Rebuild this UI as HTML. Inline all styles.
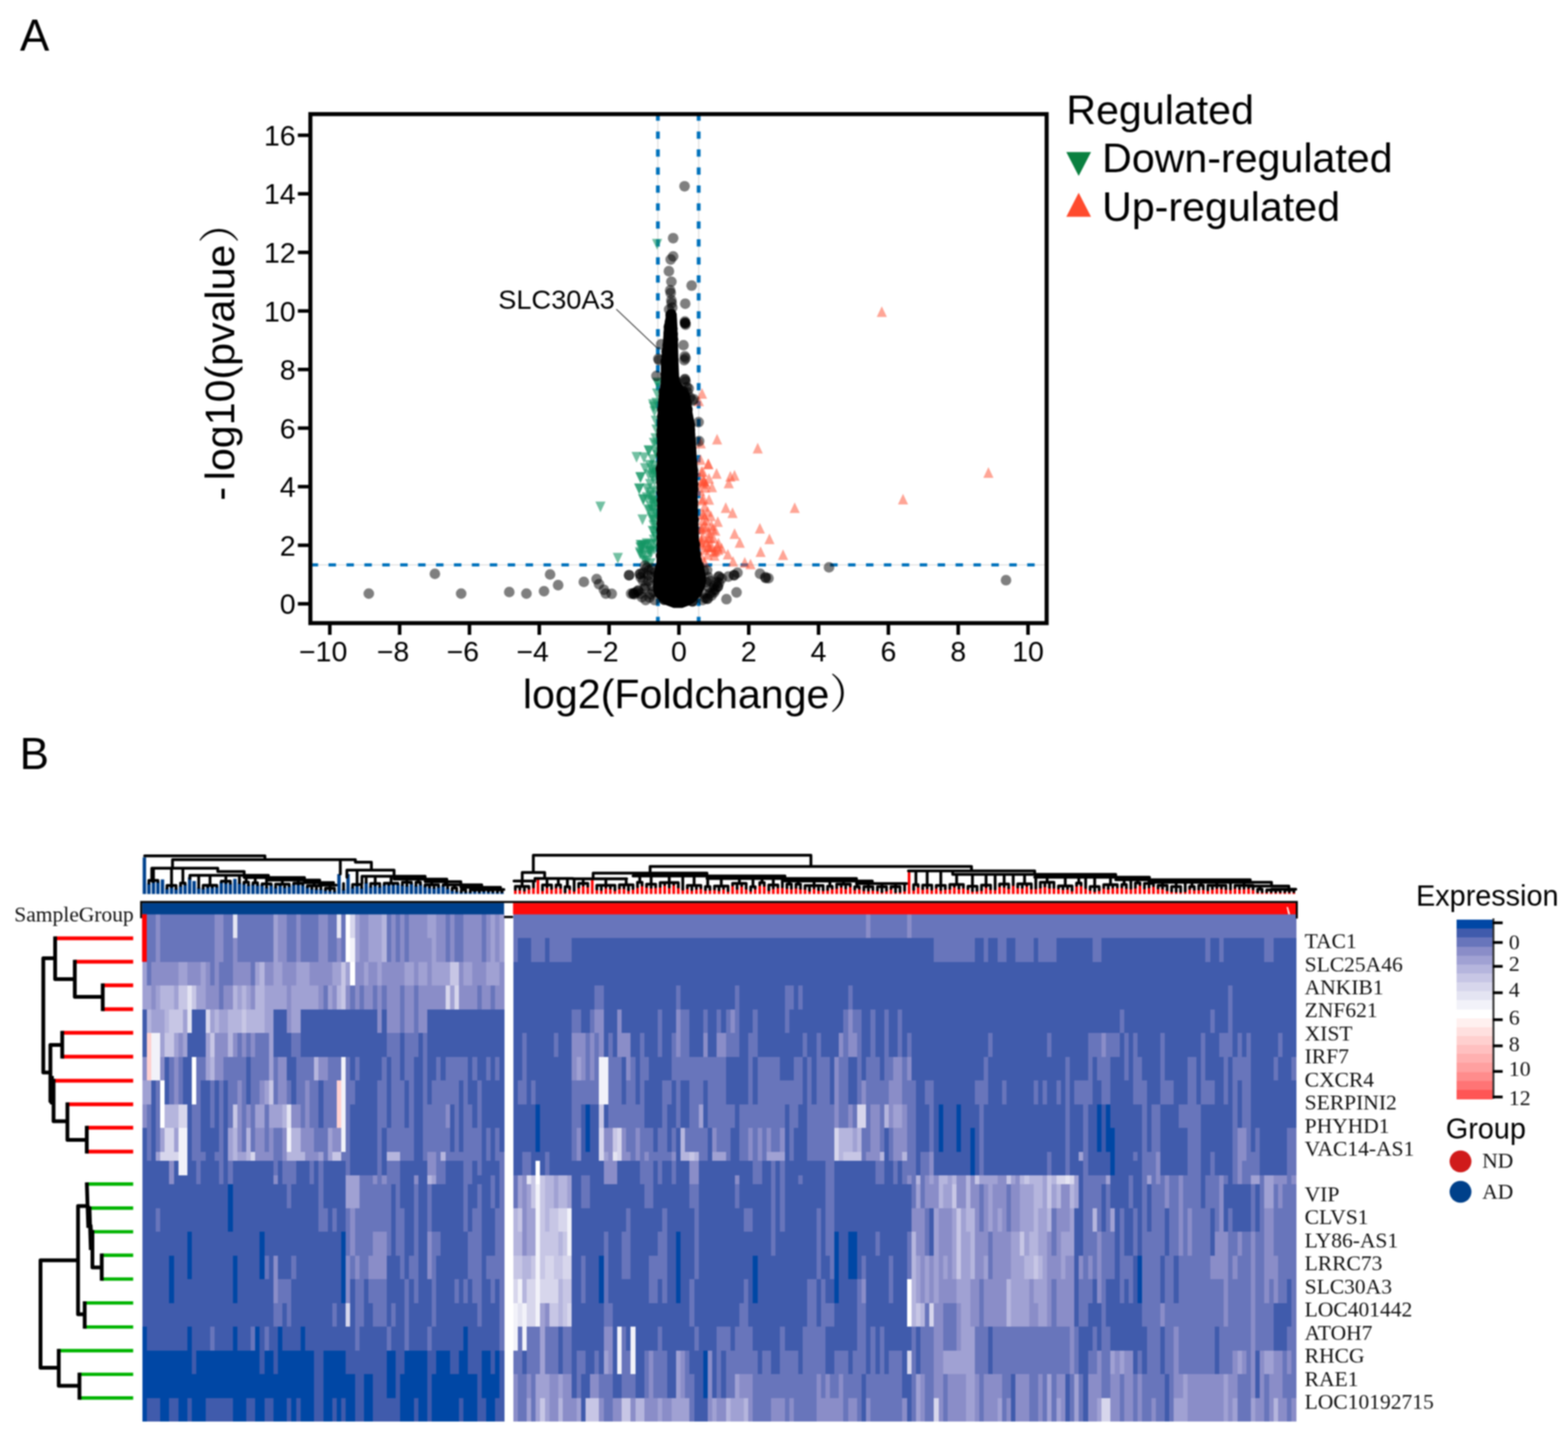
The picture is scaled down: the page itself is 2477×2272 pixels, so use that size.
<!DOCTYPE html>
<html lang="en">
<head>
<meta charset="utf-8">
<title>Figure: volcano plot and expression heatmap</title>
<style>
html,body{margin:0;padding:0;background:#fff;}
body{width:2477px;height:2272px;overflow:hidden;}
svg{display:block;filter:blur(1px);}

</style>
</head>
<body>
<svg width="2477" height="2272" viewBox="0 0 2477 2272" role="img" aria-label="Volcano plot and expression heatmap">
<rect x="0" y="0" width="2477" height="2272" fill="#ffffff"/>
<text x="31.5" y="80" font-family="'Liberation Sans', 'Noto Sans CJK SC', sans-serif" font-size="69.5">A</text>
<text x="31" y="1215.3" font-family="'Liberation Sans', 'Noto Sans CJK SC', sans-serif" font-size="69.5">B</text>
<g id="volcano">
<line x1="490.3" y1="892.5" x2="1653.4" y2="892.5" stroke="#d9d9d9" stroke-width="1.6"/>
<line x1="1039.3" y1="180.3" x2="1039.3" y2="984.5" stroke="#d9d9d9" stroke-width="1.6"/>
<line x1="1103.7" y1="180.3" x2="1103.7" y2="984.5" stroke="#d9d9d9" stroke-width="1.6"/>
<line x1="493.3" y1="892.5" x2="1653.4" y2="892.5" stroke="#0072bc" stroke-width="5.2" stroke-dasharray="11.8 16.5" stroke-dashoffset="2.6"/>
<line x1="1039.3" y1="180.3" x2="1039.3" y2="984.5" stroke="#0072bc" stroke-width="6" stroke-dasharray="11.5 16.9" stroke-dashoffset="1"/>
<line x1="1103.7" y1="180.3" x2="1103.7" y2="984.5" stroke="#0072bc" stroke-width="6" stroke-dasharray="11.5 16.9" stroke-dashoffset="1"/>
<g id="pts-green" fill="#149664" fill-opacity="0.6">
<polygon points="1030.0,377.4 1046.0,377.4 1038.0,394.4"/>
<polygon points="940.5,792.6 956.5,792.6 948.5,809.6"/>
<polygon points="968.0,873.4 984.0,873.4 976.0,890.4"/>
<polygon points="997.6,714.1 1013.6,714.1 1005.6,731.1"/>
<polygon points="1009.3,714.8 1025.3,714.8 1017.3,731.8"/>
<polygon points="1017.0,704.3 1033.0,704.3 1025.0,721.3"/>
<polygon points="1024.5,634.4 1040.5,634.4 1032.5,651.4"/>
<polygon points="1031.0,598.8 1047.0,598.8 1039.0,615.8"/>
<polygon points="1030.5,596.6 1046.5,596.6 1038.5,613.6"/>
<polygon points="1023.7,630.8 1039.7,630.8 1031.7,647.8"/>
<polygon points="1029.0,628.5 1045.0,628.5 1037.0,645.5"/>
<polygon points="1029.0,670.8 1045.0,670.8 1037.0,687.8"/>
<polygon points="1027.5,684.5 1043.5,684.5 1035.5,701.5"/>
<polygon points="1029.0,695.1 1045.0,695.1 1037.0,712.1"/>
<polygon points="1016.8,703.5 1032.8,703.5 1024.8,720.5"/>
<polygon points="1023.0,717.8 1039.0,717.8 1031.0,734.8"/>
<polygon points="1023.0,734.5 1039.0,734.5 1031.0,751.5"/>
<polygon points="1024.4,727.8 1040.4,727.8 1032.4,744.8"/>
<polygon points="1004.0,745.8 1020.0,745.8 1012.0,762.8"/>
<polygon points="1016.8,741.5 1032.8,741.5 1024.8,758.5"/>
<polygon points="1001.7,764.2 1017.7,764.2 1009.7,781.2"/>
<polygon points="1007.8,780.8 1023.8,780.8 1015.8,797.8"/>
<polygon points="1013.8,777.8 1029.8,777.8 1021.8,794.8"/>
<polygon points="1020.0,774.8 1036.0,774.8 1028.0,791.8"/>
<polygon points="1026.0,767.3 1042.0,767.3 1034.0,784.3"/>
<polygon points="1007.0,812.8 1023.0,812.8 1015.0,829.8"/>
<polygon points="1021.4,809.8 1037.4,809.8 1029.4,826.8"/>
<polygon points="1023.0,797.6 1039.0,797.6 1031.0,814.6"/>
<polygon points="1024.4,821.8 1040.4,821.8 1032.4,838.8"/>
<polygon points="1023.0,830.8 1039.0,830.8 1031.0,847.8"/>
<polygon points="1027.5,839.8 1043.5,839.8 1035.5,856.8"/>
<polygon points="1007.8,853.6 1023.8,853.6 1015.8,870.6"/>
<polygon points="1013.8,850.6 1029.8,850.6 1021.8,867.6"/>
<polygon points="1003.5,746.3 1019.5,746.3 1011.5,763.3"/>
<polygon points="1002.0,763.8 1018.0,763.8 1010.0,780.8"/>
<polygon points="1008.5,781.3 1024.5,781.3 1016.5,798.3"/>
<polygon points="1026.0,751.8 1042.0,751.8 1034.0,768.8"/>
<polygon points="1028.0,786.8 1044.0,786.8 1036.0,803.8"/>
<polygon points="1019.0,756.8 1035.0,756.8 1027.0,773.8"/>
<polygon points="1022.0,743.8 1038.0,743.8 1030.0,760.8"/>
<polygon points="1028.0,706.8 1044.0,706.8 1036.0,723.8"/>
<polygon points="1025.0,691.8 1041.0,691.8 1033.0,708.8"/>
<polygon points="1028.0,656.8 1044.0,656.8 1036.0,673.8"/>
<polygon points="1026.0,641.8 1042.0,641.8 1034.0,658.8"/>
<polygon points="1030.0,613.8 1046.0,613.8 1038.0,630.8"/>
<polygon points="1028.0,801.8 1044.0,801.8 1036.0,818.8"/>
<polygon points="1026.0,813.8 1042.0,813.8 1034.0,830.8"/>
<polygon points="1020.0,791.8 1036.0,791.8 1028.0,808.8"/>
<polygon points="1014.0,763.8 1030.0,763.8 1022.0,780.8"/>
<polygon points="1018.0,726.8 1034.0,726.8 1026.0,743.8"/>
<polygon points="1011.0,731.8 1027.0,731.8 1019.0,748.8"/>
<polygon points="1022.0,781.8 1038.0,781.8 1030.0,798.8"/>
<polygon points="1016.0,796.8 1032.0,796.8 1024.0,813.8"/>
<polygon points="1029.0,826.8 1045.0,826.8 1037.0,843.8"/>
<polygon points="1025.0,844.8 1041.0,844.8 1033.0,861.8"/>
<polygon points="1011.1,854.9 1027.1,854.9 1019.1,871.9"/>
<polygon points="1020.2,852.3 1036.2,852.3 1028.2,869.3"/>
<polygon points="1017.0,862.2 1033.0,862.2 1025.0,879.2"/>
<polygon points="1003.6,867.1 1019.6,867.1 1011.6,884.1"/>
<polygon points="1003.0,864.5 1019.0,864.5 1011.0,881.5"/>
<polygon points="1004.0,852.9 1020.0,852.9 1012.0,869.9"/>
<polygon points="1013.9,877.9 1029.9,877.9 1021.9,894.9"/>
<polygon points="1005.5,857.4 1021.5,857.4 1013.5,874.4"/>
<polygon points="1019.6,882.0 1035.6,882.0 1027.6,899.0"/>
<polygon points="1018.2,863.3 1034.2,863.3 1026.2,880.3"/>
<polygon points="1029.3,851.4 1045.3,851.4 1037.3,868.4"/>
<polygon points="1026.0,859.6 1042.0,859.6 1034.0,876.6"/>
<polygon points="1006.0,853.8 1022.0,853.8 1014.0,870.8"/>
<polygon points="1010.6,877.5 1026.6,877.5 1018.6,894.5"/>
<polygon points="1007.1,869.6 1023.1,869.6 1015.1,886.6"/>
<polygon points="1019.9,862.5 1035.9,862.5 1027.9,879.5"/>
<polygon points="1017.3,851.9 1033.3,851.9 1025.3,868.9"/>
<polygon points="1003.7,856.8 1019.7,856.8 1011.7,873.8"/>
<polygon points="1021.1,864.3 1037.1,864.3 1029.1,881.3"/>
<polygon points="1010.8,869.7 1026.8,869.7 1018.8,886.7"/>
<polygon points="1023.9,739.8 1039.9,739.8 1031.9,756.8"/>
<polygon points="1028.3,803.6 1044.3,803.6 1036.3,820.6"/>
<polygon points="1021.2,783.7 1037.2,783.7 1029.2,800.7"/>
<polygon points="1024.8,831.8 1040.8,831.8 1032.8,848.8"/>
<polygon points="1027.5,737.9 1043.5,737.9 1035.5,754.9"/>
<polygon points="1030.7,710.7 1046.7,710.7 1038.7,727.7"/>
<polygon points="1023.4,812.9 1039.4,812.9 1031.4,829.9"/>
<polygon points="1020.0,770.0 1036.0,770.0 1028.0,787.0"/>
<polygon points="1018.5,798.7 1034.5,798.7 1026.5,815.7"/>
<polygon points="1027.9,783.5 1043.9,783.5 1035.9,800.5"/>
<polygon points="1029.4,742.0 1045.4,742.0 1037.4,759.0"/>
<polygon points="1027.0,786.9 1043.0,786.9 1035.0,803.9"/>
</g>
<g id="pts-red" fill="#ff4b2e" fill-opacity="0.5">
<polygon points="1385.0,500.7 1401.0,500.7 1393.0,483.9"/>
<polygon points="1553.4,754.9 1569.4,754.9 1561.4,738.1"/>
<polygon points="1418.5,797.0 1434.5,797.0 1426.5,780.2"/>
<polygon points="1247.4,810.5 1263.4,810.5 1255.4,793.7"/>
<polygon points="1101.0,629.9 1117.0,629.9 1109.0,613.1"/>
<polygon points="1096.0,641.8 1112.0,641.8 1104.0,625.0"/>
<polygon points="1124.8,702.3 1140.8,702.3 1132.8,685.5"/>
<polygon points="1189.0,716.4 1205.0,716.4 1197.0,699.6"/>
<polygon points="1111.0,741.0 1127.0,741.0 1119.0,724.2"/>
<polygon points="1124.0,756.4 1140.0,756.4 1132.0,739.6"/>
<polygon points="1145.8,760.9 1161.8,760.9 1153.8,744.1"/>
<polygon points="1152.3,759.4 1168.3,759.4 1160.3,742.6"/>
<polygon points="1143.2,771.4 1159.2,771.4 1151.2,754.6"/>
<polygon points="1104.7,768.4 1120.7,768.4 1112.7,751.6"/>
<polygon points="1112.0,764.2 1128.0,764.2 1120.0,747.4"/>
<polygon points="1116.8,777.8 1132.8,777.8 1124.8,761.0"/>
<polygon points="1103.0,796.0 1119.0,796.0 1111.0,779.2"/>
<polygon points="1112.0,797.4 1128.0,797.4 1120.0,780.6"/>
<polygon points="1138.5,810.4 1154.5,810.4 1146.5,793.6"/>
<polygon points="1149.2,818.4 1165.2,818.4 1157.2,801.6"/>
<polygon points="1192.4,843.0 1208.4,843.0 1200.4,826.2"/>
<polygon points="1152.4,851.4 1168.4,851.4 1160.4,834.6"/>
<polygon points="1207.5,859.8 1223.5,859.8 1215.5,843.0"/>
<polygon points="1160.6,865.4 1176.6,865.4 1168.6,848.6"/>
<polygon points="1193.5,880.0 1209.5,880.0 1201.5,863.2"/>
<polygon points="1229.0,884.7 1245.0,884.7 1237.0,867.9"/>
<polygon points="1141.8,884.0 1157.8,884.0 1149.8,867.2"/>
<polygon points="1120.5,885.9 1136.5,885.9 1128.5,869.1"/>
<polygon points="1150.0,895.2 1166.0,895.2 1158.0,878.4"/>
<polygon points="1168.5,896.9 1184.5,896.9 1176.5,880.1"/>
<polygon points="1177.6,899.6 1193.6,899.6 1185.6,882.8"/>
<polygon points="1098.7,734.4 1114.7,734.4 1106.7,717.6"/>
<polygon points="1110.8,741.4 1126.8,741.4 1118.8,724.6"/>
<polygon points="1102.0,753.4 1118.0,753.4 1110.0,736.6"/>
<polygon points="1100.0,770.4 1116.0,770.4 1108.0,753.6"/>
<polygon points="1106.0,778.4 1122.0,778.4 1114.0,761.6"/>
<polygon points="1101.0,798.4 1117.0,798.4 1109.0,781.6"/>
<polygon points="1105.0,808.4 1121.0,808.4 1113.0,791.6"/>
<polygon points="1110.0,816.4 1126.0,816.4 1118.0,799.6"/>
<polygon points="1115.0,823.4 1131.0,823.4 1123.0,806.6"/>
<polygon points="1102.0,820.4 1118.0,820.4 1110.0,803.6"/>
<polygon points="1108.0,830.4 1124.0,830.4 1116.0,813.6"/>
<polygon points="1116.0,838.4 1132.0,838.4 1124.0,821.6"/>
<polygon points="1122.0,846.4 1138.0,846.4 1130.0,829.6"/>
<polygon points="1104.0,840.4 1120.0,840.4 1112.0,823.6"/>
<polygon points="1112.0,850.4 1128.0,850.4 1120.0,833.6"/>
<polygon points="1119.0,858.4 1135.0,858.4 1127.0,841.6"/>
<polygon points="1127.0,866.4 1143.0,866.4 1135.0,849.6"/>
<polygon points="1132.0,874.4 1148.0,874.4 1140.0,857.6"/>
<polygon points="1102.0,856.4 1118.0,856.4 1110.0,839.6"/>
<polygon points="1108.0,864.4 1124.0,864.4 1116.0,847.6"/>
<polygon points="1114.0,872.4 1130.0,872.4 1122.0,855.6"/>
<polygon points="1122.0,878.4 1138.0,878.4 1130.0,861.6"/>
<polygon points="1104.0,876.4 1120.0,876.4 1112.0,859.6"/>
<polygon points="1110.0,884.4 1126.0,884.4 1118.0,867.6"/>
<polygon points="1100.0,888.4 1116.0,888.4 1108.0,871.6"/>
<polygon points="1105.0,896.4 1121.0,896.4 1113.0,879.6"/>
<polygon points="1099.0,868.4 1115.0,868.4 1107.0,851.6"/>
<polygon points="1104.0,768.4 1120.0,768.4 1112.0,751.6"/>
<polygon points="1107.0,772.4 1123.0,772.4 1115.0,755.6"/>
<polygon points="1102.0,766.4 1118.0,766.4 1110.0,749.6"/>
<polygon points="1099.0,708.4 1115.0,708.4 1107.0,691.6"/>
<polygon points="1100.0,753.4 1116.0,753.4 1108.0,736.6"/>
<polygon points="1098.0,783.4 1114.0,783.4 1106.0,766.6"/>
<polygon points="1117.7,844.0 1133.7,844.0 1125.7,827.2"/>
<polygon points="1126.6,876.7 1142.6,876.7 1134.6,859.9"/>
<polygon points="1114.1,857.9 1130.1,857.9 1122.1,841.1"/>
<polygon points="1100.1,860.4 1116.1,860.4 1108.1,843.6"/>
<polygon points="1120.0,879.9 1136.0,879.9 1128.0,863.1"/>
<polygon points="1125.9,832.5 1141.9,832.5 1133.9,815.7"/>
<polygon points="1111.1,858.2 1127.1,858.2 1119.1,841.4"/>
<polygon points="1098.8,844.3 1114.8,844.3 1106.8,827.5"/>
<polygon points="1103.7,821.2 1119.7,821.2 1111.7,804.4"/>
<polygon points="1100.0,864.9 1116.0,864.9 1108.0,848.1"/>
<polygon points="1102.4,830.0 1118.4,830.0 1110.4,813.2"/>
<polygon points="1111.3,871.8 1127.3,871.8 1119.3,855.0"/>
<polygon points="1100.7,843.5 1116.7,843.5 1108.7,826.7"/>
<polygon points="1116.7,872.6 1132.7,872.6 1124.7,855.8"/>
<polygon points="1125.9,871.3 1141.9,871.3 1133.9,854.5"/>
<polygon points="1107.5,841.2 1123.5,841.2 1115.5,824.4"/>
<polygon points="1110.2,872.6 1126.2,872.6 1118.2,855.8"/>
</g>
<g id="pts-grey" fill="#000" fill-opacity="0.5">
<circle cx="582.6" cy="937.9" r="8.4"/>
<circle cx="687.0" cy="906.6" r="8.4"/>
<circle cx="728.5" cy="937.9" r="8.4"/>
<circle cx="804.5" cy="935.4" r="8.4"/>
<circle cx="831.6" cy="937.9" r="8.4"/>
<circle cx="859.4" cy="934.1" r="8.4"/>
<circle cx="869.0" cy="907.6" r="8.4"/>
<circle cx="881.7" cy="924.5" r="8.4"/>
<circle cx="922.3" cy="919.4" r="8.4"/>
<circle cx="942.5" cy="915.0" r="8.4"/>
<circle cx="946.3" cy="923.0" r="8.4"/>
<circle cx="954.0" cy="931.8" r="8.4"/>
<circle cx="957.0" cy="937.8" r="8.4"/>
<circle cx="966.3" cy="938.2" r="8.4"/>
<circle cx="1309.6" cy="896.4" r="8.4"/>
<circle cx="1589.2" cy="916.7" r="8.4"/>
<circle cx="1081.4" cy="294.3" r="8.4"/>
<circle cx="1063.4" cy="376.3" r="8.4"/>
<circle cx="1063.4" cy="405.1" r="8.4"/>
<circle cx="1059.5" cy="410.0" r="8.4"/>
<circle cx="1056.7" cy="428.5" r="8.4"/>
<circle cx="1060.6" cy="445.1" r="8.4"/>
<circle cx="1092.6" cy="451.2" r="8.4"/>
<circle cx="1058.7" cy="458.6" r="8.4"/>
<circle cx="1059.5" cy="463.0" r="8.4"/>
<circle cx="1060.6" cy="474.4" r="8.4"/>
<circle cx="1061.0" cy="479.0" r="8.4"/>
<circle cx="1082.5" cy="479.8" r="8.4"/>
<circle cx="1057.0" cy="489.0" r="8.4"/>
<circle cx="1062.0" cy="486.0" r="8.4"/>
<circle cx="1082.3" cy="510.5" r="8.4"/>
<circle cx="1082.3" cy="510.5" r="8.4"/>
<circle cx="1082.0" cy="508.0" r="8.4"/>
<circle cx="1083.0" cy="513.0" r="8.4"/>
<circle cx="1082.3" cy="510.5" r="8.4"/>
<circle cx="1079.7" cy="545.4" r="8.4"/>
<circle cx="1081.8" cy="563.0" r="8.4"/>
<circle cx="1081.0" cy="569.0" r="8.4"/>
<circle cx="1083.0" cy="566.0" r="8.4"/>
<circle cx="1044.5" cy="544.0" r="8.4"/>
<circle cx="1040.0" cy="567.0" r="8.4"/>
<circle cx="1041.0" cy="569.0" r="8.4"/>
<circle cx="1037.0" cy="594.0" r="8.4"/>
<circle cx="1082.0" cy="599.0" r="8.4"/>
<circle cx="1082.0" cy="600.0" r="8.4"/>
<circle cx="1083.0" cy="603.0" r="8.4"/>
<circle cx="1085.0" cy="612.0" r="8.4"/>
<circle cx="1088.0" cy="614.0" r="8.4"/>
<circle cx="1086.0" cy="620.0" r="8.4"/>
<circle cx="1090.0" cy="628.0" r="8.4"/>
<circle cx="1094.0" cy="633.0" r="8.4"/>
<circle cx="1096.0" cy="631.0" r="8.4"/>
<circle cx="993.8" cy="908.8" r="8.4"/>
<circle cx="993.8" cy="908.8" r="8.4"/>
<circle cx="1011.0" cy="907.0" r="8.4"/>
<circle cx="1011.0" cy="907.0" r="8.4"/>
<circle cx="1018.8" cy="893.6" r="8.4"/>
<circle cx="1025.0" cy="901.0" r="8.4"/>
<circle cx="1015.8" cy="918.0" r="8.4"/>
<circle cx="1020.0" cy="925.5" r="8.4"/>
<circle cx="1000.6" cy="937.6" r="8.4"/>
<circle cx="1000.6" cy="937.6" r="8.4"/>
<circle cx="1008.0" cy="933.0" r="8.4"/>
<circle cx="1008.0" cy="934.0" r="8.4"/>
<circle cx="1014.0" cy="943.6" r="8.4"/>
<circle cx="1028.0" cy="939.0" r="8.4"/>
<circle cx="1034.0" cy="948.0" r="8.4"/>
<circle cx="1029.4" cy="911.8" r="8.4"/>
<circle cx="1035.5" cy="904.0" r="8.4"/>
<circle cx="1012.0" cy="912.0" r="8.4"/>
<circle cx="1016.0" cy="905.0" r="8.4"/>
<circle cx="1022.0" cy="897.0" r="8.4"/>
<circle cx="1018.0" cy="930.0" r="8.4"/>
<circle cx="1004.0" cy="936.0" r="8.4"/>
<circle cx="1012.0" cy="938.0" r="8.4"/>
<circle cx="1024.0" cy="918.0" r="8.4"/>
<circle cx="1030.0" cy="926.0" r="8.4"/>
<circle cx="1026.0" cy="944.0" r="8.4"/>
<circle cx="1020.0" cy="948.0" r="8.4"/>
<circle cx="1030.0" cy="898.0" r="8.4"/>
<circle cx="1024.0" cy="909.0" r="8.4"/>
<circle cx="1032.0" cy="935.0" r="8.4"/>
<circle cx="1002.0" cy="939.0" r="8.4"/>
<circle cx="997.0" cy="938.0" r="8.4"/>
<circle cx="1117.0" cy="901.0" r="8.4"/>
<circle cx="1118.8" cy="911.8" r="8.4"/>
<circle cx="1135.5" cy="911.0" r="8.4"/>
<circle cx="1135.5" cy="911.0" r="8.4"/>
<circle cx="1132.4" cy="919.4" r="8.4"/>
<circle cx="1134.0" cy="927.0" r="8.4"/>
<circle cx="1134.0" cy="927.0" r="8.4"/>
<circle cx="1126.4" cy="933.0" r="8.4"/>
<circle cx="1121.8" cy="937.6" r="8.4"/>
<circle cx="1114.0" cy="945.0" r="8.4"/>
<circle cx="1150.6" cy="911.0" r="8.4"/>
<circle cx="1165.0" cy="905.0" r="8.4"/>
<circle cx="1159.7" cy="908.8" r="8.4"/>
<circle cx="1159.7" cy="908.8" r="8.4"/>
<circle cx="1163.5" cy="936.0" r="8.4"/>
<circle cx="1147.6" cy="946.7" r="8.4"/>
<circle cx="1200.6" cy="906.5" r="8.4"/>
<circle cx="1209.7" cy="913.3" r="8.4"/>
<circle cx="1214.0" cy="913.6" r="8.4"/>
<circle cx="1209.0" cy="912.0" r="8.4"/>
<circle cx="1128.0" cy="925.0" r="8.4"/>
<circle cx="1130.0" cy="932.0" r="8.4"/>
<circle cx="1124.0" cy="941.0" r="8.4"/>
<circle cx="1118.0" cy="946.0" r="8.4"/>
<circle cx="1122.0" cy="918.0" r="8.4"/>
<circle cx="1128.0" cy="936.0" r="8.4"/>
<circle cx="1136.0" cy="921.0" r="8.4"/>
<circle cx="1140.0" cy="914.0" r="8.4"/>
<circle cx="1112.0" cy="902.0" r="8.4"/>
<circle cx="1116.0" cy="920.0" r="8.4"/>
<circle cx="1120.0" cy="928.0" r="8.4"/>
<circle cx="1112.0" cy="938.0" r="8.4"/>
<circle cx="1117.0" cy="946.0" r="8.4"/>
<circle cx="1110.0" cy="948.0" r="8.4"/>
<circle cx="1104.4" cy="697.0" r="8.4"/>
<circle cx="1103.6" cy="667.0" r="8.4"/>
</g>
<polygon points="1056.0,489.5 1052.5,496.0 1049.0,515.0 1047.0,545.0 1044.0,576.0 1044.0,600.0 1043.0,612.0 1041.0,622.0 1039.5,637.0 1039.0,652.0 1038.0,667.0 1038.0,697.0 1038.0,727.0 1036.5,745.0 1038.5,790.0 1038.0,820.0 1037.5,851.0 1037.5,875.0 1037.0,889.0 1034.0,900.0 1032.0,912.0 1031.5,925.0 1032.0,934.0 1036.0,943.0 1043.0,950.0 1052.0,956.0 1064.0,960.5 1078.0,960.5 1090.0,956.0 1099.0,950.0 1105.0,943.0 1110.5,934.0 1114.0,925.0 1115.5,912.0 1113.0,900.0 1109.0,889.0 1106.0,875.0 1104.0,851.0 1103.0,820.0 1102.0,790.0 1102.5,745.0 1101.0,727.0 1099.0,697.0 1097.0,667.0 1094.0,652.0 1092.0,637.0 1090.0,622.0 1080.0,612.0 1073.0,600.0 1072.0,576.0 1071.0,545.0 1070.0,515.0 1069.0,496.0 1066.0,489.5" fill="#000"/>
<g id="pts-edge" fill="#000" fill-opacity="0.85">
<circle cx="1059.4" cy="498.0" r="8.4"/>
<circle cx="1060.2" cy="496.4" r="8.4"/>
<circle cx="1058.8" cy="507.4" r="8.4"/>
<circle cx="1060.8" cy="504.4" r="8.4"/>
<circle cx="1056.7" cy="516.5" r="8.4"/>
<circle cx="1062.1" cy="519.2" r="8.4"/>
<circle cx="1056.4" cy="527.0" r="8.4"/>
<circle cx="1062.6" cy="528.0" r="8.4"/>
<circle cx="1056.9" cy="534.2" r="8.4"/>
<circle cx="1063.2" cy="536.5" r="8.4"/>
<circle cx="1054.8" cy="545.2" r="8.4"/>
<circle cx="1062.6" cy="542.9" r="8.4"/>
<circle cx="1053.0" cy="555.4" r="8.4"/>
<circle cx="1062.0" cy="553.7" r="8.4"/>
<circle cx="1053.0" cy="563.2" r="8.4"/>
<circle cx="1062.2" cy="560.2" r="8.4"/>
<circle cx="1051.6" cy="571.0" r="8.4"/>
<circle cx="1063.3" cy="568.1" r="8.4"/>
<circle cx="1052.5" cy="582.3" r="8.4"/>
<circle cx="1063.2" cy="580.9" r="8.4"/>
<circle cx="1051.8" cy="591.1" r="8.4"/>
<circle cx="1063.5" cy="593.2" r="8.4"/>
<circle cx="1051.8" cy="603.0" r="8.4"/>
<circle cx="1066.6" cy="600.6" r="8.4"/>
<circle cx="1050.8" cy="610.6" r="8.4"/>
<circle cx="1070.4" cy="612.5" r="8.4"/>
<circle cx="1048.6" cy="618.4" r="8.4"/>
<circle cx="1079.4" cy="618.5" r="8.4"/>
<circle cx="1048.9" cy="626.1" r="8.4"/>
<circle cx="1081.1" cy="626.3" r="8.4"/>
<circle cx="1048.6" cy="638.0" r="8.4"/>
<circle cx="1084.5" cy="636.6" r="8.4"/>
<circle cx="1046.4" cy="646.8" r="8.4"/>
<circle cx="1085.9" cy="647.0" r="8.4"/>
<circle cx="1046.3" cy="657.7" r="8.4"/>
<circle cx="1086.2" cy="659.6" r="8.4"/>
<circle cx="1047.1" cy="669.6" r="8.4"/>
<circle cx="1089.9" cy="671.6" r="8.4"/>
<circle cx="1045.4" cy="680.3" r="8.4"/>
<circle cx="1089.8" cy="679.5" r="8.4"/>
<circle cx="1044.9" cy="687.5" r="8.4"/>
<circle cx="1089.6" cy="686.0" r="8.4"/>
<circle cx="1047.4" cy="697.9" r="8.4"/>
<circle cx="1090.8" cy="700.6" r="8.4"/>
<circle cx="1047.4" cy="709.9" r="8.4"/>
<circle cx="1091.3" cy="708.2" r="8.4"/>
<circle cx="1045.3" cy="718.0" r="8.4"/>
<circle cx="1091.5" cy="718.8" r="8.4"/>
<circle cx="1046.9" cy="729.5" r="8.4"/>
<circle cx="1093.0" cy="730.4" r="8.4"/>
<circle cx="1043.9" cy="740.5" r="8.4"/>
<circle cx="1094.4" cy="743.0" r="8.4"/>
<circle cx="1045.6" cy="751.4" r="8.4"/>
<circle cx="1094.2" cy="749.5" r="8.4"/>
<circle cx="1045.0" cy="762.4" r="8.4"/>
<circle cx="1095.0" cy="765.2" r="8.4"/>
<circle cx="1045.6" cy="771.4" r="8.4"/>
<circle cx="1095.3" cy="772.7" r="8.4"/>
<circle cx="1045.2" cy="779.2" r="8.4"/>
<circle cx="1093.0" cy="781.6" r="8.4"/>
<circle cx="1045.7" cy="790.2" r="8.4"/>
<circle cx="1094.7" cy="793.1" r="8.4"/>
<circle cx="1046.1" cy="800.5" r="8.4"/>
<circle cx="1094.3" cy="798.3" r="8.4"/>
<circle cx="1047.6" cy="807.6" r="8.4"/>
<circle cx="1094.8" cy="807.8" r="8.4"/>
<circle cx="1046.0" cy="819.3" r="8.4"/>
<circle cx="1095.8" cy="821.2" r="8.4"/>
<circle cx="1045.4" cy="827.3" r="8.4"/>
<circle cx="1094.5" cy="825.8" r="8.4"/>
<circle cx="1045.2" cy="837.3" r="8.4"/>
<circle cx="1095.2" cy="835.0" r="8.4"/>
<circle cx="1045.3" cy="848.8" r="8.4"/>
<circle cx="1095.7" cy="849.3" r="8.4"/>
<circle cx="1045.4" cy="860.3" r="8.4"/>
<circle cx="1097.8" cy="860.3" r="8.4"/>
<circle cx="1045.7" cy="870.0" r="8.4"/>
<circle cx="1096.1" cy="869.6" r="8.4"/>
<circle cx="1044.2" cy="877.9" r="8.4"/>
<circle cx="1099.3" cy="875.9" r="8.4"/>
<circle cx="1045.8" cy="887.3" r="8.4"/>
<circle cx="1100.6" cy="886.2" r="8.4"/>
<circle cx="1043.2" cy="896.9" r="8.4"/>
<circle cx="1104.5" cy="894.5" r="8.4"/>
<circle cx="1040.4" cy="906.7" r="8.4"/>
<circle cx="1105.6" cy="908.3" r="8.4"/>
<circle cx="1040.2" cy="916.2" r="8.4"/>
<circle cx="1107.6" cy="918.7" r="8.4"/>
<circle cx="1040.0" cy="925.4" r="8.4"/>
<circle cx="1105.7" cy="925.5" r="8.4"/>
<circle cx="1040.9" cy="935.9" r="8.4"/>
<circle cx="1101.3" cy="935.7" r="8.4"/>
<circle cx="1049.3" cy="947.6" r="8.4"/>
<circle cx="1093.9" cy="950.2" r="8.4"/>
</g>
<rect x="490.3" y="180.3" width="1163.1000000000001" height="804.2" fill="none" stroke="#000" stroke-width="6.4"/>
<line x1="470.5" y1="954.0" x2="490.3" y2="954.0" stroke="#000" stroke-width="5.6"/>
<text x="467" y="970.2" text-anchor="end" font-family="'Liberation Sans', 'Noto Sans CJK SC', sans-serif" font-size="45">0</text>
<line x1="470.5" y1="861.5" x2="490.3" y2="861.5" stroke="#000" stroke-width="5.6"/>
<text x="467" y="877.7" text-anchor="end" font-family="'Liberation Sans', 'Noto Sans CJK SC', sans-serif" font-size="45">2</text>
<line x1="470.5" y1="768.9" x2="490.3" y2="768.9" stroke="#000" stroke-width="5.6"/>
<text x="467" y="785.1" text-anchor="end" font-family="'Liberation Sans', 'Noto Sans CJK SC', sans-serif" font-size="45">4</text>
<line x1="470.5" y1="676.4" x2="490.3" y2="676.4" stroke="#000" stroke-width="5.6"/>
<text x="467" y="692.6" text-anchor="end" font-family="'Liberation Sans', 'Noto Sans CJK SC', sans-serif" font-size="45">6</text>
<line x1="470.5" y1="583.8" x2="490.3" y2="583.8" stroke="#000" stroke-width="5.6"/>
<text x="467" y="600.0" text-anchor="end" font-family="'Liberation Sans', 'Noto Sans CJK SC', sans-serif" font-size="45">8</text>
<line x1="470.5" y1="491.3" x2="490.3" y2="491.3" stroke="#000" stroke-width="5.6"/>
<text x="467" y="507.5" text-anchor="end" font-family="'Liberation Sans', 'Noto Sans CJK SC', sans-serif" font-size="45">10</text>
<line x1="470.5" y1="398.8" x2="490.3" y2="398.8" stroke="#000" stroke-width="5.6"/>
<text x="467" y="415.0" text-anchor="end" font-family="'Liberation Sans', 'Noto Sans CJK SC', sans-serif" font-size="45">12</text>
<line x1="470.5" y1="306.2" x2="490.3" y2="306.2" stroke="#000" stroke-width="5.6"/>
<text x="467" y="322.4" text-anchor="end" font-family="'Liberation Sans', 'Noto Sans CJK SC', sans-serif" font-size="45">14</text>
<line x1="470.5" y1="213.7" x2="490.3" y2="213.7" stroke="#000" stroke-width="5.6"/>
<text x="467" y="229.9" text-anchor="end" font-family="'Liberation Sans', 'Noto Sans CJK SC', sans-serif" font-size="45">16</text>
<line x1="521.0" y1="984.5" x2="521.0" y2="1003" stroke="#000" stroke-width="5.6"/>
<text x="510.5" y="1044.8" text-anchor="middle" font-family="'Liberation Sans', 'Noto Sans CJK SC', sans-serif" font-size="45">−10</text>
<line x1="631.3" y1="984.5" x2="631.3" y2="1003" stroke="#000" stroke-width="5.6"/>
<text x="620.8" y="1044.8" text-anchor="middle" font-family="'Liberation Sans', 'Noto Sans CJK SC', sans-serif" font-size="45">−8</text>
<line x1="741.6" y1="984.5" x2="741.6" y2="1003" stroke="#000" stroke-width="5.6"/>
<text x="731.1" y="1044.8" text-anchor="middle" font-family="'Liberation Sans', 'Noto Sans CJK SC', sans-serif" font-size="45">−6</text>
<line x1="851.9" y1="984.5" x2="851.9" y2="1003" stroke="#000" stroke-width="5.6"/>
<text x="841.4" y="1044.8" text-anchor="middle" font-family="'Liberation Sans', 'Noto Sans CJK SC', sans-serif" font-size="45">−4</text>
<line x1="962.2" y1="984.5" x2="962.2" y2="1003" stroke="#000" stroke-width="5.6"/>
<text x="951.7" y="1044.8" text-anchor="middle" font-family="'Liberation Sans', 'Noto Sans CJK SC', sans-serif" font-size="45">−2</text>
<line x1="1072.5" y1="984.5" x2="1072.5" y2="1003" stroke="#000" stroke-width="5.6"/>
<text x="1072.5" y="1044.8" text-anchor="middle" font-family="'Liberation Sans', 'Noto Sans CJK SC', sans-serif" font-size="45">0</text>
<line x1="1182.8" y1="984.5" x2="1182.8" y2="1003" stroke="#000" stroke-width="5.6"/>
<text x="1182.8" y="1044.8" text-anchor="middle" font-family="'Liberation Sans', 'Noto Sans CJK SC', sans-serif" font-size="45">2</text>
<line x1="1293.1" y1="984.5" x2="1293.1" y2="1003" stroke="#000" stroke-width="5.6"/>
<text x="1293.1" y="1044.8" text-anchor="middle" font-family="'Liberation Sans', 'Noto Sans CJK SC', sans-serif" font-size="45">4</text>
<line x1="1403.4" y1="984.5" x2="1403.4" y2="1003" stroke="#000" stroke-width="5.6"/>
<text x="1403.4" y="1044.8" text-anchor="middle" font-family="'Liberation Sans', 'Noto Sans CJK SC', sans-serif" font-size="45">6</text>
<line x1="1513.7" y1="984.5" x2="1513.7" y2="1003" stroke="#000" stroke-width="5.6"/>
<text x="1513.7" y="1044.8" text-anchor="middle" font-family="'Liberation Sans', 'Noto Sans CJK SC', sans-serif" font-size="45">8</text>
<line x1="1624.0" y1="984.5" x2="1624.0" y2="1003" stroke="#000" stroke-width="5.6"/>
<text x="1624.0" y="1044.8" text-anchor="middle" font-family="'Liberation Sans', 'Noto Sans CJK SC', sans-serif" font-size="45">10</text>
<text x="826" y="1119.3" font-family="'Liberation Sans', 'Noto Serif CJK SC', sans-serif" font-size="65">log2(Foldchange）</text>
<text transform="translate(369.8,791) rotate(-90)" font-family="'Liberation Sans', 'Noto Serif CJK SC', sans-serif" font-size="65">-<tspan dx="10.6">log10(pvalue</tspan><tspan dx="2">）</tspan></text>
<line x1="973.5" y1="488.5" x2="1040.5" y2="552" stroke="#333" stroke-width="1.5"/>
<text x="787" y="488" font-family="'Liberation Sans', 'Noto Sans CJK SC', sans-serif" font-size="43">SLC30A3</text>
<text x="1684.5" y="195.5" font-family="'Liberation Sans', 'Noto Sans CJK SC', sans-serif" font-size="65">Regulated</text>
<polygon points="1684.5,240.3 1723.5,240.3 1704,278" fill="#0a8040"/>
<text x="1741" y="271.6" font-family="'Liberation Sans', 'Noto Sans CJK SC', sans-serif" font-size="65">Down-regulated</text>
<polygon points="1684.5,342.6 1723.5,342.6 1704,304.6" fill="#ff4b2e"/>
<text x="1741" y="349.3" font-family="'Liberation Sans', 'Noto Sans CJK SC', sans-serif" font-size="65">Up-regulated</text>
</g>
<g id="heatmap" shape-rendering="crispEdges">
<rect x="224.50" y="1444.40" width="21.75" height="37.95" fill="#6875bb"/>
<rect x="245.95" y="1444.40" width="7.45" height="37.95" fill="#8a8dc8"/>
<rect x="253.10" y="1444.40" width="86.10" height="37.95" fill="#6875bb"/>
<rect x="338.90" y="1444.40" width="14.60" height="37.95" fill="#8a8dc8"/>
<rect x="353.20" y="1444.40" width="14.60" height="37.95" fill="#6875bb"/>
<rect x="367.50" y="1444.40" width="7.45" height="37.95" fill="#e4e4f2"/>
<rect x="374.65" y="1444.40" width="57.50" height="37.95" fill="#6875bb"/>
<rect x="431.85" y="1444.40" width="7.45" height="37.95" fill="#a0a1d3"/>
<rect x="439.00" y="1444.40" width="14.60" height="37.95" fill="#8a8dc8"/>
<rect x="453.30" y="1444.40" width="14.60" height="37.95" fill="#6875bb"/>
<rect x="467.60" y="1444.40" width="7.45" height="37.95" fill="#8a8dc8"/>
<rect x="474.75" y="1444.40" width="28.90" height="37.95" fill="#6875bb"/>
<rect x="503.35" y="1444.40" width="14.60" height="37.95" fill="#8a8dc8"/>
<rect x="517.65" y="1444.40" width="14.60" height="37.95" fill="#6875bb"/>
<rect x="531.95" y="1444.40" width="7.45" height="37.95" fill="#e4e4f2"/>
<rect x="539.10" y="1444.40" width="7.45" height="37.95" fill="#6875bb"/>
<rect x="546.25" y="1444.40" width="7.45" height="37.95" fill="#ffffff"/>
<rect x="553.40" y="1444.40" width="7.45" height="37.95" fill="#d7d6ec"/>
<rect x="560.55" y="1444.40" width="7.45" height="37.95" fill="#a0a1d3"/>
<rect x="567.70" y="1444.40" width="14.60" height="37.95" fill="#8a8dc8"/>
<rect x="582.00" y="1444.40" width="21.75" height="37.95" fill="#a0a1d3"/>
<rect x="603.45" y="1444.40" width="7.45" height="37.95" fill="#b5b5dd"/>
<rect x="610.60" y="1444.40" width="7.45" height="37.95" fill="#6875bb"/>
<rect x="617.75" y="1444.40" width="7.45" height="37.95" fill="#8a8dc8"/>
<rect x="624.90" y="1444.40" width="7.45" height="37.95" fill="#6875bb"/>
<rect x="632.05" y="1444.40" width="7.45" height="37.95" fill="#8a8dc8"/>
<rect x="639.20" y="1444.40" width="7.45" height="37.95" fill="#6875bb"/>
<rect x="646.35" y="1444.40" width="28.90" height="37.95" fill="#8a8dc8"/>
<rect x="674.95" y="1444.40" width="14.60" height="37.95" fill="#a0a1d3"/>
<rect x="689.25" y="1444.40" width="14.60" height="37.95" fill="#8a8dc8"/>
<rect x="703.55" y="1444.40" width="7.45" height="37.95" fill="#6875bb"/>
<rect x="710.70" y="1444.40" width="7.45" height="37.95" fill="#8a8dc8"/>
<rect x="717.85" y="1444.40" width="14.60" height="37.95" fill="#6875bb"/>
<rect x="732.15" y="1444.40" width="28.90" height="37.95" fill="#8a8dc8"/>
<rect x="760.75" y="1444.40" width="7.45" height="37.95" fill="#6875bb"/>
<rect x="767.90" y="1444.40" width="7.45" height="37.95" fill="#8a8dc8"/>
<rect x="775.05" y="1444.40" width="7.45" height="37.95" fill="#a0a1d3"/>
<rect x="782.20" y="1444.40" width="7.45" height="37.95" fill="#8a8dc8"/>
<rect x="789.35" y="1444.40" width="7.45" height="37.95" fill="#a0a1d3"/>
<rect x="810.50" y="1444.40" width="558.00" height="37.95" fill="#6875bb"/>
<rect x="1368.20" y="1444.40" width="7.45" height="37.95" fill="#8a8dc8"/>
<rect x="1375.35" y="1444.40" width="57.50" height="37.95" fill="#6875bb"/>
<rect x="1432.55" y="1444.40" width="7.45" height="37.95" fill="#8a8dc8"/>
<rect x="1439.70" y="1444.40" width="608.05" height="37.95" fill="#6875bb"/>
<rect x="224.50" y="1481.95" width="21.75" height="37.95" fill="#6875bb"/>
<rect x="245.95" y="1481.95" width="7.45" height="37.95" fill="#8a8dc8"/>
<rect x="253.10" y="1481.95" width="86.10" height="37.95" fill="#6875bb"/>
<rect x="338.90" y="1481.95" width="14.60" height="37.95" fill="#8a8dc8"/>
<rect x="353.20" y="1481.95" width="14.60" height="37.95" fill="#6875bb"/>
<rect x="367.50" y="1481.95" width="7.45" height="37.95" fill="#8a8dc8"/>
<rect x="374.65" y="1481.95" width="57.50" height="37.95" fill="#6875bb"/>
<rect x="431.85" y="1481.95" width="7.45" height="37.95" fill="#a0a1d3"/>
<rect x="439.00" y="1481.95" width="14.60" height="37.95" fill="#8a8dc8"/>
<rect x="453.30" y="1481.95" width="14.60" height="37.95" fill="#6875bb"/>
<rect x="467.60" y="1481.95" width="7.45" height="37.95" fill="#8a8dc8"/>
<rect x="474.75" y="1481.95" width="28.90" height="37.95" fill="#6875bb"/>
<rect x="503.35" y="1481.95" width="14.60" height="37.95" fill="#8a8dc8"/>
<rect x="517.65" y="1481.95" width="14.60" height="37.95" fill="#6875bb"/>
<rect x="531.95" y="1481.95" width="7.45" height="37.95" fill="#8a8dc8"/>
<rect x="539.10" y="1481.95" width="7.45" height="37.95" fill="#6875bb"/>
<rect x="546.25" y="1481.95" width="7.45" height="37.95" fill="#ffffff"/>
<rect x="553.40" y="1481.95" width="7.45" height="37.95" fill="#f2f2f9"/>
<rect x="560.55" y="1481.95" width="7.45" height="37.95" fill="#a0a1d3"/>
<rect x="567.70" y="1481.95" width="14.60" height="37.95" fill="#8a8dc8"/>
<rect x="582.00" y="1481.95" width="21.75" height="37.95" fill="#a0a1d3"/>
<rect x="603.45" y="1481.95" width="7.45" height="37.95" fill="#b5b5dd"/>
<rect x="610.60" y="1481.95" width="7.45" height="37.95" fill="#6875bb"/>
<rect x="617.75" y="1481.95" width="7.45" height="37.95" fill="#8a8dc8"/>
<rect x="624.90" y="1481.95" width="7.45" height="37.95" fill="#6875bb"/>
<rect x="632.05" y="1481.95" width="7.45" height="37.95" fill="#8a8dc8"/>
<rect x="639.20" y="1481.95" width="7.45" height="37.95" fill="#6875bb"/>
<rect x="646.35" y="1481.95" width="36.05" height="37.95" fill="#8a8dc8"/>
<rect x="682.10" y="1481.95" width="7.45" height="37.95" fill="#a0a1d3"/>
<rect x="689.25" y="1481.95" width="14.60" height="37.95" fill="#8a8dc8"/>
<rect x="703.55" y="1481.95" width="7.45" height="37.95" fill="#6875bb"/>
<rect x="710.70" y="1481.95" width="7.45" height="37.95" fill="#8a8dc8"/>
<rect x="717.85" y="1481.95" width="14.60" height="37.95" fill="#6875bb"/>
<rect x="732.15" y="1481.95" width="28.90" height="37.95" fill="#8a8dc8"/>
<rect x="760.75" y="1481.95" width="7.45" height="37.95" fill="#6875bb"/>
<rect x="767.90" y="1481.95" width="7.45" height="37.95" fill="#8a8dc8"/>
<rect x="775.05" y="1481.95" width="7.45" height="37.95" fill="#a0a1d3"/>
<rect x="782.20" y="1481.95" width="7.45" height="37.95" fill="#8a8dc8"/>
<rect x="789.35" y="1481.95" width="7.45" height="37.95" fill="#a0a1d3"/>
<rect x="810.50" y="1481.95" width="7.45" height="37.95" fill="#6875bb"/>
<rect x="817.65" y="1481.95" width="21.75" height="37.95" fill="#405bac"/>
<rect x="839.10" y="1481.95" width="21.75" height="37.95" fill="#6875bb"/>
<rect x="860.55" y="1481.95" width="7.45" height="37.95" fill="#405bac"/>
<rect x="867.70" y="1481.95" width="36.05" height="37.95" fill="#6875bb"/>
<rect x="903.45" y="1481.95" width="572.30" height="37.95" fill="#405bac"/>
<rect x="1475.45" y="1481.95" width="64.65" height="37.95" fill="#6875bb"/>
<rect x="1539.80" y="1481.95" width="14.60" height="37.95" fill="#405bac"/>
<rect x="1554.10" y="1481.95" width="7.45" height="37.95" fill="#6875bb"/>
<rect x="1561.25" y="1481.95" width="14.60" height="37.95" fill="#405bac"/>
<rect x="1575.55" y="1481.95" width="14.60" height="37.95" fill="#6875bb"/>
<rect x="1589.85" y="1481.95" width="14.60" height="37.95" fill="#405bac"/>
<rect x="1604.15" y="1481.95" width="28.90" height="37.95" fill="#6875bb"/>
<rect x="1632.75" y="1481.95" width="7.45" height="37.95" fill="#405bac"/>
<rect x="1639.90" y="1481.95" width="28.90" height="37.95" fill="#6875bb"/>
<rect x="1668.50" y="1481.95" width="57.50" height="37.95" fill="#405bac"/>
<rect x="1725.70" y="1481.95" width="14.60" height="37.95" fill="#6875bb"/>
<rect x="1740.00" y="1481.95" width="164.75" height="37.95" fill="#405bac"/>
<rect x="1904.45" y="1481.95" width="7.45" height="37.95" fill="#6875bb"/>
<rect x="1911.60" y="1481.95" width="14.60" height="37.95" fill="#405bac"/>
<rect x="1925.90" y="1481.95" width="7.45" height="37.95" fill="#6875bb"/>
<rect x="1933.05" y="1481.95" width="64.65" height="37.95" fill="#405bac"/>
<rect x="1997.40" y="1481.95" width="14.60" height="37.95" fill="#6875bb"/>
<rect x="2011.70" y="1481.95" width="36.05" height="37.95" fill="#405bac"/>
<rect x="224.50" y="1519.50" width="7.45" height="37.95" fill="#a0a1d3"/>
<rect x="231.65" y="1519.50" width="7.45" height="37.95" fill="#6875bb"/>
<rect x="238.80" y="1519.50" width="43.20" height="37.95" fill="#8a8dc8"/>
<rect x="281.70" y="1519.50" width="14.60" height="37.95" fill="#a0a1d3"/>
<rect x="296.00" y="1519.50" width="21.75" height="37.95" fill="#8a8dc8"/>
<rect x="317.45" y="1519.50" width="7.45" height="37.95" fill="#a0a1d3"/>
<rect x="324.60" y="1519.50" width="7.45" height="37.95" fill="#8a8dc8"/>
<rect x="331.75" y="1519.50" width="7.45" height="37.95" fill="#6875bb"/>
<rect x="338.90" y="1519.50" width="7.45" height="37.95" fill="#8a8dc8"/>
<rect x="346.05" y="1519.50" width="21.75" height="37.95" fill="#6875bb"/>
<rect x="367.50" y="1519.50" width="28.90" height="37.95" fill="#8a8dc8"/>
<rect x="396.10" y="1519.50" width="7.45" height="37.95" fill="#6875bb"/>
<rect x="403.25" y="1519.50" width="7.45" height="37.95" fill="#a0a1d3"/>
<rect x="410.40" y="1519.50" width="7.45" height="37.95" fill="#b5b5dd"/>
<rect x="417.55" y="1519.50" width="14.60" height="37.95" fill="#8a8dc8"/>
<rect x="431.85" y="1519.50" width="14.60" height="37.95" fill="#a0a1d3"/>
<rect x="446.15" y="1519.50" width="21.75" height="37.95" fill="#8a8dc8"/>
<rect x="467.60" y="1519.50" width="21.75" height="37.95" fill="#a0a1d3"/>
<rect x="489.05" y="1519.50" width="36.05" height="37.95" fill="#8a8dc8"/>
<rect x="524.80" y="1519.50" width="14.60" height="37.95" fill="#a0a1d3"/>
<rect x="539.10" y="1519.50" width="7.45" height="37.95" fill="#c7c6e5"/>
<rect x="546.25" y="1519.50" width="7.45" height="37.95" fill="#a0a1d3"/>
<rect x="553.40" y="1519.50" width="7.45" height="37.95" fill="#ffffff"/>
<rect x="560.55" y="1519.50" width="14.60" height="37.95" fill="#8a8dc8"/>
<rect x="574.85" y="1519.50" width="7.45" height="37.95" fill="#a0a1d3"/>
<rect x="582.00" y="1519.50" width="14.60" height="37.95" fill="#8a8dc8"/>
<rect x="596.30" y="1519.50" width="7.45" height="37.95" fill="#a0a1d3"/>
<rect x="603.45" y="1519.50" width="36.05" height="37.95" fill="#8a8dc8"/>
<rect x="639.20" y="1519.50" width="14.60" height="37.95" fill="#a0a1d3"/>
<rect x="653.50" y="1519.50" width="7.45" height="37.95" fill="#8a8dc8"/>
<rect x="660.65" y="1519.50" width="14.60" height="37.95" fill="#a0a1d3"/>
<rect x="674.95" y="1519.50" width="7.45" height="37.95" fill="#8a8dc8"/>
<rect x="682.10" y="1519.50" width="28.90" height="37.95" fill="#a0a1d3"/>
<rect x="710.70" y="1519.50" width="14.60" height="37.95" fill="#c7c6e5"/>
<rect x="725.00" y="1519.50" width="7.45" height="37.95" fill="#8a8dc8"/>
<rect x="732.15" y="1519.50" width="14.60" height="37.95" fill="#a0a1d3"/>
<rect x="746.45" y="1519.50" width="21.75" height="37.95" fill="#8a8dc8"/>
<rect x="767.90" y="1519.50" width="21.75" height="37.95" fill="#a0a1d3"/>
<rect x="789.35" y="1519.50" width="7.45" height="37.95" fill="#8a8dc8"/>
<rect x="810.50" y="1519.50" width="1237.25" height="37.95" fill="#405bac"/>
<rect x="224.50" y="1557.05" width="14.60" height="37.95" fill="#a0a1d3"/>
<rect x="238.80" y="1557.05" width="7.45" height="37.95" fill="#8a8dc8"/>
<rect x="245.95" y="1557.05" width="7.45" height="37.95" fill="#a0a1d3"/>
<rect x="253.10" y="1557.05" width="21.75" height="37.95" fill="#b5b5dd"/>
<rect x="274.55" y="1557.05" width="7.45" height="37.95" fill="#a0a1d3"/>
<rect x="281.70" y="1557.05" width="14.60" height="37.95" fill="#c7c6e5"/>
<rect x="296.00" y="1557.05" width="7.45" height="37.95" fill="#e4e4f2"/>
<rect x="303.15" y="1557.05" width="7.45" height="37.95" fill="#c7c6e5"/>
<rect x="310.30" y="1557.05" width="14.60" height="37.95" fill="#a0a1d3"/>
<rect x="324.60" y="1557.05" width="21.75" height="37.95" fill="#8a8dc8"/>
<rect x="346.05" y="1557.05" width="7.45" height="37.95" fill="#6875bb"/>
<rect x="353.20" y="1557.05" width="14.60" height="37.95" fill="#8a8dc8"/>
<rect x="367.50" y="1557.05" width="7.45" height="37.95" fill="#b5b5dd"/>
<rect x="374.65" y="1557.05" width="7.45" height="37.95" fill="#a0a1d3"/>
<rect x="381.80" y="1557.05" width="7.45" height="37.95" fill="#b5b5dd"/>
<rect x="388.95" y="1557.05" width="7.45" height="37.95" fill="#a0a1d3"/>
<rect x="396.10" y="1557.05" width="7.45" height="37.95" fill="#8a8dc8"/>
<rect x="403.25" y="1557.05" width="14.60" height="37.95" fill="#b5b5dd"/>
<rect x="417.55" y="1557.05" width="36.05" height="37.95" fill="#a0a1d3"/>
<rect x="453.30" y="1557.05" width="7.45" height="37.95" fill="#8a8dc8"/>
<rect x="460.45" y="1557.05" width="43.20" height="37.95" fill="#a0a1d3"/>
<rect x="503.35" y="1557.05" width="7.45" height="37.95" fill="#8a8dc8"/>
<rect x="510.50" y="1557.05" width="7.45" height="37.95" fill="#6875bb"/>
<rect x="517.65" y="1557.05" width="7.45" height="37.95" fill="#a0a1d3"/>
<rect x="524.80" y="1557.05" width="7.45" height="37.95" fill="#8a8dc8"/>
<rect x="531.95" y="1557.05" width="7.45" height="37.95" fill="#b5b5dd"/>
<rect x="539.10" y="1557.05" width="7.45" height="37.95" fill="#c7c6e5"/>
<rect x="546.25" y="1557.05" width="7.45" height="37.95" fill="#8a8dc8"/>
<rect x="553.40" y="1557.05" width="7.45" height="37.95" fill="#6875bb"/>
<rect x="560.55" y="1557.05" width="7.45" height="37.95" fill="#8a8dc8"/>
<rect x="567.70" y="1557.05" width="7.45" height="37.95" fill="#6875bb"/>
<rect x="574.85" y="1557.05" width="14.60" height="37.95" fill="#8a8dc8"/>
<rect x="589.15" y="1557.05" width="7.45" height="37.95" fill="#6875bb"/>
<rect x="596.30" y="1557.05" width="7.45" height="37.95" fill="#8a8dc8"/>
<rect x="603.45" y="1557.05" width="7.45" height="37.95" fill="#6875bb"/>
<rect x="610.60" y="1557.05" width="21.75" height="37.95" fill="#8a8dc8"/>
<rect x="632.05" y="1557.05" width="7.45" height="37.95" fill="#6875bb"/>
<rect x="639.20" y="1557.05" width="14.60" height="37.95" fill="#8a8dc8"/>
<rect x="653.50" y="1557.05" width="7.45" height="37.95" fill="#6875bb"/>
<rect x="660.65" y="1557.05" width="43.20" height="37.95" fill="#8a8dc8"/>
<rect x="703.55" y="1557.05" width="7.45" height="37.95" fill="#d7d6ec"/>
<rect x="710.70" y="1557.05" width="7.45" height="37.95" fill="#a0a1d3"/>
<rect x="717.85" y="1557.05" width="7.45" height="37.95" fill="#d7d6ec"/>
<rect x="725.00" y="1557.05" width="28.90" height="37.95" fill="#8a8dc8"/>
<rect x="753.60" y="1557.05" width="7.45" height="37.95" fill="#6875bb"/>
<rect x="760.75" y="1557.05" width="14.60" height="37.95" fill="#8a8dc8"/>
<rect x="775.05" y="1557.05" width="7.45" height="37.95" fill="#6875bb"/>
<rect x="782.20" y="1557.05" width="14.60" height="37.95" fill="#8a8dc8"/>
<rect x="810.50" y="1557.05" width="129.00" height="37.95" fill="#405bac"/>
<rect x="939.20" y="1557.05" width="14.60" height="37.95" fill="#6875bb"/>
<rect x="953.50" y="1557.05" width="114.70" height="37.95" fill="#405bac"/>
<rect x="1067.90" y="1557.05" width="7.45" height="37.95" fill="#6875bb"/>
<rect x="1075.05" y="1557.05" width="86.10" height="37.95" fill="#405bac"/>
<rect x="1160.85" y="1557.05" width="7.45" height="37.95" fill="#6875bb"/>
<rect x="1168.00" y="1557.05" width="71.80" height="37.95" fill="#405bac"/>
<rect x="1239.50" y="1557.05" width="14.60" height="37.95" fill="#6875bb"/>
<rect x="1253.80" y="1557.05" width="7.45" height="37.95" fill="#405bac"/>
<rect x="1260.95" y="1557.05" width="7.45" height="37.95" fill="#6875bb"/>
<rect x="1268.10" y="1557.05" width="71.80" height="37.95" fill="#405bac"/>
<rect x="1339.60" y="1557.05" width="7.45" height="37.95" fill="#6875bb"/>
<rect x="1346.75" y="1557.05" width="593.75" height="37.95" fill="#405bac"/>
<rect x="1940.20" y="1557.05" width="7.45" height="37.95" fill="#6875bb"/>
<rect x="1947.35" y="1557.05" width="100.40" height="37.95" fill="#405bac"/>
<rect x="224.50" y="1594.60" width="7.45" height="37.95" fill="#405bac"/>
<rect x="231.65" y="1594.60" width="7.45" height="37.95" fill="#b5b5dd"/>
<rect x="238.80" y="1594.60" width="21.75" height="37.95" fill="#a0a1d3"/>
<rect x="260.25" y="1594.60" width="7.45" height="37.95" fill="#b5b5dd"/>
<rect x="267.40" y="1594.60" width="21.75" height="37.95" fill="#c7c6e5"/>
<rect x="288.85" y="1594.60" width="7.45" height="37.95" fill="#a0a1d3"/>
<rect x="296.00" y="1594.60" width="7.45" height="37.95" fill="#e4e4f2"/>
<rect x="303.15" y="1594.60" width="21.75" height="37.95" fill="#405bac"/>
<rect x="324.60" y="1594.60" width="7.45" height="37.95" fill="#d7d6ec"/>
<rect x="331.75" y="1594.60" width="7.45" height="37.95" fill="#a0a1d3"/>
<rect x="338.90" y="1594.60" width="7.45" height="37.95" fill="#b5b5dd"/>
<rect x="346.05" y="1594.60" width="14.60" height="37.95" fill="#a0a1d3"/>
<rect x="360.35" y="1594.60" width="21.75" height="37.95" fill="#b5b5dd"/>
<rect x="381.80" y="1594.60" width="7.45" height="37.95" fill="#c7c6e5"/>
<rect x="388.95" y="1594.60" width="28.90" height="37.95" fill="#b5b5dd"/>
<rect x="417.55" y="1594.60" width="14.60" height="37.95" fill="#a0a1d3"/>
<rect x="431.85" y="1594.60" width="21.75" height="37.95" fill="#405bac"/>
<rect x="453.30" y="1594.60" width="7.45" height="37.95" fill="#8a8dc8"/>
<rect x="460.45" y="1594.60" width="14.60" height="37.95" fill="#a0a1d3"/>
<rect x="474.75" y="1594.60" width="121.85" height="37.95" fill="#405bac"/>
<rect x="596.30" y="1594.60" width="7.45" height="37.95" fill="#8a8dc8"/>
<rect x="603.45" y="1594.60" width="7.45" height="37.95" fill="#405bac"/>
<rect x="610.60" y="1594.60" width="21.75" height="37.95" fill="#8a8dc8"/>
<rect x="632.05" y="1594.60" width="7.45" height="37.95" fill="#6875bb"/>
<rect x="639.20" y="1594.60" width="14.60" height="37.95" fill="#8a8dc8"/>
<rect x="653.50" y="1594.60" width="7.45" height="37.95" fill="#6875bb"/>
<rect x="660.65" y="1594.60" width="14.60" height="37.95" fill="#8a8dc8"/>
<rect x="674.95" y="1594.60" width="121.85" height="37.95" fill="#405bac"/>
<rect x="810.50" y="1594.60" width="93.25" height="37.95" fill="#405bac"/>
<rect x="903.45" y="1594.60" width="14.60" height="37.95" fill="#6875bb"/>
<rect x="917.75" y="1594.60" width="14.60" height="37.95" fill="#405bac"/>
<rect x="932.05" y="1594.60" width="7.45" height="37.95" fill="#6875bb"/>
<rect x="939.20" y="1594.60" width="14.60" height="37.95" fill="#8a8dc8"/>
<rect x="953.50" y="1594.60" width="21.75" height="37.95" fill="#405bac"/>
<rect x="974.95" y="1594.60" width="7.45" height="37.95" fill="#8a8dc8"/>
<rect x="982.10" y="1594.60" width="57.50" height="37.95" fill="#405bac"/>
<rect x="1039.30" y="1594.60" width="7.45" height="37.95" fill="#6875bb"/>
<rect x="1046.45" y="1594.60" width="21.75" height="37.95" fill="#405bac"/>
<rect x="1067.90" y="1594.60" width="7.45" height="37.95" fill="#8a8dc8"/>
<rect x="1075.05" y="1594.60" width="14.60" height="37.95" fill="#6875bb"/>
<rect x="1089.35" y="1594.60" width="21.75" height="37.95" fill="#405bac"/>
<rect x="1110.80" y="1594.60" width="7.45" height="37.95" fill="#6875bb"/>
<rect x="1117.95" y="1594.60" width="14.60" height="37.95" fill="#405bac"/>
<rect x="1132.25" y="1594.60" width="7.45" height="37.95" fill="#6875bb"/>
<rect x="1139.40" y="1594.60" width="7.45" height="37.95" fill="#405bac"/>
<rect x="1146.55" y="1594.60" width="7.45" height="37.95" fill="#6875bb"/>
<rect x="1153.70" y="1594.60" width="7.45" height="37.95" fill="#8a8dc8"/>
<rect x="1160.85" y="1594.60" width="7.45" height="37.95" fill="#6875bb"/>
<rect x="1168.00" y="1594.60" width="21.75" height="37.95" fill="#405bac"/>
<rect x="1189.45" y="1594.60" width="7.45" height="37.95" fill="#6875bb"/>
<rect x="1196.60" y="1594.60" width="43.20" height="37.95" fill="#405bac"/>
<rect x="1239.50" y="1594.60" width="7.45" height="37.95" fill="#6875bb"/>
<rect x="1246.65" y="1594.60" width="86.10" height="37.95" fill="#405bac"/>
<rect x="1332.45" y="1594.60" width="7.45" height="37.95" fill="#6875bb"/>
<rect x="1339.60" y="1594.60" width="7.45" height="37.95" fill="#8a8dc8"/>
<rect x="1346.75" y="1594.60" width="14.60" height="37.95" fill="#6875bb"/>
<rect x="1361.05" y="1594.60" width="14.60" height="37.95" fill="#405bac"/>
<rect x="1375.35" y="1594.60" width="7.45" height="37.95" fill="#6875bb"/>
<rect x="1382.50" y="1594.60" width="14.60" height="37.95" fill="#405bac"/>
<rect x="1396.80" y="1594.60" width="7.45" height="37.95" fill="#6875bb"/>
<rect x="1403.95" y="1594.60" width="14.60" height="37.95" fill="#405bac"/>
<rect x="1418.25" y="1594.60" width="7.45" height="37.95" fill="#6875bb"/>
<rect x="1425.40" y="1594.60" width="343.50" height="37.95" fill="#405bac"/>
<rect x="1768.60" y="1594.60" width="7.45" height="37.95" fill="#6875bb"/>
<rect x="1775.75" y="1594.60" width="136.15" height="37.95" fill="#405bac"/>
<rect x="1911.60" y="1594.60" width="7.45" height="37.95" fill="#6875bb"/>
<rect x="1918.75" y="1594.60" width="21.75" height="37.95" fill="#405bac"/>
<rect x="1940.20" y="1594.60" width="7.45" height="37.95" fill="#6875bb"/>
<rect x="1947.35" y="1594.60" width="100.40" height="37.95" fill="#405bac"/>
<rect x="224.50" y="1632.15" width="7.45" height="37.95" fill="#405bac"/>
<rect x="231.65" y="1632.15" width="7.45" height="37.95" fill="#ffd0cf"/>
<rect x="238.80" y="1632.15" width="14.60" height="37.95" fill="#f2f2f9"/>
<rect x="253.10" y="1632.15" width="7.45" height="37.95" fill="#a0a1d3"/>
<rect x="260.25" y="1632.15" width="14.60" height="37.95" fill="#c7c6e5"/>
<rect x="274.55" y="1632.15" width="7.45" height="37.95" fill="#a0a1d3"/>
<rect x="281.70" y="1632.15" width="7.45" height="37.95" fill="#8a8dc8"/>
<rect x="288.85" y="1632.15" width="7.45" height="37.95" fill="#a0a1d3"/>
<rect x="296.00" y="1632.15" width="28.90" height="37.95" fill="#405bac"/>
<rect x="324.60" y="1632.15" width="7.45" height="37.95" fill="#a0a1d3"/>
<rect x="331.75" y="1632.15" width="7.45" height="37.95" fill="#c7c6e5"/>
<rect x="338.90" y="1632.15" width="21.75" height="37.95" fill="#8a8dc8"/>
<rect x="360.35" y="1632.15" width="7.45" height="37.95" fill="#b5b5dd"/>
<rect x="367.50" y="1632.15" width="7.45" height="37.95" fill="#8a8dc8"/>
<rect x="374.65" y="1632.15" width="7.45" height="37.95" fill="#6875bb"/>
<rect x="381.80" y="1632.15" width="7.45" height="37.95" fill="#8a8dc8"/>
<rect x="388.95" y="1632.15" width="7.45" height="37.95" fill="#6875bb"/>
<rect x="396.10" y="1632.15" width="7.45" height="37.95" fill="#8a8dc8"/>
<rect x="403.25" y="1632.15" width="21.75" height="37.95" fill="#6875bb"/>
<rect x="424.70" y="1632.15" width="7.45" height="37.95" fill="#a0a1d3"/>
<rect x="431.85" y="1632.15" width="28.90" height="37.95" fill="#405bac"/>
<rect x="460.45" y="1632.15" width="14.60" height="37.95" fill="#6875bb"/>
<rect x="474.75" y="1632.15" width="136.15" height="37.95" fill="#405bac"/>
<rect x="610.60" y="1632.15" width="21.75" height="37.95" fill="#6875bb"/>
<rect x="632.05" y="1632.15" width="7.45" height="37.95" fill="#405bac"/>
<rect x="639.20" y="1632.15" width="21.75" height="37.95" fill="#6875bb"/>
<rect x="660.65" y="1632.15" width="7.45" height="37.95" fill="#405bac"/>
<rect x="667.80" y="1632.15" width="7.45" height="37.95" fill="#6875bb"/>
<rect x="674.95" y="1632.15" width="121.85" height="37.95" fill="#405bac"/>
<rect x="810.50" y="1632.15" width="14.60" height="37.95" fill="#405bac"/>
<rect x="824.80" y="1632.15" width="7.45" height="37.95" fill="#6875bb"/>
<rect x="831.95" y="1632.15" width="43.20" height="37.95" fill="#405bac"/>
<rect x="874.85" y="1632.15" width="7.45" height="37.95" fill="#6875bb"/>
<rect x="882.00" y="1632.15" width="21.75" height="37.95" fill="#405bac"/>
<rect x="903.45" y="1632.15" width="21.75" height="37.95" fill="#8a8dc8"/>
<rect x="924.90" y="1632.15" width="7.45" height="37.95" fill="#6875bb"/>
<rect x="932.05" y="1632.15" width="7.45" height="37.95" fill="#8a8dc8"/>
<rect x="939.20" y="1632.15" width="7.45" height="37.95" fill="#6875bb"/>
<rect x="946.35" y="1632.15" width="7.45" height="37.95" fill="#8a8dc8"/>
<rect x="953.50" y="1632.15" width="7.45" height="37.95" fill="#405bac"/>
<rect x="960.65" y="1632.15" width="7.45" height="37.95" fill="#6875bb"/>
<rect x="967.80" y="1632.15" width="7.45" height="37.95" fill="#405bac"/>
<rect x="974.95" y="1632.15" width="21.75" height="37.95" fill="#8a8dc8"/>
<rect x="996.40" y="1632.15" width="14.60" height="37.95" fill="#405bac"/>
<rect x="1010.70" y="1632.15" width="7.45" height="37.95" fill="#6875bb"/>
<rect x="1017.85" y="1632.15" width="21.75" height="37.95" fill="#405bac"/>
<rect x="1039.30" y="1632.15" width="7.45" height="37.95" fill="#6875bb"/>
<rect x="1046.45" y="1632.15" width="14.60" height="37.95" fill="#405bac"/>
<rect x="1060.75" y="1632.15" width="7.45" height="37.95" fill="#6875bb"/>
<rect x="1067.90" y="1632.15" width="7.45" height="37.95" fill="#8a8dc8"/>
<rect x="1075.05" y="1632.15" width="14.60" height="37.95" fill="#6875bb"/>
<rect x="1089.35" y="1632.15" width="21.75" height="37.95" fill="#405bac"/>
<rect x="1110.80" y="1632.15" width="7.45" height="37.95" fill="#8a8dc8"/>
<rect x="1117.95" y="1632.15" width="14.60" height="37.95" fill="#405bac"/>
<rect x="1132.25" y="1632.15" width="14.60" height="37.95" fill="#8a8dc8"/>
<rect x="1146.55" y="1632.15" width="21.75" height="37.95" fill="#6875bb"/>
<rect x="1168.00" y="1632.15" width="14.60" height="37.95" fill="#405bac"/>
<rect x="1182.30" y="1632.15" width="14.60" height="37.95" fill="#6875bb"/>
<rect x="1196.60" y="1632.15" width="71.80" height="37.95" fill="#405bac"/>
<rect x="1268.10" y="1632.15" width="7.45" height="37.95" fill="#6875bb"/>
<rect x="1275.25" y="1632.15" width="14.60" height="37.95" fill="#405bac"/>
<rect x="1289.55" y="1632.15" width="7.45" height="37.95" fill="#6875bb"/>
<rect x="1296.70" y="1632.15" width="28.90" height="37.95" fill="#405bac"/>
<rect x="1325.30" y="1632.15" width="7.45" height="37.95" fill="#8a8dc8"/>
<rect x="1332.45" y="1632.15" width="7.45" height="37.95" fill="#6875bb"/>
<rect x="1339.60" y="1632.15" width="14.60" height="37.95" fill="#8a8dc8"/>
<rect x="1353.90" y="1632.15" width="7.45" height="37.95" fill="#6875bb"/>
<rect x="1361.05" y="1632.15" width="14.60" height="37.95" fill="#405bac"/>
<rect x="1375.35" y="1632.15" width="7.45" height="37.95" fill="#6875bb"/>
<rect x="1382.50" y="1632.15" width="14.60" height="37.95" fill="#405bac"/>
<rect x="1396.80" y="1632.15" width="7.45" height="37.95" fill="#6875bb"/>
<rect x="1403.95" y="1632.15" width="14.60" height="37.95" fill="#405bac"/>
<rect x="1418.25" y="1632.15" width="7.45" height="37.95" fill="#6875bb"/>
<rect x="1425.40" y="1632.15" width="7.45" height="37.95" fill="#405bac"/>
<rect x="1432.55" y="1632.15" width="7.45" height="37.95" fill="#6875bb"/>
<rect x="1439.70" y="1632.15" width="121.85" height="37.95" fill="#405bac"/>
<rect x="1561.25" y="1632.15" width="7.45" height="37.95" fill="#6875bb"/>
<rect x="1568.40" y="1632.15" width="86.10" height="37.95" fill="#405bac"/>
<rect x="1654.20" y="1632.15" width="7.45" height="37.95" fill="#6875bb"/>
<rect x="1661.35" y="1632.15" width="57.50" height="37.95" fill="#405bac"/>
<rect x="1718.55" y="1632.15" width="21.75" height="37.95" fill="#6875bb"/>
<rect x="1740.00" y="1632.15" width="7.45" height="37.95" fill="#8a8dc8"/>
<rect x="1747.15" y="1632.15" width="21.75" height="37.95" fill="#6875bb"/>
<rect x="1768.60" y="1632.15" width="7.45" height="37.95" fill="#405bac"/>
<rect x="1775.75" y="1632.15" width="7.45" height="37.95" fill="#6875bb"/>
<rect x="1782.90" y="1632.15" width="7.45" height="37.95" fill="#405bac"/>
<rect x="1790.05" y="1632.15" width="7.45" height="37.95" fill="#6875bb"/>
<rect x="1797.20" y="1632.15" width="36.05" height="37.95" fill="#405bac"/>
<rect x="1832.95" y="1632.15" width="7.45" height="37.95" fill="#6875bb"/>
<rect x="1840.10" y="1632.15" width="57.50" height="37.95" fill="#405bac"/>
<rect x="1897.30" y="1632.15" width="7.45" height="37.95" fill="#6875bb"/>
<rect x="1904.45" y="1632.15" width="21.75" height="37.95" fill="#405bac"/>
<rect x="1925.90" y="1632.15" width="21.75" height="37.95" fill="#6875bb"/>
<rect x="1947.35" y="1632.15" width="7.45" height="37.95" fill="#405bac"/>
<rect x="1954.50" y="1632.15" width="7.45" height="37.95" fill="#6875bb"/>
<rect x="1961.65" y="1632.15" width="7.45" height="37.95" fill="#405bac"/>
<rect x="1968.80" y="1632.15" width="7.45" height="37.95" fill="#6875bb"/>
<rect x="1975.95" y="1632.15" width="43.20" height="37.95" fill="#405bac"/>
<rect x="2018.85" y="1632.15" width="7.45" height="37.95" fill="#6875bb"/>
<rect x="2026.00" y="1632.15" width="21.75" height="37.95" fill="#405bac"/>
<rect x="224.50" y="1669.70" width="7.45" height="37.95" fill="#8a8dc8"/>
<rect x="231.65" y="1669.70" width="7.45" height="37.95" fill="#ffd0cf"/>
<rect x="238.80" y="1669.70" width="14.60" height="37.95" fill="#f2f2f9"/>
<rect x="253.10" y="1669.70" width="7.45" height="37.95" fill="#8a8dc8"/>
<rect x="260.25" y="1669.70" width="7.45" height="37.95" fill="#405bac"/>
<rect x="267.40" y="1669.70" width="7.45" height="37.95" fill="#6875bb"/>
<rect x="274.55" y="1669.70" width="7.45" height="37.95" fill="#8a8dc8"/>
<rect x="281.70" y="1669.70" width="7.45" height="37.95" fill="#6875bb"/>
<rect x="288.85" y="1669.70" width="14.60" height="37.95" fill="#405bac"/>
<rect x="303.15" y="1669.70" width="7.45" height="37.95" fill="#ffffff"/>
<rect x="310.30" y="1669.70" width="14.60" height="37.95" fill="#6875bb"/>
<rect x="324.60" y="1669.70" width="7.45" height="37.95" fill="#a0a1d3"/>
<rect x="331.75" y="1669.70" width="7.45" height="37.95" fill="#b5b5dd"/>
<rect x="338.90" y="1669.70" width="14.60" height="37.95" fill="#8a8dc8"/>
<rect x="353.20" y="1669.70" width="36.05" height="37.95" fill="#6875bb"/>
<rect x="388.95" y="1669.70" width="7.45" height="37.95" fill="#405bac"/>
<rect x="396.10" y="1669.70" width="28.90" height="37.95" fill="#6875bb"/>
<rect x="424.70" y="1669.70" width="7.45" height="37.95" fill="#a0a1d3"/>
<rect x="431.85" y="1669.70" width="7.45" height="37.95" fill="#6875bb"/>
<rect x="439.00" y="1669.70" width="14.60" height="37.95" fill="#8a8dc8"/>
<rect x="453.30" y="1669.70" width="14.60" height="37.95" fill="#405bac"/>
<rect x="467.60" y="1669.70" width="28.90" height="37.95" fill="#6875bb"/>
<rect x="496.20" y="1669.70" width="7.45" height="37.95" fill="#b5b5dd"/>
<rect x="503.35" y="1669.70" width="14.60" height="37.95" fill="#8a8dc8"/>
<rect x="517.65" y="1669.70" width="21.75" height="37.95" fill="#6875bb"/>
<rect x="539.10" y="1669.70" width="7.45" height="37.95" fill="#f2f2f9"/>
<rect x="546.25" y="1669.70" width="7.45" height="37.95" fill="#6875bb"/>
<rect x="553.40" y="1669.70" width="7.45" height="37.95" fill="#405bac"/>
<rect x="560.55" y="1669.70" width="7.45" height="37.95" fill="#6875bb"/>
<rect x="567.70" y="1669.70" width="36.05" height="37.95" fill="#405bac"/>
<rect x="603.45" y="1669.70" width="7.45" height="37.95" fill="#6875bb"/>
<rect x="610.60" y="1669.70" width="7.45" height="37.95" fill="#405bac"/>
<rect x="617.75" y="1669.70" width="14.60" height="37.95" fill="#6875bb"/>
<rect x="632.05" y="1669.70" width="7.45" height="37.95" fill="#405bac"/>
<rect x="639.20" y="1669.70" width="14.60" height="37.95" fill="#6875bb"/>
<rect x="653.50" y="1669.70" width="14.60" height="37.95" fill="#405bac"/>
<rect x="667.80" y="1669.70" width="7.45" height="37.95" fill="#6875bb"/>
<rect x="674.95" y="1669.70" width="14.60" height="37.95" fill="#405bac"/>
<rect x="689.25" y="1669.70" width="7.45" height="37.95" fill="#6875bb"/>
<rect x="696.40" y="1669.70" width="7.45" height="37.95" fill="#405bac"/>
<rect x="703.55" y="1669.70" width="36.05" height="37.95" fill="#6875bb"/>
<rect x="739.30" y="1669.70" width="7.45" height="37.95" fill="#405bac"/>
<rect x="746.45" y="1669.70" width="7.45" height="37.95" fill="#6875bb"/>
<rect x="753.60" y="1669.70" width="14.60" height="37.95" fill="#405bac"/>
<rect x="767.90" y="1669.70" width="7.45" height="37.95" fill="#6875bb"/>
<rect x="775.05" y="1669.70" width="7.45" height="37.95" fill="#405bac"/>
<rect x="782.20" y="1669.70" width="7.45" height="37.95" fill="#6875bb"/>
<rect x="789.35" y="1669.70" width="7.45" height="37.95" fill="#405bac"/>
<rect x="810.50" y="1669.70" width="14.60" height="37.95" fill="#405bac"/>
<rect x="824.80" y="1669.70" width="7.45" height="37.95" fill="#6875bb"/>
<rect x="831.95" y="1669.70" width="71.80" height="37.95" fill="#405bac"/>
<rect x="903.45" y="1669.70" width="7.45" height="37.95" fill="#8a8dc8"/>
<rect x="910.60" y="1669.70" width="7.45" height="37.95" fill="#a0a1d3"/>
<rect x="917.75" y="1669.70" width="7.45" height="37.95" fill="#8a8dc8"/>
<rect x="924.90" y="1669.70" width="7.45" height="37.95" fill="#6875bb"/>
<rect x="932.05" y="1669.70" width="7.45" height="37.95" fill="#8a8dc8"/>
<rect x="939.20" y="1669.70" width="7.45" height="37.95" fill="#6875bb"/>
<rect x="946.35" y="1669.70" width="14.60" height="37.95" fill="#f2f2f9"/>
<rect x="960.65" y="1669.70" width="21.75" height="37.95" fill="#6875bb"/>
<rect x="982.10" y="1669.70" width="7.45" height="37.95" fill="#405bac"/>
<rect x="989.25" y="1669.70" width="7.45" height="37.95" fill="#8a8dc8"/>
<rect x="996.40" y="1669.70" width="7.45" height="37.95" fill="#6875bb"/>
<rect x="1003.55" y="1669.70" width="7.45" height="37.95" fill="#405bac"/>
<rect x="1010.70" y="1669.70" width="14.60" height="37.95" fill="#6875bb"/>
<rect x="1025.00" y="1669.70" width="36.05" height="37.95" fill="#405bac"/>
<rect x="1060.75" y="1669.70" width="86.10" height="37.95" fill="#6875bb"/>
<rect x="1146.55" y="1669.70" width="36.05" height="37.95" fill="#405bac"/>
<rect x="1182.30" y="1669.70" width="7.45" height="37.95" fill="#6875bb"/>
<rect x="1189.45" y="1669.70" width="7.45" height="37.95" fill="#405bac"/>
<rect x="1196.60" y="1669.70" width="36.05" height="37.95" fill="#6875bb"/>
<rect x="1232.35" y="1669.70" width="21.75" height="37.95" fill="#405bac"/>
<rect x="1253.80" y="1669.70" width="14.60" height="37.95" fill="#6875bb"/>
<rect x="1268.10" y="1669.70" width="7.45" height="37.95" fill="#405bac"/>
<rect x="1275.25" y="1669.70" width="7.45" height="37.95" fill="#6875bb"/>
<rect x="1282.40" y="1669.70" width="7.45" height="37.95" fill="#405bac"/>
<rect x="1289.55" y="1669.70" width="21.75" height="37.95" fill="#6875bb"/>
<rect x="1311.00" y="1669.70" width="7.45" height="37.95" fill="#405bac"/>
<rect x="1318.15" y="1669.70" width="7.45" height="37.95" fill="#8a8dc8"/>
<rect x="1325.30" y="1669.70" width="14.60" height="37.95" fill="#6875bb"/>
<rect x="1339.60" y="1669.70" width="14.60" height="37.95" fill="#405bac"/>
<rect x="1353.90" y="1669.70" width="7.45" height="37.95" fill="#6875bb"/>
<rect x="1361.05" y="1669.70" width="7.45" height="37.95" fill="#405bac"/>
<rect x="1368.20" y="1669.70" width="21.75" height="37.95" fill="#6875bb"/>
<rect x="1389.65" y="1669.70" width="7.45" height="37.95" fill="#405bac"/>
<rect x="1396.80" y="1669.70" width="14.60" height="37.95" fill="#6875bb"/>
<rect x="1411.10" y="1669.70" width="14.60" height="37.95" fill="#8a8dc8"/>
<rect x="1425.40" y="1669.70" width="7.45" height="37.95" fill="#6875bb"/>
<rect x="1432.55" y="1669.70" width="7.45" height="37.95" fill="#8a8dc8"/>
<rect x="1439.70" y="1669.70" width="114.70" height="37.95" fill="#405bac"/>
<rect x="1554.10" y="1669.70" width="7.45" height="37.95" fill="#6875bb"/>
<rect x="1561.25" y="1669.70" width="121.85" height="37.95" fill="#405bac"/>
<rect x="1682.80" y="1669.70" width="7.45" height="37.95" fill="#6875bb"/>
<rect x="1689.95" y="1669.70" width="28.90" height="37.95" fill="#405bac"/>
<rect x="1718.55" y="1669.70" width="7.45" height="37.95" fill="#6875bb"/>
<rect x="1725.70" y="1669.70" width="7.45" height="37.95" fill="#405bac"/>
<rect x="1732.85" y="1669.70" width="21.75" height="37.95" fill="#6875bb"/>
<rect x="1754.30" y="1669.70" width="21.75" height="37.95" fill="#405bac"/>
<rect x="1775.75" y="1669.70" width="7.45" height="37.95" fill="#6875bb"/>
<rect x="1782.90" y="1669.70" width="7.45" height="37.95" fill="#405bac"/>
<rect x="1790.05" y="1669.70" width="14.60" height="37.95" fill="#6875bb"/>
<rect x="1804.35" y="1669.70" width="28.90" height="37.95" fill="#405bac"/>
<rect x="1832.95" y="1669.70" width="7.45" height="37.95" fill="#6875bb"/>
<rect x="1840.10" y="1669.70" width="36.05" height="37.95" fill="#405bac"/>
<rect x="1875.85" y="1669.70" width="14.60" height="37.95" fill="#6875bb"/>
<rect x="1890.15" y="1669.70" width="7.45" height="37.95" fill="#405bac"/>
<rect x="1897.30" y="1669.70" width="7.45" height="37.95" fill="#6875bb"/>
<rect x="1904.45" y="1669.70" width="28.90" height="37.95" fill="#405bac"/>
<rect x="1933.05" y="1669.70" width="7.45" height="37.95" fill="#6875bb"/>
<rect x="1940.20" y="1669.70" width="7.45" height="37.95" fill="#405bac"/>
<rect x="1947.35" y="1669.70" width="28.90" height="37.95" fill="#6875bb"/>
<rect x="1975.95" y="1669.70" width="36.05" height="37.95" fill="#405bac"/>
<rect x="2011.70" y="1669.70" width="7.45" height="37.95" fill="#6875bb"/>
<rect x="2018.85" y="1669.70" width="21.75" height="37.95" fill="#405bac"/>
<rect x="2040.30" y="1669.70" width="7.45" height="37.95" fill="#6875bb"/>
<rect x="224.50" y="1707.25" width="14.60" height="37.95" fill="#a0a1d3"/>
<rect x="238.80" y="1707.25" width="7.45" height="37.95" fill="#405bac"/>
<rect x="245.95" y="1707.25" width="7.45" height="37.95" fill="#6875bb"/>
<rect x="253.10" y="1707.25" width="7.45" height="37.95" fill="#ffffff"/>
<rect x="260.25" y="1707.25" width="7.45" height="37.95" fill="#405bac"/>
<rect x="267.40" y="1707.25" width="7.45" height="37.95" fill="#6875bb"/>
<rect x="274.55" y="1707.25" width="7.45" height="37.95" fill="#8a8dc8"/>
<rect x="281.70" y="1707.25" width="7.45" height="37.95" fill="#6875bb"/>
<rect x="288.85" y="1707.25" width="14.60" height="37.95" fill="#405bac"/>
<rect x="303.15" y="1707.25" width="7.45" height="37.95" fill="#ffffff"/>
<rect x="310.30" y="1707.25" width="7.45" height="37.95" fill="#6875bb"/>
<rect x="317.45" y="1707.25" width="14.60" height="37.95" fill="#405bac"/>
<rect x="331.75" y="1707.25" width="7.45" height="37.95" fill="#6875bb"/>
<rect x="338.90" y="1707.25" width="7.45" height="37.95" fill="#405bac"/>
<rect x="346.05" y="1707.25" width="7.45" height="37.95" fill="#6875bb"/>
<rect x="353.20" y="1707.25" width="7.45" height="37.95" fill="#405bac"/>
<rect x="360.35" y="1707.25" width="14.60" height="37.95" fill="#6875bb"/>
<rect x="374.65" y="1707.25" width="7.45" height="37.95" fill="#8a8dc8"/>
<rect x="381.80" y="1707.25" width="7.45" height="37.95" fill="#6875bb"/>
<rect x="388.95" y="1707.25" width="7.45" height="37.95" fill="#405bac"/>
<rect x="396.10" y="1707.25" width="14.60" height="37.95" fill="#6875bb"/>
<rect x="410.40" y="1707.25" width="7.45" height="37.95" fill="#8a8dc8"/>
<rect x="417.55" y="1707.25" width="7.45" height="37.95" fill="#a0a1d3"/>
<rect x="424.70" y="1707.25" width="7.45" height="37.95" fill="#c7c6e5"/>
<rect x="431.85" y="1707.25" width="7.45" height="37.95" fill="#6875bb"/>
<rect x="439.00" y="1707.25" width="14.60" height="37.95" fill="#8a8dc8"/>
<rect x="453.30" y="1707.25" width="7.45" height="37.95" fill="#6875bb"/>
<rect x="460.45" y="1707.25" width="7.45" height="37.95" fill="#405bac"/>
<rect x="467.60" y="1707.25" width="14.60" height="37.95" fill="#6875bb"/>
<rect x="481.90" y="1707.25" width="7.45" height="37.95" fill="#8a8dc8"/>
<rect x="489.05" y="1707.25" width="14.60" height="37.95" fill="#6875bb"/>
<rect x="503.35" y="1707.25" width="7.45" height="37.95" fill="#405bac"/>
<rect x="510.50" y="1707.25" width="21.75" height="37.95" fill="#6875bb"/>
<rect x="531.95" y="1707.25" width="7.45" height="37.95" fill="#ffd0cf"/>
<rect x="539.10" y="1707.25" width="7.45" height="37.95" fill="#f2f2f9"/>
<rect x="546.25" y="1707.25" width="14.60" height="37.95" fill="#6875bb"/>
<rect x="560.55" y="1707.25" width="36.05" height="37.95" fill="#405bac"/>
<rect x="596.30" y="1707.25" width="14.60" height="37.95" fill="#6875bb"/>
<rect x="610.60" y="1707.25" width="7.45" height="37.95" fill="#405bac"/>
<rect x="617.75" y="1707.25" width="21.75" height="37.95" fill="#6875bb"/>
<rect x="639.20" y="1707.25" width="7.45" height="37.95" fill="#405bac"/>
<rect x="646.35" y="1707.25" width="7.45" height="37.95" fill="#6875bb"/>
<rect x="653.50" y="1707.25" width="14.60" height="37.95" fill="#405bac"/>
<rect x="667.80" y="1707.25" width="7.45" height="37.95" fill="#6875bb"/>
<rect x="674.95" y="1707.25" width="7.45" height="37.95" fill="#405bac"/>
<rect x="682.10" y="1707.25" width="43.20" height="37.95" fill="#6875bb"/>
<rect x="725.00" y="1707.25" width="7.45" height="37.95" fill="#405bac"/>
<rect x="732.15" y="1707.25" width="7.45" height="37.95" fill="#6875bb"/>
<rect x="739.30" y="1707.25" width="14.60" height="37.95" fill="#405bac"/>
<rect x="753.60" y="1707.25" width="7.45" height="37.95" fill="#6875bb"/>
<rect x="760.75" y="1707.25" width="36.05" height="37.95" fill="#405bac"/>
<rect x="810.50" y="1707.25" width="7.45" height="37.95" fill="#405bac"/>
<rect x="817.65" y="1707.25" width="14.60" height="37.95" fill="#6875bb"/>
<rect x="831.95" y="1707.25" width="7.45" height="37.95" fill="#405bac"/>
<rect x="839.10" y="1707.25" width="7.45" height="37.95" fill="#6875bb"/>
<rect x="846.25" y="1707.25" width="57.50" height="37.95" fill="#405bac"/>
<rect x="903.45" y="1707.25" width="43.20" height="37.95" fill="#6875bb"/>
<rect x="946.35" y="1707.25" width="14.60" height="37.95" fill="#f2f2f9"/>
<rect x="960.65" y="1707.25" width="21.75" height="37.95" fill="#6875bb"/>
<rect x="982.10" y="1707.25" width="7.45" height="37.95" fill="#405bac"/>
<rect x="989.25" y="1707.25" width="14.60" height="37.95" fill="#6875bb"/>
<rect x="1003.55" y="1707.25" width="7.45" height="37.95" fill="#405bac"/>
<rect x="1010.70" y="1707.25" width="7.45" height="37.95" fill="#6875bb"/>
<rect x="1017.85" y="1707.25" width="28.90" height="37.95" fill="#405bac"/>
<rect x="1046.45" y="1707.25" width="14.60" height="37.95" fill="#6875bb"/>
<rect x="1060.75" y="1707.25" width="7.45" height="37.95" fill="#405bac"/>
<rect x="1067.90" y="1707.25" width="7.45" height="37.95" fill="#6875bb"/>
<rect x="1075.05" y="1707.25" width="14.60" height="37.95" fill="#405bac"/>
<rect x="1089.35" y="1707.25" width="21.75" height="37.95" fill="#6875bb"/>
<rect x="1110.80" y="1707.25" width="7.45" height="37.95" fill="#405bac"/>
<rect x="1117.95" y="1707.25" width="28.90" height="37.95" fill="#6875bb"/>
<rect x="1146.55" y="1707.25" width="36.05" height="37.95" fill="#405bac"/>
<rect x="1182.30" y="1707.25" width="7.45" height="37.95" fill="#6875bb"/>
<rect x="1189.45" y="1707.25" width="7.45" height="37.95" fill="#405bac"/>
<rect x="1196.60" y="1707.25" width="71.80" height="37.95" fill="#6875bb"/>
<rect x="1268.10" y="1707.25" width="7.45" height="37.95" fill="#405bac"/>
<rect x="1275.25" y="1707.25" width="7.45" height="37.95" fill="#6875bb"/>
<rect x="1282.40" y="1707.25" width="7.45" height="37.95" fill="#405bac"/>
<rect x="1289.55" y="1707.25" width="21.75" height="37.95" fill="#6875bb"/>
<rect x="1311.00" y="1707.25" width="7.45" height="37.95" fill="#405bac"/>
<rect x="1318.15" y="1707.25" width="7.45" height="37.95" fill="#8a8dc8"/>
<rect x="1325.30" y="1707.25" width="14.60" height="37.95" fill="#6875bb"/>
<rect x="1339.60" y="1707.25" width="14.60" height="37.95" fill="#405bac"/>
<rect x="1353.90" y="1707.25" width="7.45" height="37.95" fill="#6875bb"/>
<rect x="1361.05" y="1707.25" width="7.45" height="37.95" fill="#8a8dc8"/>
<rect x="1368.20" y="1707.25" width="36.05" height="37.95" fill="#6875bb"/>
<rect x="1403.95" y="1707.25" width="21.75" height="37.95" fill="#8a8dc8"/>
<rect x="1425.40" y="1707.25" width="21.75" height="37.95" fill="#6875bb"/>
<rect x="1446.85" y="1707.25" width="14.60" height="37.95" fill="#405bac"/>
<rect x="1461.15" y="1707.25" width="14.60" height="37.95" fill="#6875bb"/>
<rect x="1475.45" y="1707.25" width="64.65" height="37.95" fill="#405bac"/>
<rect x="1539.80" y="1707.25" width="21.75" height="37.95" fill="#6875bb"/>
<rect x="1561.25" y="1707.25" width="21.75" height="37.95" fill="#405bac"/>
<rect x="1582.70" y="1707.25" width="7.45" height="37.95" fill="#6875bb"/>
<rect x="1589.85" y="1707.25" width="43.20" height="37.95" fill="#405bac"/>
<rect x="1632.75" y="1707.25" width="7.45" height="37.95" fill="#6875bb"/>
<rect x="1639.90" y="1707.25" width="7.45" height="37.95" fill="#405bac"/>
<rect x="1647.05" y="1707.25" width="7.45" height="37.95" fill="#6875bb"/>
<rect x="1654.20" y="1707.25" width="14.60" height="37.95" fill="#405bac"/>
<rect x="1668.50" y="1707.25" width="7.45" height="37.95" fill="#6875bb"/>
<rect x="1675.65" y="1707.25" width="7.45" height="37.95" fill="#405bac"/>
<rect x="1682.80" y="1707.25" width="7.45" height="37.95" fill="#6875bb"/>
<rect x="1689.95" y="1707.25" width="7.45" height="37.95" fill="#405bac"/>
<rect x="1697.10" y="1707.25" width="28.90" height="37.95" fill="#6875bb"/>
<rect x="1725.70" y="1707.25" width="14.60" height="37.95" fill="#405bac"/>
<rect x="1740.00" y="1707.25" width="14.60" height="37.95" fill="#6875bb"/>
<rect x="1754.30" y="1707.25" width="36.05" height="37.95" fill="#405bac"/>
<rect x="1790.05" y="1707.25" width="21.75" height="37.95" fill="#6875bb"/>
<rect x="1811.50" y="1707.25" width="21.75" height="37.95" fill="#405bac"/>
<rect x="1832.95" y="1707.25" width="21.75" height="37.95" fill="#6875bb"/>
<rect x="1854.40" y="1707.25" width="21.75" height="37.95" fill="#405bac"/>
<rect x="1875.85" y="1707.25" width="14.60" height="37.95" fill="#6875bb"/>
<rect x="1890.15" y="1707.25" width="7.45" height="37.95" fill="#405bac"/>
<rect x="1897.30" y="1707.25" width="21.75" height="37.95" fill="#6875bb"/>
<rect x="1918.75" y="1707.25" width="14.60" height="37.95" fill="#405bac"/>
<rect x="1933.05" y="1707.25" width="7.45" height="37.95" fill="#6875bb"/>
<rect x="1940.20" y="1707.25" width="7.45" height="37.95" fill="#405bac"/>
<rect x="1947.35" y="1707.25" width="7.45" height="37.95" fill="#6875bb"/>
<rect x="1954.50" y="1707.25" width="7.45" height="37.95" fill="#405bac"/>
<rect x="1961.65" y="1707.25" width="14.60" height="37.95" fill="#6875bb"/>
<rect x="1975.95" y="1707.25" width="71.80" height="37.95" fill="#405bac"/>
<rect x="224.50" y="1744.80" width="7.45" height="37.95" fill="#8a8dc8"/>
<rect x="231.65" y="1744.80" width="7.45" height="37.95" fill="#6875bb"/>
<rect x="238.80" y="1744.80" width="7.45" height="37.95" fill="#405bac"/>
<rect x="245.95" y="1744.80" width="7.45" height="37.95" fill="#6875bb"/>
<rect x="253.10" y="1744.80" width="7.45" height="37.95" fill="#ffffff"/>
<rect x="260.25" y="1744.80" width="21.75" height="37.95" fill="#b5b5dd"/>
<rect x="281.70" y="1744.80" width="14.60" height="37.95" fill="#d7d6ec"/>
<rect x="296.00" y="1744.80" width="7.45" height="37.95" fill="#405bac"/>
<rect x="303.15" y="1744.80" width="14.60" height="37.95" fill="#6875bb"/>
<rect x="317.45" y="1744.80" width="14.60" height="37.95" fill="#405bac"/>
<rect x="331.75" y="1744.80" width="7.45" height="37.95" fill="#6875bb"/>
<rect x="338.90" y="1744.80" width="7.45" height="37.95" fill="#405bac"/>
<rect x="346.05" y="1744.80" width="7.45" height="37.95" fill="#6875bb"/>
<rect x="353.20" y="1744.80" width="7.45" height="37.95" fill="#405bac"/>
<rect x="360.35" y="1744.80" width="7.45" height="37.95" fill="#6875bb"/>
<rect x="367.50" y="1744.80" width="7.45" height="37.95" fill="#c7c6e5"/>
<rect x="374.65" y="1744.80" width="7.45" height="37.95" fill="#8a8dc8"/>
<rect x="381.80" y="1744.80" width="7.45" height="37.95" fill="#6875bb"/>
<rect x="388.95" y="1744.80" width="7.45" height="37.95" fill="#8a8dc8"/>
<rect x="396.10" y="1744.80" width="7.45" height="37.95" fill="#6875bb"/>
<rect x="403.25" y="1744.80" width="14.60" height="37.95" fill="#a0a1d3"/>
<rect x="417.55" y="1744.80" width="7.45" height="37.95" fill="#6875bb"/>
<rect x="424.70" y="1744.80" width="21.75" height="37.95" fill="#a0a1d3"/>
<rect x="446.15" y="1744.80" width="7.45" height="37.95" fill="#b5b5dd"/>
<rect x="453.30" y="1744.80" width="7.45" height="37.95" fill="#e4e4f2"/>
<rect x="460.45" y="1744.80" width="14.60" height="37.95" fill="#8a8dc8"/>
<rect x="474.75" y="1744.80" width="7.45" height="37.95" fill="#6875bb"/>
<rect x="481.90" y="1744.80" width="7.45" height="37.95" fill="#8a8dc8"/>
<rect x="489.05" y="1744.80" width="14.60" height="37.95" fill="#6875bb"/>
<rect x="503.35" y="1744.80" width="7.45" height="37.95" fill="#405bac"/>
<rect x="510.50" y="1744.80" width="21.75" height="37.95" fill="#6875bb"/>
<rect x="531.95" y="1744.80" width="7.45" height="37.95" fill="#ffd0cf"/>
<rect x="539.10" y="1744.80" width="7.45" height="37.95" fill="#f2f2f9"/>
<rect x="546.25" y="1744.80" width="7.45" height="37.95" fill="#6875bb"/>
<rect x="553.40" y="1744.80" width="43.20" height="37.95" fill="#405bac"/>
<rect x="596.30" y="1744.80" width="14.60" height="37.95" fill="#6875bb"/>
<rect x="610.60" y="1744.80" width="7.45" height="37.95" fill="#405bac"/>
<rect x="617.75" y="1744.80" width="21.75" height="37.95" fill="#6875bb"/>
<rect x="639.20" y="1744.80" width="7.45" height="37.95" fill="#405bac"/>
<rect x="646.35" y="1744.80" width="7.45" height="37.95" fill="#6875bb"/>
<rect x="653.50" y="1744.80" width="14.60" height="37.95" fill="#405bac"/>
<rect x="667.80" y="1744.80" width="36.05" height="37.95" fill="#6875bb"/>
<rect x="703.55" y="1744.80" width="7.45" height="37.95" fill="#8a8dc8"/>
<rect x="710.70" y="1744.80" width="7.45" height="37.95" fill="#405bac"/>
<rect x="717.85" y="1744.80" width="7.45" height="37.95" fill="#6875bb"/>
<rect x="725.00" y="1744.80" width="7.45" height="37.95" fill="#405bac"/>
<rect x="732.15" y="1744.80" width="14.60" height="37.95" fill="#6875bb"/>
<rect x="746.45" y="1744.80" width="7.45" height="37.95" fill="#405bac"/>
<rect x="753.60" y="1744.80" width="7.45" height="37.95" fill="#6875bb"/>
<rect x="760.75" y="1744.80" width="36.05" height="37.95" fill="#405bac"/>
<rect x="810.50" y="1744.80" width="36.05" height="37.95" fill="#405bac"/>
<rect x="846.25" y="1744.80" width="7.45" height="37.95" fill="#0047a5"/>
<rect x="853.40" y="1744.80" width="50.35" height="37.95" fill="#405bac"/>
<rect x="903.45" y="1744.80" width="14.60" height="37.95" fill="#6875bb"/>
<rect x="917.75" y="1744.80" width="7.45" height="37.95" fill="#405bac"/>
<rect x="924.90" y="1744.80" width="7.45" height="37.95" fill="#0047a5"/>
<rect x="932.05" y="1744.80" width="14.60" height="37.95" fill="#405bac"/>
<rect x="946.35" y="1744.80" width="7.45" height="37.95" fill="#c7c6e5"/>
<rect x="953.50" y="1744.80" width="7.45" height="37.95" fill="#405bac"/>
<rect x="960.65" y="1744.80" width="57.50" height="37.95" fill="#6875bb"/>
<rect x="1017.85" y="1744.80" width="28.90" height="37.95" fill="#405bac"/>
<rect x="1046.45" y="1744.80" width="7.45" height="37.95" fill="#6875bb"/>
<rect x="1053.60" y="1744.80" width="14.60" height="37.95" fill="#405bac"/>
<rect x="1067.90" y="1744.80" width="7.45" height="37.95" fill="#6875bb"/>
<rect x="1075.05" y="1744.80" width="14.60" height="37.95" fill="#405bac"/>
<rect x="1089.35" y="1744.80" width="14.60" height="37.95" fill="#6875bb"/>
<rect x="1103.65" y="1744.80" width="7.45" height="37.95" fill="#a0a1d3"/>
<rect x="1110.80" y="1744.80" width="7.45" height="37.95" fill="#405bac"/>
<rect x="1117.95" y="1744.80" width="43.20" height="37.95" fill="#6875bb"/>
<rect x="1160.85" y="1744.80" width="7.45" height="37.95" fill="#405bac"/>
<rect x="1168.00" y="1744.80" width="71.80" height="37.95" fill="#6875bb"/>
<rect x="1239.50" y="1744.80" width="7.45" height="37.95" fill="#405bac"/>
<rect x="1246.65" y="1744.80" width="14.60" height="37.95" fill="#6875bb"/>
<rect x="1260.95" y="1744.80" width="14.60" height="37.95" fill="#405bac"/>
<rect x="1275.25" y="1744.80" width="43.20" height="37.95" fill="#6875bb"/>
<rect x="1318.15" y="1744.80" width="7.45" height="37.95" fill="#8a8dc8"/>
<rect x="1325.30" y="1744.80" width="14.60" height="37.95" fill="#6875bb"/>
<rect x="1339.60" y="1744.80" width="7.45" height="37.95" fill="#8a8dc8"/>
<rect x="1346.75" y="1744.80" width="7.45" height="37.95" fill="#6875bb"/>
<rect x="1353.90" y="1744.80" width="14.60" height="37.95" fill="#d7d6ec"/>
<rect x="1368.20" y="1744.80" width="7.45" height="37.95" fill="#6875bb"/>
<rect x="1375.35" y="1744.80" width="14.60" height="37.95" fill="#8a8dc8"/>
<rect x="1389.65" y="1744.80" width="7.45" height="37.95" fill="#6875bb"/>
<rect x="1396.80" y="1744.80" width="7.45" height="37.95" fill="#b5b5dd"/>
<rect x="1403.95" y="1744.80" width="7.45" height="37.95" fill="#8a8dc8"/>
<rect x="1411.10" y="1744.80" width="14.60" height="37.95" fill="#a0a1d3"/>
<rect x="1425.40" y="1744.80" width="7.45" height="37.95" fill="#8a8dc8"/>
<rect x="1432.55" y="1744.80" width="14.60" height="37.95" fill="#6875bb"/>
<rect x="1446.85" y="1744.80" width="21.75" height="37.95" fill="#405bac"/>
<rect x="1468.30" y="1744.80" width="7.45" height="37.95" fill="#6875bb"/>
<rect x="1475.45" y="1744.80" width="7.45" height="37.95" fill="#405bac"/>
<rect x="1482.60" y="1744.80" width="7.45" height="37.95" fill="#0047a5"/>
<rect x="1489.75" y="1744.80" width="21.75" height="37.95" fill="#405bac"/>
<rect x="1511.20" y="1744.80" width="7.45" height="37.95" fill="#0047a5"/>
<rect x="1518.35" y="1744.80" width="28.90" height="37.95" fill="#405bac"/>
<rect x="1546.95" y="1744.80" width="7.45" height="37.95" fill="#6875bb"/>
<rect x="1554.10" y="1744.80" width="129.00" height="37.95" fill="#405bac"/>
<rect x="1682.80" y="1744.80" width="7.45" height="37.95" fill="#6875bb"/>
<rect x="1689.95" y="1744.80" width="21.75" height="37.95" fill="#405bac"/>
<rect x="1711.40" y="1744.80" width="7.45" height="37.95" fill="#6875bb"/>
<rect x="1718.55" y="1744.80" width="14.60" height="37.95" fill="#405bac"/>
<rect x="1732.85" y="1744.80" width="7.45" height="37.95" fill="#0047a5"/>
<rect x="1740.00" y="1744.80" width="7.45" height="37.95" fill="#405bac"/>
<rect x="1747.15" y="1744.80" width="7.45" height="37.95" fill="#0047a5"/>
<rect x="1754.30" y="1744.80" width="50.35" height="37.95" fill="#405bac"/>
<rect x="1804.35" y="1744.80" width="7.45" height="37.95" fill="#6875bb"/>
<rect x="1811.50" y="1744.80" width="7.45" height="37.95" fill="#405bac"/>
<rect x="1818.65" y="1744.80" width="14.60" height="37.95" fill="#6875bb"/>
<rect x="1832.95" y="1744.80" width="28.90" height="37.95" fill="#405bac"/>
<rect x="1861.55" y="1744.80" width="36.05" height="37.95" fill="#6875bb"/>
<rect x="1897.30" y="1744.80" width="50.35" height="37.95" fill="#405bac"/>
<rect x="1947.35" y="1744.80" width="7.45" height="37.95" fill="#6875bb"/>
<rect x="1954.50" y="1744.80" width="7.45" height="37.95" fill="#405bac"/>
<rect x="1961.65" y="1744.80" width="14.60" height="37.95" fill="#6875bb"/>
<rect x="1975.95" y="1744.80" width="71.80" height="37.95" fill="#405bac"/>
<rect x="224.50" y="1782.35" width="7.45" height="37.95" fill="#405bac"/>
<rect x="231.65" y="1782.35" width="7.45" height="37.95" fill="#6875bb"/>
<rect x="238.80" y="1782.35" width="7.45" height="37.95" fill="#405bac"/>
<rect x="245.95" y="1782.35" width="7.45" height="37.95" fill="#6875bb"/>
<rect x="253.10" y="1782.35" width="7.45" height="37.95" fill="#a0a1d3"/>
<rect x="260.25" y="1782.35" width="14.60" height="37.95" fill="#d7d6ec"/>
<rect x="274.55" y="1782.35" width="7.45" height="37.95" fill="#a0a1d3"/>
<rect x="281.70" y="1782.35" width="14.60" height="37.95" fill="#f2f2f9"/>
<rect x="296.00" y="1782.35" width="7.45" height="37.95" fill="#405bac"/>
<rect x="303.15" y="1782.35" width="14.60" height="37.95" fill="#6875bb"/>
<rect x="317.45" y="1782.35" width="28.90" height="37.95" fill="#405bac"/>
<rect x="346.05" y="1782.35" width="7.45" height="37.95" fill="#6875bb"/>
<rect x="353.20" y="1782.35" width="7.45" height="37.95" fill="#405bac"/>
<rect x="360.35" y="1782.35" width="7.45" height="37.95" fill="#a0a1d3"/>
<rect x="367.50" y="1782.35" width="7.45" height="37.95" fill="#b5b5dd"/>
<rect x="374.65" y="1782.35" width="7.45" height="37.95" fill="#8a8dc8"/>
<rect x="381.80" y="1782.35" width="7.45" height="37.95" fill="#6875bb"/>
<rect x="388.95" y="1782.35" width="7.45" height="37.95" fill="#b5b5dd"/>
<rect x="396.10" y="1782.35" width="7.45" height="37.95" fill="#6875bb"/>
<rect x="403.25" y="1782.35" width="14.60" height="37.95" fill="#8a8dc8"/>
<rect x="417.55" y="1782.35" width="7.45" height="37.95" fill="#6875bb"/>
<rect x="424.70" y="1782.35" width="7.45" height="37.95" fill="#8a8dc8"/>
<rect x="431.85" y="1782.35" width="14.60" height="37.95" fill="#6875bb"/>
<rect x="446.15" y="1782.35" width="7.45" height="37.95" fill="#8a8dc8"/>
<rect x="453.30" y="1782.35" width="7.45" height="37.95" fill="#f2f2f9"/>
<rect x="460.45" y="1782.35" width="14.60" height="37.95" fill="#b5b5dd"/>
<rect x="474.75" y="1782.35" width="21.75" height="37.95" fill="#8a8dc8"/>
<rect x="496.20" y="1782.35" width="21.75" height="37.95" fill="#6875bb"/>
<rect x="517.65" y="1782.35" width="7.45" height="37.95" fill="#a0a1d3"/>
<rect x="524.80" y="1782.35" width="14.60" height="37.95" fill="#8a8dc8"/>
<rect x="539.10" y="1782.35" width="7.45" height="37.95" fill="#f2f2f9"/>
<rect x="546.25" y="1782.35" width="7.45" height="37.95" fill="#6875bb"/>
<rect x="553.40" y="1782.35" width="43.20" height="37.95" fill="#405bac"/>
<rect x="596.30" y="1782.35" width="7.45" height="37.95" fill="#6875bb"/>
<rect x="603.45" y="1782.35" width="7.45" height="37.95" fill="#405bac"/>
<rect x="610.60" y="1782.35" width="43.20" height="37.95" fill="#6875bb"/>
<rect x="653.50" y="1782.35" width="14.60" height="37.95" fill="#405bac"/>
<rect x="667.80" y="1782.35" width="43.20" height="37.95" fill="#6875bb"/>
<rect x="710.70" y="1782.35" width="7.45" height="37.95" fill="#405bac"/>
<rect x="717.85" y="1782.35" width="7.45" height="37.95" fill="#6875bb"/>
<rect x="725.00" y="1782.35" width="7.45" height="37.95" fill="#405bac"/>
<rect x="732.15" y="1782.35" width="28.90" height="37.95" fill="#6875bb"/>
<rect x="760.75" y="1782.35" width="7.45" height="37.95" fill="#405bac"/>
<rect x="767.90" y="1782.35" width="7.45" height="37.95" fill="#6875bb"/>
<rect x="775.05" y="1782.35" width="7.45" height="37.95" fill="#405bac"/>
<rect x="782.20" y="1782.35" width="7.45" height="37.95" fill="#6875bb"/>
<rect x="789.35" y="1782.35" width="7.45" height="37.95" fill="#405bac"/>
<rect x="810.50" y="1782.35" width="36.05" height="37.95" fill="#405bac"/>
<rect x="846.25" y="1782.35" width="7.45" height="37.95" fill="#0047a5"/>
<rect x="853.40" y="1782.35" width="50.35" height="37.95" fill="#405bac"/>
<rect x="903.45" y="1782.35" width="7.45" height="37.95" fill="#6875bb"/>
<rect x="910.60" y="1782.35" width="7.45" height="37.95" fill="#8a8dc8"/>
<rect x="917.75" y="1782.35" width="7.45" height="37.95" fill="#405bac"/>
<rect x="924.90" y="1782.35" width="7.45" height="37.95" fill="#0047a5"/>
<rect x="932.05" y="1782.35" width="14.60" height="37.95" fill="#405bac"/>
<rect x="946.35" y="1782.35" width="7.45" height="37.95" fill="#d7d6ec"/>
<rect x="953.50" y="1782.35" width="14.60" height="37.95" fill="#8a8dc8"/>
<rect x="967.80" y="1782.35" width="7.45" height="37.95" fill="#c7c6e5"/>
<rect x="974.95" y="1782.35" width="7.45" height="37.95" fill="#d7d6ec"/>
<rect x="982.10" y="1782.35" width="7.45" height="37.95" fill="#8a8dc8"/>
<rect x="989.25" y="1782.35" width="14.60" height="37.95" fill="#6875bb"/>
<rect x="1003.55" y="1782.35" width="7.45" height="37.95" fill="#8a8dc8"/>
<rect x="1010.70" y="1782.35" width="21.75" height="37.95" fill="#6875bb"/>
<rect x="1032.15" y="1782.35" width="7.45" height="37.95" fill="#405bac"/>
<rect x="1039.30" y="1782.35" width="14.60" height="37.95" fill="#6875bb"/>
<rect x="1053.60" y="1782.35" width="7.45" height="37.95" fill="#405bac"/>
<rect x="1060.75" y="1782.35" width="7.45" height="37.95" fill="#6875bb"/>
<rect x="1067.90" y="1782.35" width="7.45" height="37.95" fill="#405bac"/>
<rect x="1075.05" y="1782.35" width="7.45" height="37.95" fill="#b5b5dd"/>
<rect x="1082.20" y="1782.35" width="36.05" height="37.95" fill="#6875bb"/>
<rect x="1117.95" y="1782.35" width="7.45" height="37.95" fill="#405bac"/>
<rect x="1125.10" y="1782.35" width="7.45" height="37.95" fill="#8a8dc8"/>
<rect x="1132.25" y="1782.35" width="21.75" height="37.95" fill="#6875bb"/>
<rect x="1153.70" y="1782.35" width="14.60" height="37.95" fill="#405bac"/>
<rect x="1168.00" y="1782.35" width="14.60" height="37.95" fill="#6875bb"/>
<rect x="1182.30" y="1782.35" width="7.45" height="37.95" fill="#8a8dc8"/>
<rect x="1189.45" y="1782.35" width="7.45" height="37.95" fill="#6875bb"/>
<rect x="1196.60" y="1782.35" width="7.45" height="37.95" fill="#8a8dc8"/>
<rect x="1203.75" y="1782.35" width="7.45" height="37.95" fill="#6875bb"/>
<rect x="1210.90" y="1782.35" width="7.45" height="37.95" fill="#8a8dc8"/>
<rect x="1218.05" y="1782.35" width="14.60" height="37.95" fill="#6875bb"/>
<rect x="1232.35" y="1782.35" width="7.45" height="37.95" fill="#8a8dc8"/>
<rect x="1239.50" y="1782.35" width="7.45" height="37.95" fill="#405bac"/>
<rect x="1246.65" y="1782.35" width="7.45" height="37.95" fill="#6875bb"/>
<rect x="1253.80" y="1782.35" width="21.75" height="37.95" fill="#405bac"/>
<rect x="1275.25" y="1782.35" width="43.20" height="37.95" fill="#6875bb"/>
<rect x="1318.15" y="1782.35" width="7.45" height="37.95" fill="#d7d6ec"/>
<rect x="1325.30" y="1782.35" width="21.75" height="37.95" fill="#b5b5dd"/>
<rect x="1346.75" y="1782.35" width="7.45" height="37.95" fill="#a0a1d3"/>
<rect x="1353.90" y="1782.35" width="7.45" height="37.95" fill="#b5b5dd"/>
<rect x="1361.05" y="1782.35" width="14.60" height="37.95" fill="#6875bb"/>
<rect x="1375.35" y="1782.35" width="14.60" height="37.95" fill="#8a8dc8"/>
<rect x="1389.65" y="1782.35" width="7.45" height="37.95" fill="#6875bb"/>
<rect x="1396.80" y="1782.35" width="7.45" height="37.95" fill="#405bac"/>
<rect x="1403.95" y="1782.35" width="7.45" height="37.95" fill="#6875bb"/>
<rect x="1411.10" y="1782.35" width="21.75" height="37.95" fill="#8a8dc8"/>
<rect x="1432.55" y="1782.35" width="14.60" height="37.95" fill="#6875bb"/>
<rect x="1446.85" y="1782.35" width="21.75" height="37.95" fill="#405bac"/>
<rect x="1468.30" y="1782.35" width="7.45" height="37.95" fill="#6875bb"/>
<rect x="1475.45" y="1782.35" width="7.45" height="37.95" fill="#405bac"/>
<rect x="1482.60" y="1782.35" width="7.45" height="37.95" fill="#0047a5"/>
<rect x="1489.75" y="1782.35" width="21.75" height="37.95" fill="#405bac"/>
<rect x="1511.20" y="1782.35" width="7.45" height="37.95" fill="#0047a5"/>
<rect x="1518.35" y="1782.35" width="14.60" height="37.95" fill="#405bac"/>
<rect x="1532.65" y="1782.35" width="7.45" height="37.95" fill="#0047a5"/>
<rect x="1539.80" y="1782.35" width="7.45" height="37.95" fill="#405bac"/>
<rect x="1546.95" y="1782.35" width="7.45" height="37.95" fill="#6875bb"/>
<rect x="1554.10" y="1782.35" width="129.00" height="37.95" fill="#405bac"/>
<rect x="1682.80" y="1782.35" width="7.45" height="37.95" fill="#6875bb"/>
<rect x="1689.95" y="1782.35" width="21.75" height="37.95" fill="#405bac"/>
<rect x="1711.40" y="1782.35" width="7.45" height="37.95" fill="#6875bb"/>
<rect x="1718.55" y="1782.35" width="14.60" height="37.95" fill="#405bac"/>
<rect x="1732.85" y="1782.35" width="7.45" height="37.95" fill="#0047a5"/>
<rect x="1740.00" y="1782.35" width="7.45" height="37.95" fill="#405bac"/>
<rect x="1747.15" y="1782.35" width="14.60" height="37.95" fill="#0047a5"/>
<rect x="1761.45" y="1782.35" width="43.20" height="37.95" fill="#405bac"/>
<rect x="1804.35" y="1782.35" width="7.45" height="37.95" fill="#6875bb"/>
<rect x="1811.50" y="1782.35" width="7.45" height="37.95" fill="#405bac"/>
<rect x="1818.65" y="1782.35" width="14.60" height="37.95" fill="#6875bb"/>
<rect x="1832.95" y="1782.35" width="43.20" height="37.95" fill="#405bac"/>
<rect x="1875.85" y="1782.35" width="21.75" height="37.95" fill="#6875bb"/>
<rect x="1897.30" y="1782.35" width="50.35" height="37.95" fill="#405bac"/>
<rect x="1947.35" y="1782.35" width="7.45" height="37.95" fill="#6875bb"/>
<rect x="1954.50" y="1782.35" width="14.60" height="37.95" fill="#8a8dc8"/>
<rect x="1968.80" y="1782.35" width="7.45" height="37.95" fill="#6875bb"/>
<rect x="1975.95" y="1782.35" width="7.45" height="37.95" fill="#405bac"/>
<rect x="1983.10" y="1782.35" width="7.45" height="37.95" fill="#6875bb"/>
<rect x="1990.25" y="1782.35" width="43.20" height="37.95" fill="#405bac"/>
<rect x="2033.15" y="1782.35" width="14.60" height="37.95" fill="#6875bb"/>
<rect x="224.50" y="1819.90" width="7.45" height="14.00" fill="#405bac"/>
<rect x="231.65" y="1819.90" width="7.45" height="14.00" fill="#6875bb"/>
<rect x="238.80" y="1819.90" width="7.45" height="14.00" fill="#405bac"/>
<rect x="245.95" y="1819.90" width="7.45" height="14.00" fill="#a0a1d3"/>
<rect x="253.10" y="1819.90" width="28.90" height="14.00" fill="#d7d6ec"/>
<rect x="281.70" y="1819.90" width="14.60" height="14.00" fill="#f2f2f9"/>
<rect x="296.00" y="1819.90" width="7.45" height="14.00" fill="#405bac"/>
<rect x="303.15" y="1819.90" width="21.75" height="14.00" fill="#6875bb"/>
<rect x="324.60" y="1819.90" width="14.60" height="14.00" fill="#405bac"/>
<rect x="338.90" y="1819.90" width="14.60" height="14.00" fill="#6875bb"/>
<rect x="353.20" y="1819.90" width="7.45" height="14.00" fill="#405bac"/>
<rect x="360.35" y="1819.90" width="7.45" height="14.00" fill="#a0a1d3"/>
<rect x="367.50" y="1819.90" width="7.45" height="14.00" fill="#b5b5dd"/>
<rect x="374.65" y="1819.90" width="14.60" height="14.00" fill="#a0a1d3"/>
<rect x="388.95" y="1819.90" width="7.45" height="14.00" fill="#b5b5dd"/>
<rect x="396.10" y="1819.90" width="7.45" height="14.00" fill="#d7d6ec"/>
<rect x="403.25" y="1819.90" width="28.90" height="14.00" fill="#8a8dc8"/>
<rect x="431.85" y="1819.90" width="14.60" height="14.00" fill="#6875bb"/>
<rect x="446.15" y="1819.90" width="7.45" height="14.00" fill="#8a8dc8"/>
<rect x="453.30" y="1819.90" width="28.90" height="14.00" fill="#b5b5dd"/>
<rect x="481.90" y="1819.90" width="21.75" height="14.00" fill="#8a8dc8"/>
<rect x="503.35" y="1819.90" width="7.45" height="14.00" fill="#a0a1d3"/>
<rect x="510.50" y="1819.90" width="7.45" height="14.00" fill="#6875bb"/>
<rect x="517.65" y="1819.90" width="7.45" height="14.00" fill="#a0a1d3"/>
<rect x="524.80" y="1819.90" width="14.60" height="14.00" fill="#c7c6e5"/>
<rect x="539.10" y="1819.90" width="14.60" height="14.00" fill="#6875bb"/>
<rect x="553.40" y="1819.90" width="43.20" height="14.00" fill="#405bac"/>
<rect x="596.30" y="1819.90" width="7.45" height="14.00" fill="#6875bb"/>
<rect x="603.45" y="1819.90" width="7.45" height="14.00" fill="#405bac"/>
<rect x="610.60" y="1819.90" width="21.75" height="14.00" fill="#b5b5dd"/>
<rect x="632.05" y="1819.90" width="21.75" height="14.00" fill="#6875bb"/>
<rect x="653.50" y="1819.90" width="14.60" height="14.00" fill="#405bac"/>
<rect x="667.80" y="1819.90" width="7.45" height="14.00" fill="#6875bb"/>
<rect x="674.95" y="1819.90" width="14.60" height="14.00" fill="#8a8dc8"/>
<rect x="689.25" y="1819.90" width="7.45" height="14.00" fill="#6875bb"/>
<rect x="696.40" y="1819.90" width="7.45" height="14.00" fill="#b5b5dd"/>
<rect x="703.55" y="1819.90" width="57.50" height="14.00" fill="#6875bb"/>
<rect x="760.75" y="1819.90" width="7.45" height="14.00" fill="#405bac"/>
<rect x="767.90" y="1819.90" width="7.45" height="14.00" fill="#6875bb"/>
<rect x="775.05" y="1819.90" width="7.45" height="14.00" fill="#405bac"/>
<rect x="782.20" y="1819.90" width="14.60" height="14.00" fill="#6875bb"/>
<rect x="810.50" y="1819.90" width="14.60" height="14.00" fill="#405bac"/>
<rect x="824.80" y="1819.90" width="14.60" height="14.00" fill="#6875bb"/>
<rect x="839.10" y="1819.90" width="21.75" height="14.00" fill="#405bac"/>
<rect x="860.55" y="1819.90" width="7.45" height="14.00" fill="#6875bb"/>
<rect x="867.70" y="1819.90" width="36.05" height="14.00" fill="#405bac"/>
<rect x="903.45" y="1819.90" width="7.45" height="14.00" fill="#6875bb"/>
<rect x="910.60" y="1819.90" width="7.45" height="14.00" fill="#8a8dc8"/>
<rect x="917.75" y="1819.90" width="28.90" height="14.00" fill="#405bac"/>
<rect x="946.35" y="1819.90" width="7.45" height="14.00" fill="#d7d6ec"/>
<rect x="953.50" y="1819.90" width="7.45" height="14.00" fill="#a0a1d3"/>
<rect x="960.65" y="1819.90" width="7.45" height="14.00" fill="#8a8dc8"/>
<rect x="967.80" y="1819.90" width="7.45" height="14.00" fill="#e4e4f2"/>
<rect x="974.95" y="1819.90" width="7.45" height="14.00" fill="#d7d6ec"/>
<rect x="982.10" y="1819.90" width="14.60" height="14.00" fill="#8a8dc8"/>
<rect x="996.40" y="1819.90" width="7.45" height="14.00" fill="#6875bb"/>
<rect x="1003.55" y="1819.90" width="7.45" height="14.00" fill="#8a8dc8"/>
<rect x="1010.70" y="1819.90" width="7.45" height="14.00" fill="#6875bb"/>
<rect x="1017.85" y="1819.90" width="7.45" height="14.00" fill="#8a8dc8"/>
<rect x="1025.00" y="1819.90" width="36.05" height="14.00" fill="#6875bb"/>
<rect x="1060.75" y="1819.90" width="7.45" height="14.00" fill="#8a8dc8"/>
<rect x="1067.90" y="1819.90" width="7.45" height="14.00" fill="#405bac"/>
<rect x="1075.05" y="1819.90" width="14.60" height="14.00" fill="#b5b5dd"/>
<rect x="1089.35" y="1819.90" width="7.45" height="14.00" fill="#c7c6e5"/>
<rect x="1096.50" y="1819.90" width="7.45" height="14.00" fill="#b5b5dd"/>
<rect x="1103.65" y="1819.90" width="14.60" height="14.00" fill="#6875bb"/>
<rect x="1117.95" y="1819.90" width="7.45" height="14.00" fill="#405bac"/>
<rect x="1125.10" y="1819.90" width="21.75" height="14.00" fill="#a0a1d3"/>
<rect x="1146.55" y="1819.90" width="7.45" height="14.00" fill="#6875bb"/>
<rect x="1153.70" y="1819.90" width="14.60" height="14.00" fill="#405bac"/>
<rect x="1168.00" y="1819.90" width="14.60" height="14.00" fill="#6875bb"/>
<rect x="1182.30" y="1819.90" width="7.45" height="14.00" fill="#8a8dc8"/>
<rect x="1189.45" y="1819.90" width="7.45" height="14.00" fill="#6875bb"/>
<rect x="1196.60" y="1819.90" width="7.45" height="14.00" fill="#8a8dc8"/>
<rect x="1203.75" y="1819.90" width="7.45" height="14.00" fill="#6875bb"/>
<rect x="1210.90" y="1819.90" width="28.90" height="14.00" fill="#a0a1d3"/>
<rect x="1239.50" y="1819.90" width="7.45" height="14.00" fill="#405bac"/>
<rect x="1246.65" y="1819.90" width="7.45" height="14.00" fill="#6875bb"/>
<rect x="1253.80" y="1819.90" width="21.75" height="14.00" fill="#405bac"/>
<rect x="1275.25" y="1819.90" width="43.20" height="14.00" fill="#6875bb"/>
<rect x="1318.15" y="1819.90" width="7.45" height="14.00" fill="#d7d6ec"/>
<rect x="1325.30" y="1819.90" width="7.45" height="14.00" fill="#b5b5dd"/>
<rect x="1332.45" y="1819.90" width="28.90" height="14.00" fill="#c7c6e5"/>
<rect x="1361.05" y="1819.90" width="7.45" height="14.00" fill="#6875bb"/>
<rect x="1368.20" y="1819.90" width="21.75" height="14.00" fill="#8a8dc8"/>
<rect x="1389.65" y="1819.90" width="7.45" height="14.00" fill="#b5b5dd"/>
<rect x="1396.80" y="1819.90" width="7.45" height="14.00" fill="#405bac"/>
<rect x="1403.95" y="1819.90" width="7.45" height="14.00" fill="#6875bb"/>
<rect x="1411.10" y="1819.90" width="14.60" height="14.00" fill="#8a8dc8"/>
<rect x="1425.40" y="1819.90" width="7.45" height="14.00" fill="#b5b5dd"/>
<rect x="1432.55" y="1819.90" width="14.60" height="14.00" fill="#6875bb"/>
<rect x="1446.85" y="1819.90" width="7.45" height="14.00" fill="#405bac"/>
<rect x="1454.00" y="1819.90" width="14.60" height="14.00" fill="#6875bb"/>
<rect x="1468.30" y="1819.90" width="7.45" height="14.00" fill="#8a8dc8"/>
<rect x="1475.45" y="1819.90" width="57.50" height="14.00" fill="#405bac"/>
<rect x="1532.65" y="1819.90" width="7.45" height="14.00" fill="#0047a5"/>
<rect x="1539.80" y="1819.90" width="7.45" height="14.00" fill="#405bac"/>
<rect x="1546.95" y="1819.90" width="7.45" height="14.00" fill="#6875bb"/>
<rect x="1554.10" y="1819.90" width="100.40" height="14.00" fill="#405bac"/>
<rect x="1654.20" y="1819.90" width="7.45" height="14.00" fill="#6875bb"/>
<rect x="1661.35" y="1819.90" width="21.75" height="14.00" fill="#405bac"/>
<rect x="1682.80" y="1819.90" width="7.45" height="14.00" fill="#6875bb"/>
<rect x="1689.95" y="1819.90" width="14.60" height="14.00" fill="#405bac"/>
<rect x="1704.25" y="1819.90" width="7.45" height="14.00" fill="#a0a1d3"/>
<rect x="1711.40" y="1819.90" width="7.45" height="14.00" fill="#6875bb"/>
<rect x="1718.55" y="1819.90" width="36.05" height="14.00" fill="#405bac"/>
<rect x="1754.30" y="1819.90" width="7.45" height="14.00" fill="#0047a5"/>
<rect x="1761.45" y="1819.90" width="28.90" height="14.00" fill="#405bac"/>
<rect x="1790.05" y="1819.90" width="7.45" height="14.00" fill="#6875bb"/>
<rect x="1797.20" y="1819.90" width="7.45" height="14.00" fill="#405bac"/>
<rect x="1804.35" y="1819.90" width="21.75" height="14.00" fill="#6875bb"/>
<rect x="1825.80" y="1819.90" width="7.45" height="14.00" fill="#8a8dc8"/>
<rect x="1832.95" y="1819.90" width="43.20" height="14.00" fill="#405bac"/>
<rect x="1875.85" y="1819.90" width="21.75" height="14.00" fill="#6875bb"/>
<rect x="1897.30" y="1819.90" width="14.60" height="14.00" fill="#405bac"/>
<rect x="1911.60" y="1819.90" width="7.45" height="14.00" fill="#6875bb"/>
<rect x="1918.75" y="1819.90" width="28.90" height="14.00" fill="#405bac"/>
<rect x="1947.35" y="1819.90" width="7.45" height="14.00" fill="#6875bb"/>
<rect x="1954.50" y="1819.90" width="14.60" height="14.00" fill="#8a8dc8"/>
<rect x="1968.80" y="1819.90" width="21.75" height="14.00" fill="#6875bb"/>
<rect x="1990.25" y="1819.90" width="43.20" height="14.00" fill="#405bac"/>
<rect x="2033.15" y="1819.90" width="14.60" height="14.00" fill="#6875bb"/>
<rect x="224.50" y="1833.50" width="43.20" height="23.90" fill="#405bac"/>
<rect x="267.40" y="1833.50" width="7.45" height="23.90" fill="#8a8dc8"/>
<rect x="274.55" y="1833.50" width="7.45" height="23.90" fill="#405bac"/>
<rect x="281.70" y="1833.50" width="14.60" height="23.90" fill="#f2f2f9"/>
<rect x="296.00" y="1833.50" width="14.60" height="23.90" fill="#405bac"/>
<rect x="310.30" y="1833.50" width="7.45" height="23.90" fill="#6875bb"/>
<rect x="317.45" y="1833.50" width="28.90" height="23.90" fill="#405bac"/>
<rect x="346.05" y="1833.50" width="7.45" height="23.90" fill="#6875bb"/>
<rect x="353.20" y="1833.50" width="7.45" height="23.90" fill="#405bac"/>
<rect x="360.35" y="1833.50" width="7.45" height="23.90" fill="#6875bb"/>
<rect x="367.50" y="1833.50" width="64.65" height="23.90" fill="#405bac"/>
<rect x="431.85" y="1833.50" width="7.45" height="23.90" fill="#6875bb"/>
<rect x="439.00" y="1833.50" width="7.45" height="23.90" fill="#405bac"/>
<rect x="446.15" y="1833.50" width="21.75" height="23.90" fill="#6875bb"/>
<rect x="467.60" y="1833.50" width="21.75" height="23.90" fill="#405bac"/>
<rect x="489.05" y="1833.50" width="7.45" height="23.90" fill="#6875bb"/>
<rect x="496.20" y="1833.50" width="7.45" height="23.90" fill="#405bac"/>
<rect x="503.35" y="1833.50" width="7.45" height="23.90" fill="#6875bb"/>
<rect x="510.50" y="1833.50" width="36.05" height="23.90" fill="#405bac"/>
<rect x="546.25" y="1833.50" width="7.45" height="23.90" fill="#6875bb"/>
<rect x="553.40" y="1833.50" width="43.20" height="23.90" fill="#405bac"/>
<rect x="596.30" y="1833.50" width="7.45" height="23.90" fill="#6875bb"/>
<rect x="603.45" y="1833.50" width="7.45" height="23.90" fill="#405bac"/>
<rect x="610.60" y="1833.50" width="21.75" height="23.90" fill="#6875bb"/>
<rect x="632.05" y="1833.50" width="43.20" height="23.90" fill="#405bac"/>
<rect x="674.95" y="1833.50" width="14.60" height="23.90" fill="#8a8dc8"/>
<rect x="689.25" y="1833.50" width="14.60" height="23.90" fill="#6875bb"/>
<rect x="703.55" y="1833.50" width="28.90" height="23.90" fill="#405bac"/>
<rect x="732.15" y="1833.50" width="14.60" height="23.90" fill="#6875bb"/>
<rect x="746.45" y="1833.50" width="7.45" height="23.90" fill="#405bac"/>
<rect x="753.60" y="1833.50" width="7.45" height="23.90" fill="#6875bb"/>
<rect x="760.75" y="1833.50" width="28.90" height="23.90" fill="#405bac"/>
<rect x="789.35" y="1833.50" width="7.45" height="23.90" fill="#6875bb"/>
<rect x="810.50" y="1833.50" width="14.60" height="23.90" fill="#405bac"/>
<rect x="824.80" y="1833.50" width="14.60" height="23.90" fill="#6875bb"/>
<rect x="839.10" y="1833.50" width="7.45" height="23.90" fill="#405bac"/>
<rect x="846.25" y="1833.50" width="7.45" height="23.90" fill="#ffffff"/>
<rect x="853.40" y="1833.50" width="7.45" height="23.90" fill="#405bac"/>
<rect x="860.55" y="1833.50" width="7.45" height="23.90" fill="#6875bb"/>
<rect x="867.70" y="1833.50" width="86.10" height="23.90" fill="#405bac"/>
<rect x="953.50" y="1833.50" width="21.75" height="23.90" fill="#8a8dc8"/>
<rect x="974.95" y="1833.50" width="36.05" height="23.90" fill="#405bac"/>
<rect x="1010.70" y="1833.50" width="21.75" height="23.90" fill="#6875bb"/>
<rect x="1032.15" y="1833.50" width="7.45" height="23.90" fill="#405bac"/>
<rect x="1039.30" y="1833.50" width="7.45" height="23.90" fill="#6875bb"/>
<rect x="1046.45" y="1833.50" width="14.60" height="23.90" fill="#405bac"/>
<rect x="1060.75" y="1833.50" width="7.45" height="23.90" fill="#6875bb"/>
<rect x="1067.90" y="1833.50" width="21.75" height="23.90" fill="#405bac"/>
<rect x="1089.35" y="1833.50" width="14.60" height="23.90" fill="#8a8dc8"/>
<rect x="1103.65" y="1833.50" width="86.10" height="23.90" fill="#405bac"/>
<rect x="1189.45" y="1833.50" width="14.60" height="23.90" fill="#6875bb"/>
<rect x="1203.75" y="1833.50" width="14.60" height="23.90" fill="#405bac"/>
<rect x="1218.05" y="1833.50" width="7.45" height="23.90" fill="#6875bb"/>
<rect x="1225.20" y="1833.50" width="7.45" height="23.90" fill="#405bac"/>
<rect x="1232.35" y="1833.50" width="7.45" height="23.90" fill="#6875bb"/>
<rect x="1239.50" y="1833.50" width="64.65" height="23.90" fill="#405bac"/>
<rect x="1303.85" y="1833.50" width="14.60" height="23.90" fill="#6875bb"/>
<rect x="1318.15" y="1833.50" width="64.65" height="23.90" fill="#405bac"/>
<rect x="1382.50" y="1833.50" width="14.60" height="23.90" fill="#6875bb"/>
<rect x="1396.80" y="1833.50" width="14.60" height="23.90" fill="#405bac"/>
<rect x="1411.10" y="1833.50" width="7.45" height="23.90" fill="#6875bb"/>
<rect x="1418.25" y="1833.50" width="7.45" height="23.90" fill="#405bac"/>
<rect x="1425.40" y="1833.50" width="21.75" height="23.90" fill="#6875bb"/>
<rect x="1446.85" y="1833.50" width="7.45" height="23.90" fill="#405bac"/>
<rect x="1454.00" y="1833.50" width="14.60" height="23.90" fill="#6875bb"/>
<rect x="1468.30" y="1833.50" width="7.45" height="23.90" fill="#8a8dc8"/>
<rect x="1475.45" y="1833.50" width="57.50" height="23.90" fill="#405bac"/>
<rect x="1532.65" y="1833.50" width="7.45" height="23.90" fill="#0047a5"/>
<rect x="1539.80" y="1833.50" width="7.45" height="23.90" fill="#405bac"/>
<rect x="1546.95" y="1833.50" width="7.45" height="23.90" fill="#6875bb"/>
<rect x="1554.10" y="1833.50" width="100.40" height="23.90" fill="#405bac"/>
<rect x="1654.20" y="1833.50" width="7.45" height="23.90" fill="#6875bb"/>
<rect x="1661.35" y="1833.50" width="21.75" height="23.90" fill="#405bac"/>
<rect x="1682.80" y="1833.50" width="7.45" height="23.90" fill="#6875bb"/>
<rect x="1689.95" y="1833.50" width="21.75" height="23.90" fill="#405bac"/>
<rect x="1711.40" y="1833.50" width="7.45" height="23.90" fill="#6875bb"/>
<rect x="1718.55" y="1833.50" width="36.05" height="23.90" fill="#405bac"/>
<rect x="1754.30" y="1833.50" width="7.45" height="23.90" fill="#0047a5"/>
<rect x="1761.45" y="1833.50" width="43.20" height="23.90" fill="#405bac"/>
<rect x="1804.35" y="1833.50" width="21.75" height="23.90" fill="#6875bb"/>
<rect x="1825.80" y="1833.50" width="7.45" height="23.90" fill="#8a8dc8"/>
<rect x="1832.95" y="1833.50" width="43.20" height="23.90" fill="#405bac"/>
<rect x="1875.85" y="1833.50" width="21.75" height="23.90" fill="#6875bb"/>
<rect x="1897.30" y="1833.50" width="14.60" height="23.90" fill="#405bac"/>
<rect x="1911.60" y="1833.50" width="7.45" height="23.90" fill="#6875bb"/>
<rect x="1918.75" y="1833.50" width="28.90" height="23.90" fill="#405bac"/>
<rect x="1947.35" y="1833.50" width="7.45" height="23.90" fill="#6875bb"/>
<rect x="1954.50" y="1833.50" width="7.45" height="23.90" fill="#8a8dc8"/>
<rect x="1961.65" y="1833.50" width="28.90" height="23.90" fill="#6875bb"/>
<rect x="1990.25" y="1833.50" width="43.20" height="23.90" fill="#405bac"/>
<rect x="2033.15" y="1833.50" width="14.60" height="23.90" fill="#6875bb"/>
<rect x="224.50" y="1857.00" width="43.20" height="14.40" fill="#405bac"/>
<rect x="267.40" y="1857.00" width="7.45" height="14.40" fill="#8a8dc8"/>
<rect x="274.55" y="1857.00" width="36.05" height="14.40" fill="#405bac"/>
<rect x="310.30" y="1857.00" width="7.45" height="14.40" fill="#6875bb"/>
<rect x="317.45" y="1857.00" width="28.90" height="14.40" fill="#405bac"/>
<rect x="346.05" y="1857.00" width="7.45" height="14.40" fill="#6875bb"/>
<rect x="353.20" y="1857.00" width="7.45" height="14.40" fill="#405bac"/>
<rect x="360.35" y="1857.00" width="7.45" height="14.40" fill="#6875bb"/>
<rect x="367.50" y="1857.00" width="64.65" height="14.40" fill="#405bac"/>
<rect x="431.85" y="1857.00" width="7.45" height="14.40" fill="#8a8dc8"/>
<rect x="439.00" y="1857.00" width="7.45" height="14.40" fill="#405bac"/>
<rect x="446.15" y="1857.00" width="21.75" height="14.40" fill="#6875bb"/>
<rect x="467.60" y="1857.00" width="21.75" height="14.40" fill="#405bac"/>
<rect x="489.05" y="1857.00" width="7.45" height="14.40" fill="#6875bb"/>
<rect x="496.20" y="1857.00" width="7.45" height="14.40" fill="#405bac"/>
<rect x="503.35" y="1857.00" width="7.45" height="14.40" fill="#6875bb"/>
<rect x="510.50" y="1857.00" width="36.05" height="14.40" fill="#405bac"/>
<rect x="546.25" y="1857.00" width="21.75" height="14.40" fill="#a0a1d3"/>
<rect x="567.70" y="1857.00" width="21.75" height="14.40" fill="#6875bb"/>
<rect x="589.15" y="1857.00" width="7.45" height="14.40" fill="#8a8dc8"/>
<rect x="596.30" y="1857.00" width="7.45" height="14.40" fill="#6875bb"/>
<rect x="603.45" y="1857.00" width="7.45" height="14.40" fill="#8a8dc8"/>
<rect x="610.60" y="1857.00" width="21.75" height="14.40" fill="#6875bb"/>
<rect x="632.05" y="1857.00" width="21.75" height="14.40" fill="#405bac"/>
<rect x="653.50" y="1857.00" width="7.45" height="14.40" fill="#8a8dc8"/>
<rect x="660.65" y="1857.00" width="14.60" height="14.40" fill="#405bac"/>
<rect x="674.95" y="1857.00" width="7.45" height="14.40" fill="#b5b5dd"/>
<rect x="682.10" y="1857.00" width="7.45" height="14.40" fill="#a0a1d3"/>
<rect x="689.25" y="1857.00" width="14.60" height="14.40" fill="#6875bb"/>
<rect x="703.55" y="1857.00" width="28.90" height="14.40" fill="#405bac"/>
<rect x="732.15" y="1857.00" width="14.60" height="14.40" fill="#6875bb"/>
<rect x="746.45" y="1857.00" width="28.90" height="14.40" fill="#405bac"/>
<rect x="775.05" y="1857.00" width="7.45" height="14.40" fill="#6875bb"/>
<rect x="782.20" y="1857.00" width="7.45" height="14.40" fill="#405bac"/>
<rect x="789.35" y="1857.00" width="7.45" height="14.40" fill="#6875bb"/>
<rect x="810.50" y="1857.00" width="7.45" height="14.40" fill="#6875bb"/>
<rect x="817.65" y="1857.00" width="7.45" height="14.40" fill="#a0a1d3"/>
<rect x="824.80" y="1857.00" width="7.45" height="14.40" fill="#8a8dc8"/>
<rect x="831.95" y="1857.00" width="7.45" height="14.40" fill="#e4e4f2"/>
<rect x="839.10" y="1857.00" width="7.45" height="14.40" fill="#c7c6e5"/>
<rect x="846.25" y="1857.00" width="7.45" height="14.40" fill="#ffffff"/>
<rect x="853.40" y="1857.00" width="7.45" height="14.40" fill="#c7c6e5"/>
<rect x="860.55" y="1857.00" width="14.60" height="14.40" fill="#b5b5dd"/>
<rect x="874.85" y="1857.00" width="7.45" height="14.40" fill="#a0a1d3"/>
<rect x="882.00" y="1857.00" width="14.60" height="14.40" fill="#b5b5dd"/>
<rect x="896.30" y="1857.00" width="7.45" height="14.40" fill="#a0a1d3"/>
<rect x="903.45" y="1857.00" width="14.60" height="14.40" fill="#405bac"/>
<rect x="917.75" y="1857.00" width="14.60" height="14.40" fill="#6875bb"/>
<rect x="932.05" y="1857.00" width="21.75" height="14.40" fill="#405bac"/>
<rect x="953.50" y="1857.00" width="21.75" height="14.40" fill="#8a8dc8"/>
<rect x="974.95" y="1857.00" width="36.05" height="14.40" fill="#405bac"/>
<rect x="1010.70" y="1857.00" width="21.75" height="14.40" fill="#6875bb"/>
<rect x="1032.15" y="1857.00" width="7.45" height="14.40" fill="#405bac"/>
<rect x="1039.30" y="1857.00" width="7.45" height="14.40" fill="#6875bb"/>
<rect x="1046.45" y="1857.00" width="14.60" height="14.40" fill="#405bac"/>
<rect x="1060.75" y="1857.00" width="7.45" height="14.40" fill="#6875bb"/>
<rect x="1067.90" y="1857.00" width="21.75" height="14.40" fill="#405bac"/>
<rect x="1089.35" y="1857.00" width="14.60" height="14.40" fill="#8a8dc8"/>
<rect x="1103.65" y="1857.00" width="57.50" height="14.40" fill="#405bac"/>
<rect x="1160.85" y="1857.00" width="7.45" height="14.40" fill="#8a8dc8"/>
<rect x="1168.00" y="1857.00" width="21.75" height="14.40" fill="#405bac"/>
<rect x="1189.45" y="1857.00" width="14.60" height="14.40" fill="#6875bb"/>
<rect x="1203.75" y="1857.00" width="14.60" height="14.40" fill="#405bac"/>
<rect x="1218.05" y="1857.00" width="7.45" height="14.40" fill="#6875bb"/>
<rect x="1225.20" y="1857.00" width="7.45" height="14.40" fill="#405bac"/>
<rect x="1232.35" y="1857.00" width="7.45" height="14.40" fill="#6875bb"/>
<rect x="1239.50" y="1857.00" width="21.75" height="14.40" fill="#405bac"/>
<rect x="1260.95" y="1857.00" width="7.45" height="14.40" fill="#6875bb"/>
<rect x="1268.10" y="1857.00" width="36.05" height="14.40" fill="#405bac"/>
<rect x="1303.85" y="1857.00" width="14.60" height="14.40" fill="#6875bb"/>
<rect x="1318.15" y="1857.00" width="64.65" height="14.40" fill="#405bac"/>
<rect x="1382.50" y="1857.00" width="14.60" height="14.40" fill="#6875bb"/>
<rect x="1396.80" y="1857.00" width="14.60" height="14.40" fill="#405bac"/>
<rect x="1411.10" y="1857.00" width="7.45" height="14.40" fill="#6875bb"/>
<rect x="1418.25" y="1857.00" width="7.45" height="14.40" fill="#405bac"/>
<rect x="1425.40" y="1857.00" width="7.45" height="14.40" fill="#6875bb"/>
<rect x="1432.55" y="1857.00" width="7.45" height="14.40" fill="#8a8dc8"/>
<rect x="1439.70" y="1857.00" width="7.45" height="14.40" fill="#6875bb"/>
<rect x="1446.85" y="1857.00" width="7.45" height="14.40" fill="#b5b5dd"/>
<rect x="1454.00" y="1857.00" width="7.45" height="14.40" fill="#6875bb"/>
<rect x="1461.15" y="1857.00" width="7.45" height="14.40" fill="#8a8dc8"/>
<rect x="1468.30" y="1857.00" width="7.45" height="14.40" fill="#a0a1d3"/>
<rect x="1475.45" y="1857.00" width="7.45" height="14.40" fill="#8a8dc8"/>
<rect x="1482.60" y="1857.00" width="14.60" height="14.40" fill="#b5b5dd"/>
<rect x="1496.90" y="1857.00" width="7.45" height="14.40" fill="#a0a1d3"/>
<rect x="1504.05" y="1857.00" width="7.45" height="14.40" fill="#b5b5dd"/>
<rect x="1511.20" y="1857.00" width="14.60" height="14.40" fill="#8a8dc8"/>
<rect x="1525.50" y="1857.00" width="7.45" height="14.40" fill="#b5b5dd"/>
<rect x="1532.65" y="1857.00" width="7.45" height="14.40" fill="#8a8dc8"/>
<rect x="1539.80" y="1857.00" width="7.45" height="14.40" fill="#c7c6e5"/>
<rect x="1546.95" y="1857.00" width="28.90" height="14.40" fill="#a0a1d3"/>
<rect x="1575.55" y="1857.00" width="14.60" height="14.40" fill="#8a8dc8"/>
<rect x="1589.85" y="1857.00" width="7.45" height="14.40" fill="#c7c6e5"/>
<rect x="1597.00" y="1857.00" width="7.45" height="14.40" fill="#a0a1d3"/>
<rect x="1604.15" y="1857.00" width="7.45" height="14.40" fill="#8a8dc8"/>
<rect x="1611.30" y="1857.00" width="7.45" height="14.40" fill="#b5b5dd"/>
<rect x="1618.45" y="1857.00" width="7.45" height="14.40" fill="#c7c6e5"/>
<rect x="1625.60" y="1857.00" width="21.75" height="14.40" fill="#b5b5dd"/>
<rect x="1647.05" y="1857.00" width="7.45" height="14.40" fill="#a0a1d3"/>
<rect x="1654.20" y="1857.00" width="7.45" height="14.40" fill="#c7c6e5"/>
<rect x="1661.35" y="1857.00" width="7.45" height="14.40" fill="#b5b5dd"/>
<rect x="1668.50" y="1857.00" width="14.60" height="14.40" fill="#d7d6ec"/>
<rect x="1682.80" y="1857.00" width="7.45" height="14.40" fill="#e4e4f2"/>
<rect x="1689.95" y="1857.00" width="7.45" height="14.40" fill="#d7d6ec"/>
<rect x="1697.10" y="1857.00" width="7.45" height="14.40" fill="#a0a1d3"/>
<rect x="1704.25" y="1857.00" width="7.45" height="14.40" fill="#405bac"/>
<rect x="1711.40" y="1857.00" width="36.05" height="14.40" fill="#6875bb"/>
<rect x="1747.15" y="1857.00" width="7.45" height="14.40" fill="#a0a1d3"/>
<rect x="1754.30" y="1857.00" width="28.90" height="14.40" fill="#405bac"/>
<rect x="1782.90" y="1857.00" width="7.45" height="14.40" fill="#6875bb"/>
<rect x="1790.05" y="1857.00" width="14.60" height="14.40" fill="#405bac"/>
<rect x="1804.35" y="1857.00" width="7.45" height="14.40" fill="#6875bb"/>
<rect x="1811.50" y="1857.00" width="7.45" height="14.40" fill="#a0a1d3"/>
<rect x="1818.65" y="1857.00" width="7.45" height="14.40" fill="#6875bb"/>
<rect x="1825.80" y="1857.00" width="7.45" height="14.40" fill="#8a8dc8"/>
<rect x="1832.95" y="1857.00" width="7.45" height="14.40" fill="#6875bb"/>
<rect x="1840.10" y="1857.00" width="7.45" height="14.40" fill="#8a8dc8"/>
<rect x="1847.25" y="1857.00" width="14.60" height="14.40" fill="#6875bb"/>
<rect x="1861.55" y="1857.00" width="7.45" height="14.40" fill="#8a8dc8"/>
<rect x="1868.70" y="1857.00" width="28.90" height="14.40" fill="#6875bb"/>
<rect x="1897.30" y="1857.00" width="7.45" height="14.40" fill="#405bac"/>
<rect x="1904.45" y="1857.00" width="21.75" height="14.40" fill="#6875bb"/>
<rect x="1925.90" y="1857.00" width="7.45" height="14.40" fill="#8a8dc8"/>
<rect x="1933.05" y="1857.00" width="7.45" height="14.40" fill="#6875bb"/>
<rect x="1940.20" y="1857.00" width="7.45" height="14.40" fill="#405bac"/>
<rect x="1947.35" y="1857.00" width="7.45" height="14.40" fill="#6875bb"/>
<rect x="1954.50" y="1857.00" width="7.45" height="14.40" fill="#8a8dc8"/>
<rect x="1961.65" y="1857.00" width="14.60" height="14.40" fill="#6875bb"/>
<rect x="1975.95" y="1857.00" width="14.60" height="14.40" fill="#a0a1d3"/>
<rect x="1990.25" y="1857.00" width="7.45" height="14.40" fill="#6875bb"/>
<rect x="1997.40" y="1857.00" width="14.60" height="14.40" fill="#a0a1d3"/>
<rect x="2011.70" y="1857.00" width="21.75" height="14.40" fill="#8a8dc8"/>
<rect x="2033.15" y="1857.00" width="7.45" height="14.40" fill="#6875bb"/>
<rect x="2040.30" y="1857.00" width="7.45" height="14.40" fill="#8a8dc8"/>
<rect x="224.50" y="1871.00" width="136.15" height="37.90" fill="#405bac"/>
<rect x="360.35" y="1871.00" width="7.45" height="37.90" fill="#0047a5"/>
<rect x="367.50" y="1871.00" width="86.10" height="37.90" fill="#405bac"/>
<rect x="453.30" y="1871.00" width="7.45" height="37.90" fill="#6875bb"/>
<rect x="460.45" y="1871.00" width="43.20" height="37.90" fill="#405bac"/>
<rect x="503.35" y="1871.00" width="7.45" height="37.90" fill="#6875bb"/>
<rect x="510.50" y="1871.00" width="36.05" height="37.90" fill="#405bac"/>
<rect x="546.25" y="1871.00" width="21.75" height="37.90" fill="#a0a1d3"/>
<rect x="567.70" y="1871.00" width="50.35" height="37.90" fill="#6875bb"/>
<rect x="617.75" y="1871.00" width="7.45" height="37.90" fill="#405bac"/>
<rect x="624.90" y="1871.00" width="7.45" height="37.90" fill="#6875bb"/>
<rect x="632.05" y="1871.00" width="21.75" height="37.90" fill="#405bac"/>
<rect x="653.50" y="1871.00" width="7.45" height="37.90" fill="#6875bb"/>
<rect x="660.65" y="1871.00" width="14.60" height="37.90" fill="#405bac"/>
<rect x="674.95" y="1871.00" width="7.45" height="37.90" fill="#6875bb"/>
<rect x="682.10" y="1871.00" width="50.35" height="37.90" fill="#405bac"/>
<rect x="732.15" y="1871.00" width="7.45" height="37.90" fill="#6875bb"/>
<rect x="739.30" y="1871.00" width="14.60" height="37.90" fill="#405bac"/>
<rect x="753.60" y="1871.00" width="7.45" height="37.90" fill="#6875bb"/>
<rect x="760.75" y="1871.00" width="14.60" height="37.90" fill="#405bac"/>
<rect x="775.05" y="1871.00" width="7.45" height="37.90" fill="#6875bb"/>
<rect x="782.20" y="1871.00" width="7.45" height="37.90" fill="#405bac"/>
<rect x="789.35" y="1871.00" width="7.45" height="37.90" fill="#6875bb"/>
<rect x="810.50" y="1871.00" width="7.45" height="37.90" fill="#6875bb"/>
<rect x="817.65" y="1871.00" width="7.45" height="37.90" fill="#a0a1d3"/>
<rect x="824.80" y="1871.00" width="7.45" height="37.90" fill="#8a8dc8"/>
<rect x="831.95" y="1871.00" width="7.45" height="37.90" fill="#a0a1d3"/>
<rect x="839.10" y="1871.00" width="7.45" height="37.90" fill="#c7c6e5"/>
<rect x="846.25" y="1871.00" width="7.45" height="37.90" fill="#f2f2f9"/>
<rect x="853.40" y="1871.00" width="7.45" height="37.90" fill="#c7c6e5"/>
<rect x="860.55" y="1871.00" width="14.60" height="37.90" fill="#b5b5dd"/>
<rect x="874.85" y="1871.00" width="7.45" height="37.90" fill="#a0a1d3"/>
<rect x="882.00" y="1871.00" width="14.60" height="37.90" fill="#b5b5dd"/>
<rect x="896.30" y="1871.00" width="7.45" height="37.90" fill="#a0a1d3"/>
<rect x="903.45" y="1871.00" width="14.60" height="37.90" fill="#405bac"/>
<rect x="917.75" y="1871.00" width="14.60" height="37.90" fill="#6875bb"/>
<rect x="932.05" y="1871.00" width="86.10" height="37.90" fill="#405bac"/>
<rect x="1017.85" y="1871.00" width="14.60" height="37.90" fill="#6875bb"/>
<rect x="1032.15" y="1871.00" width="57.50" height="37.90" fill="#405bac"/>
<rect x="1089.35" y="1871.00" width="14.60" height="37.90" fill="#6875bb"/>
<rect x="1103.65" y="1871.00" width="57.50" height="37.90" fill="#405bac"/>
<rect x="1160.85" y="1871.00" width="7.45" height="37.90" fill="#6875bb"/>
<rect x="1168.00" y="1871.00" width="50.35" height="37.90" fill="#405bac"/>
<rect x="1218.05" y="1871.00" width="7.45" height="37.90" fill="#6875bb"/>
<rect x="1225.20" y="1871.00" width="7.45" height="37.90" fill="#405bac"/>
<rect x="1232.35" y="1871.00" width="7.45" height="37.90" fill="#6875bb"/>
<rect x="1239.50" y="1871.00" width="64.65" height="37.90" fill="#405bac"/>
<rect x="1303.85" y="1871.00" width="14.60" height="37.90" fill="#6875bb"/>
<rect x="1318.15" y="1871.00" width="121.85" height="37.90" fill="#405bac"/>
<rect x="1439.70" y="1871.00" width="7.45" height="37.90" fill="#6875bb"/>
<rect x="1446.85" y="1871.00" width="7.45" height="37.90" fill="#a0a1d3"/>
<rect x="1454.00" y="1871.00" width="7.45" height="37.90" fill="#6875bb"/>
<rect x="1461.15" y="1871.00" width="21.75" height="37.90" fill="#8a8dc8"/>
<rect x="1482.60" y="1871.00" width="7.45" height="37.90" fill="#b5b5dd"/>
<rect x="1489.75" y="1871.00" width="14.60" height="37.90" fill="#a0a1d3"/>
<rect x="1504.05" y="1871.00" width="7.45" height="37.90" fill="#c7c6e5"/>
<rect x="1511.20" y="1871.00" width="14.60" height="37.90" fill="#8a8dc8"/>
<rect x="1525.50" y="1871.00" width="7.45" height="37.90" fill="#b5b5dd"/>
<rect x="1532.65" y="1871.00" width="14.60" height="37.90" fill="#8a8dc8"/>
<rect x="1546.95" y="1871.00" width="7.45" height="37.90" fill="#6875bb"/>
<rect x="1554.10" y="1871.00" width="7.45" height="37.90" fill="#8a8dc8"/>
<rect x="1561.25" y="1871.00" width="7.45" height="37.90" fill="#a0a1d3"/>
<rect x="1568.40" y="1871.00" width="21.75" height="37.90" fill="#8a8dc8"/>
<rect x="1589.85" y="1871.00" width="7.45" height="37.90" fill="#6875bb"/>
<rect x="1597.00" y="1871.00" width="14.60" height="37.90" fill="#8a8dc8"/>
<rect x="1611.30" y="1871.00" width="21.75" height="37.90" fill="#a0a1d3"/>
<rect x="1632.75" y="1871.00" width="14.60" height="37.90" fill="#b5b5dd"/>
<rect x="1647.05" y="1871.00" width="7.45" height="37.90" fill="#a0a1d3"/>
<rect x="1654.20" y="1871.00" width="7.45" height="37.90" fill="#c7c6e5"/>
<rect x="1661.35" y="1871.00" width="7.45" height="37.90" fill="#a0a1d3"/>
<rect x="1668.50" y="1871.00" width="7.45" height="37.90" fill="#b5b5dd"/>
<rect x="1675.65" y="1871.00" width="14.60" height="37.90" fill="#8a8dc8"/>
<rect x="1689.95" y="1871.00" width="7.45" height="37.90" fill="#b5b5dd"/>
<rect x="1697.10" y="1871.00" width="7.45" height="37.90" fill="#a0a1d3"/>
<rect x="1704.25" y="1871.00" width="7.45" height="37.90" fill="#405bac"/>
<rect x="1711.40" y="1871.00" width="28.90" height="37.90" fill="#6875bb"/>
<rect x="1740.00" y="1871.00" width="7.45" height="37.90" fill="#405bac"/>
<rect x="1747.15" y="1871.00" width="7.45" height="37.90" fill="#6875bb"/>
<rect x="1754.30" y="1871.00" width="28.90" height="37.90" fill="#405bac"/>
<rect x="1782.90" y="1871.00" width="7.45" height="37.90" fill="#6875bb"/>
<rect x="1790.05" y="1871.00" width="14.60" height="37.90" fill="#405bac"/>
<rect x="1804.35" y="1871.00" width="7.45" height="37.90" fill="#6875bb"/>
<rect x="1811.50" y="1871.00" width="7.45" height="37.90" fill="#405bac"/>
<rect x="1818.65" y="1871.00" width="21.75" height="37.90" fill="#6875bb"/>
<rect x="1840.10" y="1871.00" width="7.45" height="37.90" fill="#8a8dc8"/>
<rect x="1847.25" y="1871.00" width="14.60" height="37.90" fill="#6875bb"/>
<rect x="1861.55" y="1871.00" width="7.45" height="37.90" fill="#8a8dc8"/>
<rect x="1868.70" y="1871.00" width="28.90" height="37.90" fill="#6875bb"/>
<rect x="1897.30" y="1871.00" width="7.45" height="37.90" fill="#405bac"/>
<rect x="1904.45" y="1871.00" width="21.75" height="37.90" fill="#6875bb"/>
<rect x="1925.90" y="1871.00" width="7.45" height="37.90" fill="#8a8dc8"/>
<rect x="1933.05" y="1871.00" width="43.20" height="37.90" fill="#405bac"/>
<rect x="1975.95" y="1871.00" width="7.45" height="37.90" fill="#6875bb"/>
<rect x="1983.10" y="1871.00" width="7.45" height="37.90" fill="#405bac"/>
<rect x="1990.25" y="1871.00" width="7.45" height="37.90" fill="#6875bb"/>
<rect x="1997.40" y="1871.00" width="14.60" height="37.90" fill="#a0a1d3"/>
<rect x="2011.70" y="1871.00" width="7.45" height="37.90" fill="#6875bb"/>
<rect x="2018.85" y="1871.00" width="7.45" height="37.90" fill="#8a8dc8"/>
<rect x="2026.00" y="1871.00" width="21.75" height="37.90" fill="#6875bb"/>
<rect x="224.50" y="1908.50" width="21.75" height="37.90" fill="#405bac"/>
<rect x="245.95" y="1908.50" width="7.45" height="37.90" fill="#6875bb"/>
<rect x="253.10" y="1908.50" width="107.55" height="37.90" fill="#405bac"/>
<rect x="360.35" y="1908.50" width="7.45" height="37.90" fill="#0047a5"/>
<rect x="367.50" y="1908.50" width="136.15" height="37.90" fill="#405bac"/>
<rect x="503.35" y="1908.50" width="14.60" height="37.90" fill="#6875bb"/>
<rect x="517.65" y="1908.50" width="7.45" height="37.90" fill="#405bac"/>
<rect x="524.80" y="1908.50" width="7.45" height="37.90" fill="#6875bb"/>
<rect x="531.95" y="1908.50" width="14.60" height="37.90" fill="#405bac"/>
<rect x="546.25" y="1908.50" width="7.45" height="37.90" fill="#6875bb"/>
<rect x="553.40" y="1908.50" width="7.45" height="37.90" fill="#8a8dc8"/>
<rect x="560.55" y="1908.50" width="57.50" height="37.90" fill="#6875bb"/>
<rect x="617.75" y="1908.50" width="7.45" height="37.90" fill="#405bac"/>
<rect x="624.90" y="1908.50" width="14.60" height="37.90" fill="#6875bb"/>
<rect x="639.20" y="1908.50" width="14.60" height="37.90" fill="#405bac"/>
<rect x="653.50" y="1908.50" width="7.45" height="37.90" fill="#6875bb"/>
<rect x="660.65" y="1908.50" width="14.60" height="37.90" fill="#405bac"/>
<rect x="674.95" y="1908.50" width="7.45" height="37.90" fill="#6875bb"/>
<rect x="682.10" y="1908.50" width="50.35" height="37.90" fill="#405bac"/>
<rect x="732.15" y="1908.50" width="7.45" height="37.90" fill="#6875bb"/>
<rect x="739.30" y="1908.50" width="7.45" height="37.90" fill="#405bac"/>
<rect x="746.45" y="1908.50" width="14.60" height="37.90" fill="#6875bb"/>
<rect x="760.75" y="1908.50" width="21.75" height="37.90" fill="#405bac"/>
<rect x="782.20" y="1908.50" width="14.60" height="37.90" fill="#6875bb"/>
<rect x="810.50" y="1908.50" width="7.45" height="37.90" fill="#b5b5dd"/>
<rect x="817.65" y="1908.50" width="7.45" height="37.90" fill="#c7c6e5"/>
<rect x="824.80" y="1908.50" width="7.45" height="37.90" fill="#8a8dc8"/>
<rect x="831.95" y="1908.50" width="14.60" height="37.90" fill="#a0a1d3"/>
<rect x="846.25" y="1908.50" width="7.45" height="37.90" fill="#f2f2f9"/>
<rect x="853.40" y="1908.50" width="7.45" height="37.90" fill="#c7c6e5"/>
<rect x="860.55" y="1908.50" width="7.45" height="37.90" fill="#b5b5dd"/>
<rect x="867.70" y="1908.50" width="14.60" height="37.90" fill="#c7c6e5"/>
<rect x="882.00" y="1908.50" width="14.60" height="37.90" fill="#d7d6ec"/>
<rect x="896.30" y="1908.50" width="7.45" height="37.90" fill="#f2f2f9"/>
<rect x="903.45" y="1908.50" width="86.10" height="37.90" fill="#405bac"/>
<rect x="989.25" y="1908.50" width="7.45" height="37.90" fill="#6875bb"/>
<rect x="996.40" y="1908.50" width="50.35" height="37.90" fill="#405bac"/>
<rect x="1046.45" y="1908.50" width="7.45" height="37.90" fill="#6875bb"/>
<rect x="1053.60" y="1908.50" width="43.20" height="37.90" fill="#405bac"/>
<rect x="1096.50" y="1908.50" width="7.45" height="37.90" fill="#6875bb"/>
<rect x="1103.65" y="1908.50" width="71.80" height="37.90" fill="#405bac"/>
<rect x="1175.15" y="1908.50" width="14.60" height="37.90" fill="#6875bb"/>
<rect x="1189.45" y="1908.50" width="28.90" height="37.90" fill="#405bac"/>
<rect x="1218.05" y="1908.50" width="7.45" height="37.90" fill="#6875bb"/>
<rect x="1225.20" y="1908.50" width="7.45" height="37.90" fill="#405bac"/>
<rect x="1232.35" y="1908.50" width="7.45" height="37.90" fill="#6875bb"/>
<rect x="1239.50" y="1908.50" width="50.35" height="37.90" fill="#405bac"/>
<rect x="1289.55" y="1908.50" width="7.45" height="37.90" fill="#6875bb"/>
<rect x="1296.70" y="1908.50" width="7.45" height="37.90" fill="#405bac"/>
<rect x="1303.85" y="1908.50" width="14.60" height="37.90" fill="#6875bb"/>
<rect x="1318.15" y="1908.50" width="121.85" height="37.90" fill="#405bac"/>
<rect x="1439.70" y="1908.50" width="21.75" height="37.90" fill="#8a8dc8"/>
<rect x="1461.15" y="1908.50" width="7.45" height="37.90" fill="#6875bb"/>
<rect x="1468.30" y="1908.50" width="7.45" height="37.90" fill="#405bac"/>
<rect x="1475.45" y="1908.50" width="7.45" height="37.90" fill="#a0a1d3"/>
<rect x="1482.60" y="1908.50" width="21.75" height="37.90" fill="#8a8dc8"/>
<rect x="1504.05" y="1908.50" width="7.45" height="37.90" fill="#a0a1d3"/>
<rect x="1511.20" y="1908.50" width="7.45" height="37.90" fill="#c7c6e5"/>
<rect x="1518.35" y="1908.50" width="7.45" height="37.90" fill="#a0a1d3"/>
<rect x="1525.50" y="1908.50" width="14.60" height="37.90" fill="#b5b5dd"/>
<rect x="1539.80" y="1908.50" width="7.45" height="37.90" fill="#8a8dc8"/>
<rect x="1546.95" y="1908.50" width="7.45" height="37.90" fill="#6875bb"/>
<rect x="1554.10" y="1908.50" width="7.45" height="37.90" fill="#8a8dc8"/>
<rect x="1561.25" y="1908.50" width="7.45" height="37.90" fill="#a0a1d3"/>
<rect x="1568.40" y="1908.50" width="7.45" height="37.90" fill="#8a8dc8"/>
<rect x="1575.55" y="1908.50" width="7.45" height="37.90" fill="#a0a1d3"/>
<rect x="1582.70" y="1908.50" width="7.45" height="37.90" fill="#8a8dc8"/>
<rect x="1589.85" y="1908.50" width="7.45" height="37.90" fill="#6875bb"/>
<rect x="1597.00" y="1908.50" width="14.60" height="37.90" fill="#8a8dc8"/>
<rect x="1611.30" y="1908.50" width="21.75" height="37.90" fill="#a0a1d3"/>
<rect x="1632.75" y="1908.50" width="7.45" height="37.90" fill="#b5b5dd"/>
<rect x="1639.90" y="1908.50" width="14.60" height="37.90" fill="#a0a1d3"/>
<rect x="1654.20" y="1908.50" width="7.45" height="37.90" fill="#b5b5dd"/>
<rect x="1661.35" y="1908.50" width="7.45" height="37.90" fill="#6875bb"/>
<rect x="1668.50" y="1908.50" width="21.75" height="37.90" fill="#8a8dc8"/>
<rect x="1689.95" y="1908.50" width="7.45" height="37.90" fill="#a0a1d3"/>
<rect x="1697.10" y="1908.50" width="14.60" height="37.90" fill="#405bac"/>
<rect x="1711.40" y="1908.50" width="14.60" height="37.90" fill="#6875bb"/>
<rect x="1725.70" y="1908.50" width="7.45" height="37.90" fill="#b5b5dd"/>
<rect x="1732.85" y="1908.50" width="7.45" height="37.90" fill="#6875bb"/>
<rect x="1740.00" y="1908.50" width="7.45" height="37.90" fill="#405bac"/>
<rect x="1747.15" y="1908.50" width="7.45" height="37.90" fill="#6875bb"/>
<rect x="1754.30" y="1908.50" width="7.45" height="37.90" fill="#a0a1d3"/>
<rect x="1761.45" y="1908.50" width="7.45" height="37.90" fill="#405bac"/>
<rect x="1768.60" y="1908.50" width="7.45" height="37.90" fill="#6875bb"/>
<rect x="1775.75" y="1908.50" width="14.60" height="37.90" fill="#405bac"/>
<rect x="1790.05" y="1908.50" width="7.45" height="37.90" fill="#6875bb"/>
<rect x="1797.20" y="1908.50" width="7.45" height="37.90" fill="#405bac"/>
<rect x="1804.35" y="1908.50" width="7.45" height="37.90" fill="#6875bb"/>
<rect x="1811.50" y="1908.50" width="7.45" height="37.90" fill="#405bac"/>
<rect x="1818.65" y="1908.50" width="21.75" height="37.90" fill="#6875bb"/>
<rect x="1840.10" y="1908.50" width="7.45" height="37.90" fill="#405bac"/>
<rect x="1847.25" y="1908.50" width="14.60" height="37.90" fill="#6875bb"/>
<rect x="1861.55" y="1908.50" width="7.45" height="37.90" fill="#8a8dc8"/>
<rect x="1868.70" y="1908.50" width="7.45" height="37.90" fill="#6875bb"/>
<rect x="1875.85" y="1908.50" width="7.45" height="37.90" fill="#8a8dc8"/>
<rect x="1883.00" y="1908.50" width="28.90" height="37.90" fill="#6875bb"/>
<rect x="1911.60" y="1908.50" width="7.45" height="37.90" fill="#405bac"/>
<rect x="1918.75" y="1908.50" width="7.45" height="37.90" fill="#6875bb"/>
<rect x="1925.90" y="1908.50" width="7.45" height="37.90" fill="#8a8dc8"/>
<rect x="1933.05" y="1908.50" width="7.45" height="37.90" fill="#405bac"/>
<rect x="1940.20" y="1908.50" width="7.45" height="37.90" fill="#6875bb"/>
<rect x="1947.35" y="1908.50" width="28.90" height="37.90" fill="#405bac"/>
<rect x="1975.95" y="1908.50" width="7.45" height="37.90" fill="#6875bb"/>
<rect x="1983.10" y="1908.50" width="7.45" height="37.90" fill="#405bac"/>
<rect x="1990.25" y="1908.50" width="7.45" height="37.90" fill="#6875bb"/>
<rect x="1997.40" y="1908.50" width="14.60" height="37.90" fill="#8a8dc8"/>
<rect x="2011.70" y="1908.50" width="36.05" height="37.90" fill="#6875bb"/>
<rect x="224.50" y="1946.00" width="71.80" height="37.90" fill="#405bac"/>
<rect x="296.00" y="1946.00" width="7.45" height="37.90" fill="#0047a5"/>
<rect x="303.15" y="1946.00" width="107.55" height="37.90" fill="#405bac"/>
<rect x="410.40" y="1946.00" width="7.45" height="37.90" fill="#0047a5"/>
<rect x="417.55" y="1946.00" width="121.85" height="37.90" fill="#405bac"/>
<rect x="539.10" y="1946.00" width="7.45" height="37.90" fill="#0047a5"/>
<rect x="546.25" y="1946.00" width="7.45" height="37.90" fill="#6875bb"/>
<rect x="553.40" y="1946.00" width="7.45" height="37.90" fill="#8a8dc8"/>
<rect x="560.55" y="1946.00" width="28.90" height="37.90" fill="#6875bb"/>
<rect x="589.15" y="1946.00" width="21.75" height="37.90" fill="#8a8dc8"/>
<rect x="610.60" y="1946.00" width="7.45" height="37.90" fill="#6875bb"/>
<rect x="617.75" y="1946.00" width="7.45" height="37.90" fill="#405bac"/>
<rect x="624.90" y="1946.00" width="14.60" height="37.90" fill="#6875bb"/>
<rect x="639.20" y="1946.00" width="14.60" height="37.90" fill="#405bac"/>
<rect x="653.50" y="1946.00" width="7.45" height="37.90" fill="#6875bb"/>
<rect x="660.65" y="1946.00" width="14.60" height="37.90" fill="#405bac"/>
<rect x="674.95" y="1946.00" width="7.45" height="37.90" fill="#8a8dc8"/>
<rect x="682.10" y="1946.00" width="14.60" height="37.90" fill="#6875bb"/>
<rect x="696.40" y="1946.00" width="43.20" height="37.90" fill="#405bac"/>
<rect x="739.30" y="1946.00" width="21.75" height="37.90" fill="#6875bb"/>
<rect x="760.75" y="1946.00" width="21.75" height="37.90" fill="#405bac"/>
<rect x="782.20" y="1946.00" width="14.60" height="37.90" fill="#6875bb"/>
<rect x="810.50" y="1946.00" width="14.60" height="37.90" fill="#b5b5dd"/>
<rect x="824.80" y="1946.00" width="7.45" height="37.90" fill="#8a8dc8"/>
<rect x="831.95" y="1946.00" width="14.60" height="37.90" fill="#a0a1d3"/>
<rect x="846.25" y="1946.00" width="7.45" height="37.90" fill="#f2f2f9"/>
<rect x="853.40" y="1946.00" width="28.90" height="37.90" fill="#c7c6e5"/>
<rect x="882.00" y="1946.00" width="7.45" height="37.90" fill="#b5b5dd"/>
<rect x="889.15" y="1946.00" width="7.45" height="37.90" fill="#c7c6e5"/>
<rect x="896.30" y="1946.00" width="7.45" height="37.90" fill="#f2f2f9"/>
<rect x="903.45" y="1946.00" width="50.35" height="37.90" fill="#405bac"/>
<rect x="953.50" y="1946.00" width="7.45" height="37.90" fill="#6875bb"/>
<rect x="960.65" y="1946.00" width="21.75" height="37.90" fill="#405bac"/>
<rect x="982.10" y="1946.00" width="14.60" height="37.90" fill="#6875bb"/>
<rect x="996.40" y="1946.00" width="43.20" height="37.90" fill="#405bac"/>
<rect x="1039.30" y="1946.00" width="14.60" height="37.90" fill="#6875bb"/>
<rect x="1053.60" y="1946.00" width="14.60" height="37.90" fill="#405bac"/>
<rect x="1067.90" y="1946.00" width="7.45" height="37.90" fill="#0047a5"/>
<rect x="1075.05" y="1946.00" width="21.75" height="37.90" fill="#405bac"/>
<rect x="1096.50" y="1946.00" width="7.45" height="37.90" fill="#6875bb"/>
<rect x="1103.65" y="1946.00" width="114.70" height="37.90" fill="#405bac"/>
<rect x="1218.05" y="1946.00" width="7.45" height="37.90" fill="#6875bb"/>
<rect x="1225.20" y="1946.00" width="64.65" height="37.90" fill="#405bac"/>
<rect x="1289.55" y="1946.00" width="7.45" height="37.90" fill="#6875bb"/>
<rect x="1296.70" y="1946.00" width="7.45" height="37.90" fill="#405bac"/>
<rect x="1303.85" y="1946.00" width="14.60" height="37.90" fill="#6875bb"/>
<rect x="1318.15" y="1946.00" width="7.45" height="37.90" fill="#0047a5"/>
<rect x="1325.30" y="1946.00" width="14.60" height="37.90" fill="#405bac"/>
<rect x="1339.60" y="1946.00" width="14.60" height="37.90" fill="#0047a5"/>
<rect x="1353.90" y="1946.00" width="28.90" height="37.90" fill="#405bac"/>
<rect x="1382.50" y="1946.00" width="7.45" height="37.90" fill="#6875bb"/>
<rect x="1389.65" y="1946.00" width="43.20" height="37.90" fill="#405bac"/>
<rect x="1432.55" y="1946.00" width="7.45" height="37.90" fill="#6875bb"/>
<rect x="1439.70" y="1946.00" width="7.45" height="37.90" fill="#b5b5dd"/>
<rect x="1446.85" y="1946.00" width="14.60" height="37.90" fill="#8a8dc8"/>
<rect x="1461.15" y="1946.00" width="7.45" height="37.90" fill="#6875bb"/>
<rect x="1468.30" y="1946.00" width="7.45" height="37.90" fill="#405bac"/>
<rect x="1475.45" y="1946.00" width="7.45" height="37.90" fill="#a0a1d3"/>
<rect x="1482.60" y="1946.00" width="21.75" height="37.90" fill="#8a8dc8"/>
<rect x="1504.05" y="1946.00" width="7.45" height="37.90" fill="#a0a1d3"/>
<rect x="1511.20" y="1946.00" width="7.45" height="37.90" fill="#c7c6e5"/>
<rect x="1518.35" y="1946.00" width="14.60" height="37.90" fill="#a0a1d3"/>
<rect x="1532.65" y="1946.00" width="7.45" height="37.90" fill="#b5b5dd"/>
<rect x="1539.80" y="1946.00" width="21.75" height="37.90" fill="#8a8dc8"/>
<rect x="1561.25" y="1946.00" width="7.45" height="37.90" fill="#6875bb"/>
<rect x="1568.40" y="1946.00" width="28.90" height="37.90" fill="#8a8dc8"/>
<rect x="1597.00" y="1946.00" width="14.60" height="37.90" fill="#a0a1d3"/>
<rect x="1611.30" y="1946.00" width="7.45" height="37.90" fill="#c7c6e5"/>
<rect x="1618.45" y="1946.00" width="7.45" height="37.90" fill="#a0a1d3"/>
<rect x="1625.60" y="1946.00" width="14.60" height="37.90" fill="#b5b5dd"/>
<rect x="1639.90" y="1946.00" width="14.60" height="37.90" fill="#a0a1d3"/>
<rect x="1654.20" y="1946.00" width="7.45" height="37.90" fill="#8a8dc8"/>
<rect x="1661.35" y="1946.00" width="7.45" height="37.90" fill="#6875bb"/>
<rect x="1668.50" y="1946.00" width="7.45" height="37.90" fill="#8a8dc8"/>
<rect x="1675.65" y="1946.00" width="21.75" height="37.90" fill="#a0a1d3"/>
<rect x="1697.10" y="1946.00" width="14.60" height="37.90" fill="#405bac"/>
<rect x="1711.40" y="1946.00" width="21.75" height="37.90" fill="#6875bb"/>
<rect x="1732.85" y="1946.00" width="7.45" height="37.90" fill="#8a8dc8"/>
<rect x="1740.00" y="1946.00" width="21.75" height="37.90" fill="#6875bb"/>
<rect x="1761.45" y="1946.00" width="7.45" height="37.90" fill="#405bac"/>
<rect x="1768.60" y="1946.00" width="7.45" height="37.90" fill="#6875bb"/>
<rect x="1775.75" y="1946.00" width="14.60" height="37.90" fill="#405bac"/>
<rect x="1790.05" y="1946.00" width="7.45" height="37.90" fill="#6875bb"/>
<rect x="1797.20" y="1946.00" width="7.45" height="37.90" fill="#405bac"/>
<rect x="1804.35" y="1946.00" width="36.05" height="37.90" fill="#6875bb"/>
<rect x="1840.10" y="1946.00" width="7.45" height="37.90" fill="#405bac"/>
<rect x="1847.25" y="1946.00" width="14.60" height="37.90" fill="#6875bb"/>
<rect x="1861.55" y="1946.00" width="7.45" height="37.90" fill="#8a8dc8"/>
<rect x="1868.70" y="1946.00" width="7.45" height="37.90" fill="#6875bb"/>
<rect x="1875.85" y="1946.00" width="7.45" height="37.90" fill="#8a8dc8"/>
<rect x="1883.00" y="1946.00" width="28.90" height="37.90" fill="#6875bb"/>
<rect x="1911.60" y="1946.00" width="7.45" height="37.90" fill="#405bac"/>
<rect x="1918.75" y="1946.00" width="21.75" height="37.90" fill="#8a8dc8"/>
<rect x="1940.20" y="1946.00" width="14.60" height="37.90" fill="#6875bb"/>
<rect x="1954.50" y="1946.00" width="7.45" height="37.90" fill="#8a8dc8"/>
<rect x="1961.65" y="1946.00" width="14.60" height="37.90" fill="#6875bb"/>
<rect x="1975.95" y="1946.00" width="7.45" height="37.90" fill="#8a8dc8"/>
<rect x="1983.10" y="1946.00" width="14.60" height="37.90" fill="#6875bb"/>
<rect x="1997.40" y="1946.00" width="14.60" height="37.90" fill="#8a8dc8"/>
<rect x="2011.70" y="1946.00" width="36.05" height="37.90" fill="#6875bb"/>
<rect x="224.50" y="1983.50" width="43.20" height="37.90" fill="#405bac"/>
<rect x="267.40" y="1983.50" width="7.45" height="37.90" fill="#0047a5"/>
<rect x="274.55" y="1983.50" width="21.75" height="37.90" fill="#405bac"/>
<rect x="296.00" y="1983.50" width="7.45" height="37.90" fill="#0047a5"/>
<rect x="303.15" y="1983.50" width="64.65" height="37.90" fill="#405bac"/>
<rect x="367.50" y="1983.50" width="7.45" height="37.90" fill="#0047a5"/>
<rect x="374.65" y="1983.50" width="36.05" height="37.90" fill="#405bac"/>
<rect x="410.40" y="1983.50" width="7.45" height="37.90" fill="#0047a5"/>
<rect x="417.55" y="1983.50" width="7.45" height="37.90" fill="#6875bb"/>
<rect x="424.70" y="1983.50" width="7.45" height="37.90" fill="#405bac"/>
<rect x="431.85" y="1983.50" width="7.45" height="37.90" fill="#8a8dc8"/>
<rect x="439.00" y="1983.50" width="21.75" height="37.90" fill="#405bac"/>
<rect x="460.45" y="1983.50" width="7.45" height="37.90" fill="#6875bb"/>
<rect x="467.60" y="1983.50" width="71.80" height="37.90" fill="#405bac"/>
<rect x="539.10" y="1983.50" width="7.45" height="37.90" fill="#0047a5"/>
<rect x="546.25" y="1983.50" width="7.45" height="37.90" fill="#8a8dc8"/>
<rect x="553.40" y="1983.50" width="7.45" height="37.90" fill="#6875bb"/>
<rect x="560.55" y="1983.50" width="7.45" height="37.90" fill="#8a8dc8"/>
<rect x="567.70" y="1983.50" width="14.60" height="37.90" fill="#6875bb"/>
<rect x="582.00" y="1983.50" width="28.90" height="37.90" fill="#8a8dc8"/>
<rect x="610.60" y="1983.50" width="21.75" height="37.90" fill="#405bac"/>
<rect x="632.05" y="1983.50" width="7.45" height="37.90" fill="#6875bb"/>
<rect x="639.20" y="1983.50" width="7.45" height="37.90" fill="#405bac"/>
<rect x="646.35" y="1983.50" width="14.60" height="37.90" fill="#6875bb"/>
<rect x="660.65" y="1983.50" width="14.60" height="37.90" fill="#405bac"/>
<rect x="674.95" y="1983.50" width="7.45" height="37.90" fill="#8a8dc8"/>
<rect x="682.10" y="1983.50" width="7.45" height="37.90" fill="#6875bb"/>
<rect x="689.25" y="1983.50" width="50.35" height="37.90" fill="#405bac"/>
<rect x="739.30" y="1983.50" width="21.75" height="37.90" fill="#6875bb"/>
<rect x="760.75" y="1983.50" width="7.45" height="37.90" fill="#405bac"/>
<rect x="767.90" y="1983.50" width="28.90" height="37.90" fill="#6875bb"/>
<rect x="810.50" y="1983.50" width="14.60" height="37.90" fill="#c7c6e5"/>
<rect x="824.80" y="1983.50" width="14.60" height="37.90" fill="#b5b5dd"/>
<rect x="839.10" y="1983.50" width="7.45" height="37.90" fill="#c7c6e5"/>
<rect x="846.25" y="1983.50" width="7.45" height="37.90" fill="#f2f2f9"/>
<rect x="853.40" y="1983.50" width="7.45" height="37.90" fill="#c7c6e5"/>
<rect x="860.55" y="1983.50" width="14.60" height="37.90" fill="#d7d6ec"/>
<rect x="874.85" y="1983.50" width="14.60" height="37.90" fill="#c7c6e5"/>
<rect x="889.15" y="1983.50" width="14.60" height="37.90" fill="#d7d6ec"/>
<rect x="903.45" y="1983.50" width="14.60" height="37.90" fill="#405bac"/>
<rect x="917.75" y="1983.50" width="7.45" height="37.90" fill="#6875bb"/>
<rect x="924.90" y="1983.50" width="21.75" height="37.90" fill="#405bac"/>
<rect x="946.35" y="1983.50" width="7.45" height="37.90" fill="#0047a5"/>
<rect x="953.50" y="1983.50" width="7.45" height="37.90" fill="#6875bb"/>
<rect x="960.65" y="1983.50" width="21.75" height="37.90" fill="#405bac"/>
<rect x="982.10" y="1983.50" width="14.60" height="37.90" fill="#6875bb"/>
<rect x="996.40" y="1983.50" width="28.90" height="37.90" fill="#405bac"/>
<rect x="1025.00" y="1983.50" width="28.90" height="37.90" fill="#6875bb"/>
<rect x="1053.60" y="1983.50" width="14.60" height="37.90" fill="#405bac"/>
<rect x="1067.90" y="1983.50" width="7.45" height="37.90" fill="#0047a5"/>
<rect x="1075.05" y="1983.50" width="21.75" height="37.90" fill="#405bac"/>
<rect x="1096.50" y="1983.50" width="7.45" height="37.90" fill="#6875bb"/>
<rect x="1103.65" y="1983.50" width="86.10" height="37.90" fill="#405bac"/>
<rect x="1189.45" y="1983.50" width="7.45" height="37.90" fill="#0047a5"/>
<rect x="1196.60" y="1983.50" width="93.25" height="37.90" fill="#405bac"/>
<rect x="1289.55" y="1983.50" width="7.45" height="37.90" fill="#6875bb"/>
<rect x="1296.70" y="1983.50" width="14.60" height="37.90" fill="#405bac"/>
<rect x="1311.00" y="1983.50" width="7.45" height="37.90" fill="#6875bb"/>
<rect x="1318.15" y="1983.50" width="7.45" height="37.90" fill="#0047a5"/>
<rect x="1325.30" y="1983.50" width="14.60" height="37.90" fill="#405bac"/>
<rect x="1339.60" y="1983.50" width="14.60" height="37.90" fill="#0047a5"/>
<rect x="1353.90" y="1983.50" width="7.45" height="37.90" fill="#405bac"/>
<rect x="1361.05" y="1983.50" width="7.45" height="37.90" fill="#6875bb"/>
<rect x="1368.20" y="1983.50" width="36.05" height="37.90" fill="#405bac"/>
<rect x="1403.95" y="1983.50" width="7.45" height="37.90" fill="#6875bb"/>
<rect x="1411.10" y="1983.50" width="21.75" height="37.90" fill="#405bac"/>
<rect x="1432.55" y="1983.50" width="7.45" height="37.90" fill="#6875bb"/>
<rect x="1439.70" y="1983.50" width="7.45" height="37.90" fill="#b5b5dd"/>
<rect x="1446.85" y="1983.50" width="7.45" height="37.90" fill="#a0a1d3"/>
<rect x="1454.00" y="1983.50" width="7.45" height="37.90" fill="#8a8dc8"/>
<rect x="1461.15" y="1983.50" width="7.45" height="37.90" fill="#a0a1d3"/>
<rect x="1468.30" y="1983.50" width="7.45" height="37.90" fill="#8a8dc8"/>
<rect x="1475.45" y="1983.50" width="7.45" height="37.90" fill="#a0a1d3"/>
<rect x="1482.60" y="1983.50" width="7.45" height="37.90" fill="#8a8dc8"/>
<rect x="1489.75" y="1983.50" width="7.45" height="37.90" fill="#a0a1d3"/>
<rect x="1496.90" y="1983.50" width="7.45" height="37.90" fill="#8a8dc8"/>
<rect x="1504.05" y="1983.50" width="7.45" height="37.90" fill="#a0a1d3"/>
<rect x="1511.20" y="1983.50" width="7.45" height="37.90" fill="#c7c6e5"/>
<rect x="1518.35" y="1983.50" width="14.60" height="37.90" fill="#a0a1d3"/>
<rect x="1532.65" y="1983.50" width="7.45" height="37.90" fill="#b5b5dd"/>
<rect x="1539.80" y="1983.50" width="14.60" height="37.90" fill="#8a8dc8"/>
<rect x="1554.10" y="1983.50" width="7.45" height="37.90" fill="#a0a1d3"/>
<rect x="1561.25" y="1983.50" width="7.45" height="37.90" fill="#6875bb"/>
<rect x="1568.40" y="1983.50" width="28.90" height="37.90" fill="#8a8dc8"/>
<rect x="1597.00" y="1983.50" width="21.75" height="37.90" fill="#a0a1d3"/>
<rect x="1618.45" y="1983.50" width="14.60" height="37.90" fill="#b5b5dd"/>
<rect x="1632.75" y="1983.50" width="7.45" height="37.90" fill="#c7c6e5"/>
<rect x="1639.90" y="1983.50" width="7.45" height="37.90" fill="#b5b5dd"/>
<rect x="1647.05" y="1983.50" width="7.45" height="37.90" fill="#a0a1d3"/>
<rect x="1654.20" y="1983.50" width="21.75" height="37.90" fill="#8a8dc8"/>
<rect x="1675.65" y="1983.50" width="7.45" height="37.90" fill="#a0a1d3"/>
<rect x="1682.80" y="1983.50" width="14.60" height="37.90" fill="#8a8dc8"/>
<rect x="1697.10" y="1983.50" width="7.45" height="37.90" fill="#405bac"/>
<rect x="1704.25" y="1983.50" width="7.45" height="37.90" fill="#8a8dc8"/>
<rect x="1711.40" y="1983.50" width="7.45" height="37.90" fill="#6875bb"/>
<rect x="1718.55" y="1983.50" width="7.45" height="37.90" fill="#8a8dc8"/>
<rect x="1725.70" y="1983.50" width="7.45" height="37.90" fill="#6875bb"/>
<rect x="1732.85" y="1983.50" width="7.45" height="37.90" fill="#8a8dc8"/>
<rect x="1740.00" y="1983.50" width="21.75" height="37.90" fill="#6875bb"/>
<rect x="1761.45" y="1983.50" width="7.45" height="37.90" fill="#405bac"/>
<rect x="1768.60" y="1983.50" width="21.75" height="37.90" fill="#6875bb"/>
<rect x="1790.05" y="1983.50" width="7.45" height="37.90" fill="#405bac"/>
<rect x="1797.20" y="1983.50" width="7.45" height="37.90" fill="#0047a5"/>
<rect x="1804.35" y="1983.50" width="28.90" height="37.90" fill="#6875bb"/>
<rect x="1832.95" y="1983.50" width="7.45" height="37.90" fill="#405bac"/>
<rect x="1840.10" y="1983.50" width="14.60" height="37.90" fill="#6875bb"/>
<rect x="1854.40" y="1983.50" width="7.45" height="37.90" fill="#405bac"/>
<rect x="1861.55" y="1983.50" width="50.35" height="37.90" fill="#6875bb"/>
<rect x="1911.60" y="1983.50" width="28.90" height="37.90" fill="#8a8dc8"/>
<rect x="1940.20" y="1983.50" width="7.45" height="37.90" fill="#6875bb"/>
<rect x="1947.35" y="1983.50" width="7.45" height="37.90" fill="#8a8dc8"/>
<rect x="1954.50" y="1983.50" width="21.75" height="37.90" fill="#6875bb"/>
<rect x="1975.95" y="1983.50" width="7.45" height="37.90" fill="#8a8dc8"/>
<rect x="1983.10" y="1983.50" width="14.60" height="37.90" fill="#6875bb"/>
<rect x="1997.40" y="1983.50" width="21.75" height="37.90" fill="#8a8dc8"/>
<rect x="2018.85" y="1983.50" width="28.90" height="37.90" fill="#6875bb"/>
<rect x="224.50" y="2021.00" width="43.20" height="37.90" fill="#405bac"/>
<rect x="267.40" y="2021.00" width="7.45" height="37.90" fill="#0047a5"/>
<rect x="274.55" y="2021.00" width="93.25" height="37.90" fill="#405bac"/>
<rect x="367.50" y="2021.00" width="7.45" height="37.90" fill="#0047a5"/>
<rect x="374.65" y="2021.00" width="57.50" height="37.90" fill="#405bac"/>
<rect x="431.85" y="2021.00" width="7.45" height="37.90" fill="#8a8dc8"/>
<rect x="439.00" y="2021.00" width="21.75" height="37.90" fill="#6875bb"/>
<rect x="460.45" y="2021.00" width="78.95" height="37.90" fill="#405bac"/>
<rect x="539.10" y="2021.00" width="7.45" height="37.90" fill="#0047a5"/>
<rect x="546.25" y="2021.00" width="7.45" height="37.90" fill="#8a8dc8"/>
<rect x="553.40" y="2021.00" width="7.45" height="37.90" fill="#405bac"/>
<rect x="560.55" y="2021.00" width="14.60" height="37.90" fill="#6875bb"/>
<rect x="574.85" y="2021.00" width="7.45" height="37.90" fill="#405bac"/>
<rect x="582.00" y="2021.00" width="28.90" height="37.90" fill="#6875bb"/>
<rect x="610.60" y="2021.00" width="28.90" height="37.90" fill="#405bac"/>
<rect x="639.20" y="2021.00" width="7.45" height="37.90" fill="#6875bb"/>
<rect x="646.35" y="2021.00" width="7.45" height="37.90" fill="#405bac"/>
<rect x="653.50" y="2021.00" width="7.45" height="37.90" fill="#6875bb"/>
<rect x="660.65" y="2021.00" width="21.75" height="37.90" fill="#405bac"/>
<rect x="682.10" y="2021.00" width="7.45" height="37.90" fill="#6875bb"/>
<rect x="689.25" y="2021.00" width="28.90" height="37.90" fill="#405bac"/>
<rect x="717.85" y="2021.00" width="7.45" height="37.90" fill="#6875bb"/>
<rect x="725.00" y="2021.00" width="7.45" height="37.90" fill="#405bac"/>
<rect x="732.15" y="2021.00" width="7.45" height="37.90" fill="#6875bb"/>
<rect x="739.30" y="2021.00" width="7.45" height="37.90" fill="#405bac"/>
<rect x="746.45" y="2021.00" width="14.60" height="37.90" fill="#6875bb"/>
<rect x="760.75" y="2021.00" width="14.60" height="37.90" fill="#405bac"/>
<rect x="775.05" y="2021.00" width="7.45" height="37.90" fill="#6875bb"/>
<rect x="782.20" y="2021.00" width="7.45" height="37.90" fill="#405bac"/>
<rect x="789.35" y="2021.00" width="7.45" height="37.90" fill="#6875bb"/>
<rect x="810.50" y="2021.00" width="7.45" height="37.90" fill="#d7d6ec"/>
<rect x="817.65" y="2021.00" width="7.45" height="37.90" fill="#f2f2f9"/>
<rect x="824.80" y="2021.00" width="7.45" height="37.90" fill="#b5b5dd"/>
<rect x="831.95" y="2021.00" width="14.60" height="37.90" fill="#d7d6ec"/>
<rect x="846.25" y="2021.00" width="7.45" height="37.90" fill="#f2f2f9"/>
<rect x="853.40" y="2021.00" width="28.90" height="37.90" fill="#d7d6ec"/>
<rect x="882.00" y="2021.00" width="7.45" height="37.90" fill="#b5b5dd"/>
<rect x="889.15" y="2021.00" width="14.60" height="37.90" fill="#c7c6e5"/>
<rect x="903.45" y="2021.00" width="14.60" height="37.90" fill="#405bac"/>
<rect x="917.75" y="2021.00" width="7.45" height="37.90" fill="#6875bb"/>
<rect x="924.90" y="2021.00" width="21.75" height="37.90" fill="#405bac"/>
<rect x="946.35" y="2021.00" width="7.45" height="37.90" fill="#0047a5"/>
<rect x="953.50" y="2021.00" width="7.45" height="37.90" fill="#6875bb"/>
<rect x="960.65" y="2021.00" width="64.65" height="37.90" fill="#405bac"/>
<rect x="1025.00" y="2021.00" width="14.60" height="37.90" fill="#6875bb"/>
<rect x="1039.30" y="2021.00" width="7.45" height="37.90" fill="#405bac"/>
<rect x="1046.45" y="2021.00" width="7.45" height="37.90" fill="#6875bb"/>
<rect x="1053.60" y="2021.00" width="14.60" height="37.90" fill="#405bac"/>
<rect x="1067.90" y="2021.00" width="7.45" height="37.90" fill="#0047a5"/>
<rect x="1075.05" y="2021.00" width="14.60" height="37.90" fill="#405bac"/>
<rect x="1089.35" y="2021.00" width="7.45" height="37.90" fill="#6875bb"/>
<rect x="1096.50" y="2021.00" width="78.95" height="37.90" fill="#405bac"/>
<rect x="1175.15" y="2021.00" width="7.45" height="37.90" fill="#6875bb"/>
<rect x="1182.30" y="2021.00" width="7.45" height="37.90" fill="#405bac"/>
<rect x="1189.45" y="2021.00" width="7.45" height="37.90" fill="#0047a5"/>
<rect x="1196.60" y="2021.00" width="78.95" height="37.90" fill="#405bac"/>
<rect x="1275.25" y="2021.00" width="14.60" height="37.90" fill="#6875bb"/>
<rect x="1289.55" y="2021.00" width="7.45" height="37.90" fill="#405bac"/>
<rect x="1296.70" y="2021.00" width="7.45" height="37.90" fill="#6875bb"/>
<rect x="1303.85" y="2021.00" width="14.60" height="37.90" fill="#405bac"/>
<rect x="1318.15" y="2021.00" width="7.45" height="37.90" fill="#0047a5"/>
<rect x="1325.30" y="2021.00" width="28.90" height="37.90" fill="#405bac"/>
<rect x="1353.90" y="2021.00" width="7.45" height="37.90" fill="#6875bb"/>
<rect x="1361.05" y="2021.00" width="7.45" height="37.90" fill="#8a8dc8"/>
<rect x="1368.20" y="2021.00" width="36.05" height="37.90" fill="#405bac"/>
<rect x="1403.95" y="2021.00" width="7.45" height="37.90" fill="#6875bb"/>
<rect x="1411.10" y="2021.00" width="21.75" height="37.90" fill="#405bac"/>
<rect x="1432.55" y="2021.00" width="7.45" height="37.90" fill="#ffffff"/>
<rect x="1439.70" y="2021.00" width="7.45" height="37.90" fill="#b5b5dd"/>
<rect x="1446.85" y="2021.00" width="7.45" height="37.90" fill="#a0a1d3"/>
<rect x="1454.00" y="2021.00" width="7.45" height="37.90" fill="#8a8dc8"/>
<rect x="1461.15" y="2021.00" width="7.45" height="37.90" fill="#a0a1d3"/>
<rect x="1468.30" y="2021.00" width="7.45" height="37.90" fill="#8a8dc8"/>
<rect x="1475.45" y="2021.00" width="7.45" height="37.90" fill="#a0a1d3"/>
<rect x="1482.60" y="2021.00" width="28.90" height="37.90" fill="#8a8dc8"/>
<rect x="1511.20" y="2021.00" width="21.75" height="37.90" fill="#a0a1d3"/>
<rect x="1532.65" y="2021.00" width="14.60" height="37.90" fill="#8a8dc8"/>
<rect x="1546.95" y="2021.00" width="7.45" height="37.90" fill="#6875bb"/>
<rect x="1554.10" y="2021.00" width="36.05" height="37.90" fill="#8a8dc8"/>
<rect x="1589.85" y="2021.00" width="7.45" height="37.90" fill="#b5b5dd"/>
<rect x="1597.00" y="2021.00" width="28.90" height="37.90" fill="#a0a1d3"/>
<rect x="1625.60" y="2021.00" width="7.45" height="37.90" fill="#8a8dc8"/>
<rect x="1632.75" y="2021.00" width="21.75" height="37.90" fill="#a0a1d3"/>
<rect x="1654.20" y="2021.00" width="7.45" height="37.90" fill="#8a8dc8"/>
<rect x="1661.35" y="2021.00" width="7.45" height="37.90" fill="#6875bb"/>
<rect x="1668.50" y="2021.00" width="28.90" height="37.90" fill="#8a8dc8"/>
<rect x="1697.10" y="2021.00" width="7.45" height="37.90" fill="#405bac"/>
<rect x="1704.25" y="2021.00" width="21.75" height="37.90" fill="#6875bb"/>
<rect x="1725.70" y="2021.00" width="7.45" height="37.90" fill="#405bac"/>
<rect x="1732.85" y="2021.00" width="7.45" height="37.90" fill="#8a8dc8"/>
<rect x="1740.00" y="2021.00" width="7.45" height="37.90" fill="#6875bb"/>
<rect x="1747.15" y="2021.00" width="21.75" height="37.90" fill="#405bac"/>
<rect x="1768.60" y="2021.00" width="7.45" height="37.90" fill="#6875bb"/>
<rect x="1775.75" y="2021.00" width="7.45" height="37.90" fill="#405bac"/>
<rect x="1782.90" y="2021.00" width="7.45" height="37.90" fill="#6875bb"/>
<rect x="1790.05" y="2021.00" width="7.45" height="37.90" fill="#405bac"/>
<rect x="1797.20" y="2021.00" width="7.45" height="37.90" fill="#0047a5"/>
<rect x="1804.35" y="2021.00" width="28.90" height="37.90" fill="#6875bb"/>
<rect x="1832.95" y="2021.00" width="7.45" height="37.90" fill="#405bac"/>
<rect x="1840.10" y="2021.00" width="14.60" height="37.90" fill="#6875bb"/>
<rect x="1854.40" y="2021.00" width="7.45" height="37.90" fill="#405bac"/>
<rect x="1861.55" y="2021.00" width="71.80" height="37.90" fill="#6875bb"/>
<rect x="1933.05" y="2021.00" width="7.45" height="37.90" fill="#8a8dc8"/>
<rect x="1940.20" y="2021.00" width="36.05" height="37.90" fill="#6875bb"/>
<rect x="1975.95" y="2021.00" width="7.45" height="37.90" fill="#8a8dc8"/>
<rect x="1983.10" y="2021.00" width="14.60" height="37.90" fill="#6875bb"/>
<rect x="1997.40" y="2021.00" width="7.45" height="37.90" fill="#8a8dc8"/>
<rect x="2004.55" y="2021.00" width="7.45" height="37.90" fill="#6875bb"/>
<rect x="2011.70" y="2021.00" width="7.45" height="37.90" fill="#8a8dc8"/>
<rect x="2018.85" y="2021.00" width="14.60" height="37.90" fill="#6875bb"/>
<rect x="2033.15" y="2021.00" width="7.45" height="37.90" fill="#405bac"/>
<rect x="2040.30" y="2021.00" width="7.45" height="37.90" fill="#6875bb"/>
<rect x="224.50" y="2058.50" width="207.65" height="37.90" fill="#405bac"/>
<rect x="431.85" y="2058.50" width="14.60" height="37.90" fill="#6875bb"/>
<rect x="446.15" y="2058.50" width="7.45" height="37.90" fill="#405bac"/>
<rect x="453.30" y="2058.50" width="7.45" height="37.90" fill="#6875bb"/>
<rect x="460.45" y="2058.50" width="64.65" height="37.90" fill="#405bac"/>
<rect x="524.80" y="2058.50" width="7.45" height="37.90" fill="#6875bb"/>
<rect x="531.95" y="2058.50" width="14.60" height="37.90" fill="#405bac"/>
<rect x="546.25" y="2058.50" width="7.45" height="37.90" fill="#d7d6ec"/>
<rect x="553.40" y="2058.50" width="7.45" height="37.90" fill="#405bac"/>
<rect x="560.55" y="2058.50" width="14.60" height="37.90" fill="#6875bb"/>
<rect x="574.85" y="2058.50" width="14.60" height="37.90" fill="#405bac"/>
<rect x="589.15" y="2058.50" width="21.75" height="37.90" fill="#6875bb"/>
<rect x="610.60" y="2058.50" width="7.45" height="37.90" fill="#405bac"/>
<rect x="617.75" y="2058.50" width="7.45" height="37.90" fill="#6875bb"/>
<rect x="624.90" y="2058.50" width="14.60" height="37.90" fill="#405bac"/>
<rect x="639.20" y="2058.50" width="7.45" height="37.90" fill="#6875bb"/>
<rect x="646.35" y="2058.50" width="36.05" height="37.90" fill="#405bac"/>
<rect x="682.10" y="2058.50" width="7.45" height="37.90" fill="#6875bb"/>
<rect x="689.25" y="2058.50" width="64.65" height="37.90" fill="#405bac"/>
<rect x="753.60" y="2058.50" width="7.45" height="37.90" fill="#6875bb"/>
<rect x="760.75" y="2058.50" width="28.90" height="37.90" fill="#405bac"/>
<rect x="789.35" y="2058.50" width="7.45" height="37.90" fill="#6875bb"/>
<rect x="810.50" y="2058.50" width="7.45" height="37.90" fill="#f2f2f9"/>
<rect x="817.65" y="2058.50" width="7.45" height="37.90" fill="#e4e4f2"/>
<rect x="824.80" y="2058.50" width="7.45" height="37.90" fill="#f2f2f9"/>
<rect x="831.95" y="2058.50" width="14.60" height="37.90" fill="#d7d6ec"/>
<rect x="846.25" y="2058.50" width="7.45" height="37.90" fill="#f2f2f9"/>
<rect x="853.40" y="2058.50" width="7.45" height="37.90" fill="#a0a1d3"/>
<rect x="860.55" y="2058.50" width="7.45" height="37.90" fill="#8a8dc8"/>
<rect x="867.70" y="2058.50" width="14.60" height="37.90" fill="#c7c6e5"/>
<rect x="882.00" y="2058.50" width="7.45" height="37.90" fill="#b5b5dd"/>
<rect x="889.15" y="2058.50" width="7.45" height="37.90" fill="#c7c6e5"/>
<rect x="896.30" y="2058.50" width="7.45" height="37.90" fill="#d7d6ec"/>
<rect x="903.45" y="2058.50" width="50.35" height="37.90" fill="#405bac"/>
<rect x="953.50" y="2058.50" width="14.60" height="37.90" fill="#6875bb"/>
<rect x="967.80" y="2058.50" width="121.85" height="37.90" fill="#405bac"/>
<rect x="1089.35" y="2058.50" width="7.45" height="37.90" fill="#6875bb"/>
<rect x="1096.50" y="2058.50" width="71.80" height="37.90" fill="#405bac"/>
<rect x="1168.00" y="2058.50" width="14.60" height="37.90" fill="#6875bb"/>
<rect x="1182.30" y="2058.50" width="93.25" height="37.90" fill="#405bac"/>
<rect x="1275.25" y="2058.50" width="14.60" height="37.90" fill="#6875bb"/>
<rect x="1289.55" y="2058.50" width="7.45" height="37.90" fill="#405bac"/>
<rect x="1296.70" y="2058.50" width="21.75" height="37.90" fill="#6875bb"/>
<rect x="1318.15" y="2058.50" width="36.05" height="37.90" fill="#405bac"/>
<rect x="1353.90" y="2058.50" width="14.60" height="37.90" fill="#6875bb"/>
<rect x="1368.20" y="2058.50" width="64.65" height="37.90" fill="#405bac"/>
<rect x="1432.55" y="2058.50" width="7.45" height="37.90" fill="#ffffff"/>
<rect x="1439.70" y="2058.50" width="7.45" height="37.90" fill="#b5b5dd"/>
<rect x="1446.85" y="2058.50" width="7.45" height="37.90" fill="#c7c6e5"/>
<rect x="1454.00" y="2058.50" width="7.45" height="37.90" fill="#b5b5dd"/>
<rect x="1461.15" y="2058.50" width="7.45" height="37.90" fill="#6875bb"/>
<rect x="1468.30" y="2058.50" width="7.45" height="37.90" fill="#d7d6ec"/>
<rect x="1475.45" y="2058.50" width="14.60" height="37.90" fill="#8a8dc8"/>
<rect x="1489.75" y="2058.50" width="21.75" height="37.90" fill="#6875bb"/>
<rect x="1511.20" y="2058.50" width="7.45" height="37.90" fill="#8a8dc8"/>
<rect x="1518.35" y="2058.50" width="14.60" height="37.90" fill="#a0a1d3"/>
<rect x="1532.65" y="2058.50" width="14.60" height="37.90" fill="#8a8dc8"/>
<rect x="1546.95" y="2058.50" width="7.45" height="37.90" fill="#6875bb"/>
<rect x="1554.10" y="2058.50" width="36.05" height="37.90" fill="#8a8dc8"/>
<rect x="1589.85" y="2058.50" width="7.45" height="37.90" fill="#b5b5dd"/>
<rect x="1597.00" y="2058.50" width="28.90" height="37.90" fill="#a0a1d3"/>
<rect x="1625.60" y="2058.50" width="14.60" height="37.90" fill="#8a8dc8"/>
<rect x="1639.90" y="2058.50" width="14.60" height="37.90" fill="#a0a1d3"/>
<rect x="1654.20" y="2058.50" width="7.45" height="37.90" fill="#8a8dc8"/>
<rect x="1661.35" y="2058.50" width="7.45" height="37.90" fill="#6875bb"/>
<rect x="1668.50" y="2058.50" width="28.90" height="37.90" fill="#8a8dc8"/>
<rect x="1697.10" y="2058.50" width="7.45" height="37.90" fill="#405bac"/>
<rect x="1704.25" y="2058.50" width="14.60" height="37.90" fill="#6875bb"/>
<rect x="1718.55" y="2058.50" width="21.75" height="37.90" fill="#405bac"/>
<rect x="1740.00" y="2058.50" width="7.45" height="37.90" fill="#6875bb"/>
<rect x="1747.15" y="2058.50" width="57.50" height="37.90" fill="#405bac"/>
<rect x="1804.35" y="2058.50" width="28.90" height="37.90" fill="#6875bb"/>
<rect x="1832.95" y="2058.50" width="7.45" height="37.90" fill="#8a8dc8"/>
<rect x="1840.10" y="2058.50" width="93.25" height="37.90" fill="#6875bb"/>
<rect x="1933.05" y="2058.50" width="7.45" height="37.90" fill="#8a8dc8"/>
<rect x="1940.20" y="2058.50" width="36.05" height="37.90" fill="#6875bb"/>
<rect x="1975.95" y="2058.50" width="7.45" height="37.90" fill="#8a8dc8"/>
<rect x="1983.10" y="2058.50" width="28.90" height="37.90" fill="#6875bb"/>
<rect x="2011.70" y="2058.50" width="28.90" height="37.90" fill="#405bac"/>
<rect x="2040.30" y="2058.50" width="7.45" height="37.90" fill="#6875bb"/>
<rect x="224.50" y="2096.00" width="7.45" height="37.90" fill="#0047a5"/>
<rect x="231.65" y="2096.00" width="64.65" height="37.90" fill="#405bac"/>
<rect x="296.00" y="2096.00" width="7.45" height="37.90" fill="#0047a5"/>
<rect x="303.15" y="2096.00" width="28.90" height="37.90" fill="#405bac"/>
<rect x="331.75" y="2096.00" width="7.45" height="37.90" fill="#6875bb"/>
<rect x="338.90" y="2096.00" width="28.90" height="37.90" fill="#405bac"/>
<rect x="367.50" y="2096.00" width="7.45" height="37.90" fill="#0047a5"/>
<rect x="374.65" y="2096.00" width="21.75" height="37.90" fill="#405bac"/>
<rect x="396.10" y="2096.00" width="7.45" height="37.90" fill="#6875bb"/>
<rect x="403.25" y="2096.00" width="7.45" height="37.90" fill="#0047a5"/>
<rect x="410.40" y="2096.00" width="7.45" height="37.90" fill="#405bac"/>
<rect x="417.55" y="2096.00" width="7.45" height="37.90" fill="#6875bb"/>
<rect x="424.70" y="2096.00" width="14.60" height="37.90" fill="#405bac"/>
<rect x="439.00" y="2096.00" width="7.45" height="37.90" fill="#0047a5"/>
<rect x="446.15" y="2096.00" width="28.90" height="37.90" fill="#405bac"/>
<rect x="474.75" y="2096.00" width="7.45" height="37.90" fill="#0047a5"/>
<rect x="481.90" y="2096.00" width="78.95" height="37.90" fill="#405bac"/>
<rect x="560.55" y="2096.00" width="7.45" height="37.90" fill="#6875bb"/>
<rect x="567.70" y="2096.00" width="43.20" height="37.90" fill="#405bac"/>
<rect x="610.60" y="2096.00" width="7.45" height="37.90" fill="#6875bb"/>
<rect x="617.75" y="2096.00" width="21.75" height="37.90" fill="#405bac"/>
<rect x="639.20" y="2096.00" width="7.45" height="37.90" fill="#6875bb"/>
<rect x="646.35" y="2096.00" width="28.90" height="37.90" fill="#405bac"/>
<rect x="674.95" y="2096.00" width="7.45" height="37.90" fill="#6875bb"/>
<rect x="682.10" y="2096.00" width="50.35" height="37.90" fill="#405bac"/>
<rect x="732.15" y="2096.00" width="7.45" height="37.90" fill="#0047a5"/>
<rect x="739.30" y="2096.00" width="50.35" height="37.90" fill="#405bac"/>
<rect x="789.35" y="2096.00" width="7.45" height="37.90" fill="#6875bb"/>
<rect x="810.50" y="2096.00" width="7.45" height="37.90" fill="#f2f2f9"/>
<rect x="817.65" y="2096.00" width="7.45" height="37.90" fill="#6875bb"/>
<rect x="824.80" y="2096.00" width="7.45" height="37.90" fill="#f2f2f9"/>
<rect x="831.95" y="2096.00" width="21.75" height="37.90" fill="#6875bb"/>
<rect x="853.40" y="2096.00" width="7.45" height="37.90" fill="#a0a1d3"/>
<rect x="860.55" y="2096.00" width="21.75" height="37.90" fill="#6875bb"/>
<rect x="882.00" y="2096.00" width="7.45" height="37.90" fill="#405bac"/>
<rect x="889.15" y="2096.00" width="14.60" height="37.90" fill="#6875bb"/>
<rect x="903.45" y="2096.00" width="50.35" height="37.90" fill="#405bac"/>
<rect x="953.50" y="2096.00" width="14.60" height="37.90" fill="#8a8dc8"/>
<rect x="967.80" y="2096.00" width="7.45" height="37.90" fill="#405bac"/>
<rect x="974.95" y="2096.00" width="7.45" height="37.90" fill="#f2f2f9"/>
<rect x="982.10" y="2096.00" width="7.45" height="37.90" fill="#6875bb"/>
<rect x="989.25" y="2096.00" width="7.45" height="37.90" fill="#405bac"/>
<rect x="996.40" y="2096.00" width="7.45" height="37.90" fill="#f2f2f9"/>
<rect x="1003.55" y="2096.00" width="36.05" height="37.90" fill="#405bac"/>
<rect x="1039.30" y="2096.00" width="7.45" height="37.90" fill="#6875bb"/>
<rect x="1046.45" y="2096.00" width="50.35" height="37.90" fill="#405bac"/>
<rect x="1096.50" y="2096.00" width="7.45" height="37.90" fill="#6875bb"/>
<rect x="1103.65" y="2096.00" width="28.90" height="37.90" fill="#405bac"/>
<rect x="1132.25" y="2096.00" width="21.75" height="37.90" fill="#6875bb"/>
<rect x="1153.70" y="2096.00" width="7.45" height="37.90" fill="#405bac"/>
<rect x="1160.85" y="2096.00" width="28.90" height="37.90" fill="#6875bb"/>
<rect x="1189.45" y="2096.00" width="43.20" height="37.90" fill="#405bac"/>
<rect x="1232.35" y="2096.00" width="7.45" height="37.90" fill="#6875bb"/>
<rect x="1239.50" y="2096.00" width="28.90" height="37.90" fill="#405bac"/>
<rect x="1268.10" y="2096.00" width="36.05" height="37.90" fill="#6875bb"/>
<rect x="1303.85" y="2096.00" width="50.35" height="37.90" fill="#405bac"/>
<rect x="1353.90" y="2096.00" width="14.60" height="37.90" fill="#6875bb"/>
<rect x="1368.20" y="2096.00" width="7.45" height="37.90" fill="#405bac"/>
<rect x="1375.35" y="2096.00" width="7.45" height="37.90" fill="#6875bb"/>
<rect x="1382.50" y="2096.00" width="7.45" height="37.90" fill="#405bac"/>
<rect x="1389.65" y="2096.00" width="7.45" height="37.90" fill="#6875bb"/>
<rect x="1396.80" y="2096.00" width="43.20" height="37.90" fill="#405bac"/>
<rect x="1439.70" y="2096.00" width="7.45" height="37.90" fill="#6875bb"/>
<rect x="1446.85" y="2096.00" width="7.45" height="37.90" fill="#405bac"/>
<rect x="1454.00" y="2096.00" width="21.75" height="37.90" fill="#6875bb"/>
<rect x="1475.45" y="2096.00" width="14.60" height="37.90" fill="#8a8dc8"/>
<rect x="1489.75" y="2096.00" width="21.75" height="37.90" fill="#6875bb"/>
<rect x="1511.20" y="2096.00" width="7.45" height="37.90" fill="#8a8dc8"/>
<rect x="1518.35" y="2096.00" width="21.75" height="37.90" fill="#a0a1d3"/>
<rect x="1539.80" y="2096.00" width="21.75" height="37.90" fill="#6875bb"/>
<rect x="1561.25" y="2096.00" width="7.45" height="37.90" fill="#405bac"/>
<rect x="1568.40" y="2096.00" width="121.85" height="37.90" fill="#6875bb"/>
<rect x="1689.95" y="2096.00" width="7.45" height="37.90" fill="#8a8dc8"/>
<rect x="1697.10" y="2096.00" width="7.45" height="37.90" fill="#6875bb"/>
<rect x="1704.25" y="2096.00" width="21.75" height="37.90" fill="#405bac"/>
<rect x="1725.70" y="2096.00" width="7.45" height="37.90" fill="#6875bb"/>
<rect x="1732.85" y="2096.00" width="7.45" height="37.90" fill="#405bac"/>
<rect x="1740.00" y="2096.00" width="14.60" height="37.90" fill="#6875bb"/>
<rect x="1754.30" y="2096.00" width="57.50" height="37.90" fill="#405bac"/>
<rect x="1811.50" y="2096.00" width="21.75" height="37.90" fill="#6875bb"/>
<rect x="1832.95" y="2096.00" width="7.45" height="37.90" fill="#405bac"/>
<rect x="1840.10" y="2096.00" width="14.60" height="37.90" fill="#6875bb"/>
<rect x="1854.40" y="2096.00" width="7.45" height="37.90" fill="#8a8dc8"/>
<rect x="1861.55" y="2096.00" width="57.50" height="37.90" fill="#6875bb"/>
<rect x="1918.75" y="2096.00" width="7.45" height="37.90" fill="#405bac"/>
<rect x="1925.90" y="2096.00" width="50.35" height="37.90" fill="#6875bb"/>
<rect x="1975.95" y="2096.00" width="7.45" height="37.90" fill="#8a8dc8"/>
<rect x="1983.10" y="2096.00" width="28.90" height="37.90" fill="#6875bb"/>
<rect x="2011.70" y="2096.00" width="21.75" height="37.90" fill="#405bac"/>
<rect x="2033.15" y="2096.00" width="14.60" height="37.90" fill="#6875bb"/>
<rect x="224.50" y="2133.50" width="78.95" height="37.90" fill="#0047a5"/>
<rect x="303.15" y="2133.50" width="7.45" height="37.90" fill="#405bac"/>
<rect x="310.30" y="2133.50" width="100.40" height="37.90" fill="#0047a5"/>
<rect x="410.40" y="2133.50" width="7.45" height="37.90" fill="#405bac"/>
<rect x="417.55" y="2133.50" width="14.60" height="37.90" fill="#0047a5"/>
<rect x="431.85" y="2133.50" width="7.45" height="37.90" fill="#405bac"/>
<rect x="439.00" y="2133.50" width="57.50" height="37.90" fill="#0047a5"/>
<rect x="496.20" y="2133.50" width="14.60" height="37.90" fill="#405bac"/>
<rect x="510.50" y="2133.50" width="36.05" height="37.90" fill="#0047a5"/>
<rect x="546.25" y="2133.50" width="64.65" height="37.90" fill="#405bac"/>
<rect x="610.60" y="2133.50" width="14.60" height="37.90" fill="#0047a5"/>
<rect x="624.90" y="2133.50" width="14.60" height="37.90" fill="#405bac"/>
<rect x="639.20" y="2133.50" width="36.05" height="37.90" fill="#0047a5"/>
<rect x="674.95" y="2133.50" width="14.60" height="37.90" fill="#405bac"/>
<rect x="689.25" y="2133.50" width="21.75" height="37.90" fill="#0047a5"/>
<rect x="710.70" y="2133.50" width="14.60" height="37.90" fill="#405bac"/>
<rect x="725.00" y="2133.50" width="14.60" height="37.90" fill="#0047a5"/>
<rect x="739.30" y="2133.50" width="21.75" height="37.90" fill="#405bac"/>
<rect x="760.75" y="2133.50" width="14.60" height="37.90" fill="#0047a5"/>
<rect x="775.05" y="2133.50" width="7.45" height="37.90" fill="#405bac"/>
<rect x="782.20" y="2133.50" width="7.45" height="37.90" fill="#0047a5"/>
<rect x="789.35" y="2133.50" width="7.45" height="37.90" fill="#405bac"/>
<rect x="810.50" y="2133.50" width="14.60" height="37.90" fill="#6875bb"/>
<rect x="824.80" y="2133.50" width="7.45" height="37.90" fill="#405bac"/>
<rect x="831.95" y="2133.50" width="21.75" height="37.90" fill="#6875bb"/>
<rect x="853.40" y="2133.50" width="7.45" height="37.90" fill="#a0a1d3"/>
<rect x="860.55" y="2133.50" width="21.75" height="37.90" fill="#6875bb"/>
<rect x="882.00" y="2133.50" width="7.45" height="37.90" fill="#405bac"/>
<rect x="889.15" y="2133.50" width="14.60" height="37.90" fill="#6875bb"/>
<rect x="903.45" y="2133.50" width="7.45" height="37.90" fill="#405bac"/>
<rect x="910.60" y="2133.50" width="14.60" height="37.90" fill="#6875bb"/>
<rect x="924.90" y="2133.50" width="14.60" height="37.90" fill="#405bac"/>
<rect x="939.20" y="2133.50" width="7.45" height="37.90" fill="#6875bb"/>
<rect x="946.35" y="2133.50" width="7.45" height="37.90" fill="#405bac"/>
<rect x="953.50" y="2133.50" width="7.45" height="37.90" fill="#a0a1d3"/>
<rect x="960.65" y="2133.50" width="7.45" height="37.90" fill="#8a8dc8"/>
<rect x="967.80" y="2133.50" width="7.45" height="37.90" fill="#405bac"/>
<rect x="974.95" y="2133.50" width="7.45" height="37.90" fill="#f2f2f9"/>
<rect x="982.10" y="2133.50" width="14.60" height="37.90" fill="#6875bb"/>
<rect x="996.40" y="2133.50" width="7.45" height="37.90" fill="#f2f2f9"/>
<rect x="1003.55" y="2133.50" width="14.60" height="37.90" fill="#405bac"/>
<rect x="1017.85" y="2133.50" width="7.45" height="37.90" fill="#6875bb"/>
<rect x="1025.00" y="2133.50" width="7.45" height="37.90" fill="#8a8dc8"/>
<rect x="1032.15" y="2133.50" width="21.75" height="37.90" fill="#6875bb"/>
<rect x="1053.60" y="2133.50" width="14.60" height="37.90" fill="#405bac"/>
<rect x="1067.90" y="2133.50" width="7.45" height="37.90" fill="#a0a1d3"/>
<rect x="1075.05" y="2133.50" width="7.45" height="37.90" fill="#8a8dc8"/>
<rect x="1082.20" y="2133.50" width="7.45" height="37.90" fill="#6875bb"/>
<rect x="1089.35" y="2133.50" width="21.75" height="37.90" fill="#405bac"/>
<rect x="1110.80" y="2133.50" width="7.45" height="37.90" fill="#0047a5"/>
<rect x="1117.95" y="2133.50" width="7.45" height="37.90" fill="#8a8dc8"/>
<rect x="1125.10" y="2133.50" width="7.45" height="37.90" fill="#405bac"/>
<rect x="1132.25" y="2133.50" width="7.45" height="37.90" fill="#6875bb"/>
<rect x="1139.40" y="2133.50" width="7.45" height="37.90" fill="#405bac"/>
<rect x="1146.55" y="2133.50" width="50.35" height="37.90" fill="#6875bb"/>
<rect x="1196.60" y="2133.50" width="7.45" height="37.90" fill="#405bac"/>
<rect x="1203.75" y="2133.50" width="14.60" height="37.90" fill="#6875bb"/>
<rect x="1218.05" y="2133.50" width="14.60" height="37.90" fill="#405bac"/>
<rect x="1232.35" y="2133.50" width="28.90" height="37.90" fill="#6875bb"/>
<rect x="1260.95" y="2133.50" width="7.45" height="37.90" fill="#405bac"/>
<rect x="1268.10" y="2133.50" width="36.05" height="37.90" fill="#6875bb"/>
<rect x="1303.85" y="2133.50" width="14.60" height="37.90" fill="#405bac"/>
<rect x="1318.15" y="2133.50" width="21.75" height="37.90" fill="#6875bb"/>
<rect x="1339.60" y="2133.50" width="7.45" height="37.90" fill="#405bac"/>
<rect x="1346.75" y="2133.50" width="21.75" height="37.90" fill="#6875bb"/>
<rect x="1368.20" y="2133.50" width="7.45" height="37.90" fill="#405bac"/>
<rect x="1375.35" y="2133.50" width="7.45" height="37.90" fill="#6875bb"/>
<rect x="1382.50" y="2133.50" width="7.45" height="37.90" fill="#405bac"/>
<rect x="1389.65" y="2133.50" width="7.45" height="37.90" fill="#6875bb"/>
<rect x="1396.80" y="2133.50" width="7.45" height="37.90" fill="#405bac"/>
<rect x="1403.95" y="2133.50" width="21.75" height="37.90" fill="#6875bb"/>
<rect x="1425.40" y="2133.50" width="7.45" height="37.90" fill="#405bac"/>
<rect x="1432.55" y="2133.50" width="7.45" height="37.90" fill="#d7d6ec"/>
<rect x="1439.70" y="2133.50" width="7.45" height="37.90" fill="#6875bb"/>
<rect x="1446.85" y="2133.50" width="7.45" height="37.90" fill="#405bac"/>
<rect x="1454.00" y="2133.50" width="21.75" height="37.90" fill="#6875bb"/>
<rect x="1475.45" y="2133.50" width="14.60" height="37.90" fill="#8a8dc8"/>
<rect x="1489.75" y="2133.50" width="50.35" height="37.90" fill="#a0a1d3"/>
<rect x="1539.80" y="2133.50" width="21.75" height="37.90" fill="#6875bb"/>
<rect x="1561.25" y="2133.50" width="7.45" height="37.90" fill="#405bac"/>
<rect x="1568.40" y="2133.50" width="121.85" height="37.90" fill="#6875bb"/>
<rect x="1689.95" y="2133.50" width="7.45" height="37.90" fill="#8a8dc8"/>
<rect x="1697.10" y="2133.50" width="7.45" height="37.90" fill="#6875bb"/>
<rect x="1704.25" y="2133.50" width="14.60" height="37.90" fill="#405bac"/>
<rect x="1718.55" y="2133.50" width="14.60" height="37.90" fill="#6875bb"/>
<rect x="1732.85" y="2133.50" width="7.45" height="37.90" fill="#8a8dc8"/>
<rect x="1740.00" y="2133.50" width="14.60" height="37.90" fill="#6875bb"/>
<rect x="1754.30" y="2133.50" width="7.45" height="37.90" fill="#a0a1d3"/>
<rect x="1761.45" y="2133.50" width="7.45" height="37.90" fill="#8a8dc8"/>
<rect x="1768.60" y="2133.50" width="7.45" height="37.90" fill="#a0a1d3"/>
<rect x="1775.75" y="2133.50" width="14.60" height="37.90" fill="#8a8dc8"/>
<rect x="1790.05" y="2133.50" width="7.45" height="37.90" fill="#405bac"/>
<rect x="1797.20" y="2133.50" width="7.45" height="37.90" fill="#6875bb"/>
<rect x="1804.35" y="2133.50" width="7.45" height="37.90" fill="#405bac"/>
<rect x="1811.50" y="2133.50" width="21.75" height="37.90" fill="#6875bb"/>
<rect x="1832.95" y="2133.50" width="7.45" height="37.90" fill="#405bac"/>
<rect x="1840.10" y="2133.50" width="14.60" height="37.90" fill="#6875bb"/>
<rect x="1854.40" y="2133.50" width="7.45" height="37.90" fill="#8a8dc8"/>
<rect x="1861.55" y="2133.50" width="57.50" height="37.90" fill="#6875bb"/>
<rect x="1918.75" y="2133.50" width="7.45" height="37.90" fill="#405bac"/>
<rect x="1925.90" y="2133.50" width="21.75" height="37.90" fill="#6875bb"/>
<rect x="1947.35" y="2133.50" width="7.45" height="37.90" fill="#8a8dc8"/>
<rect x="1954.50" y="2133.50" width="7.45" height="37.90" fill="#a0a1d3"/>
<rect x="1961.65" y="2133.50" width="7.45" height="37.90" fill="#8a8dc8"/>
<rect x="1968.80" y="2133.50" width="7.45" height="37.90" fill="#6875bb"/>
<rect x="1975.95" y="2133.50" width="7.45" height="37.90" fill="#8a8dc8"/>
<rect x="1983.10" y="2133.50" width="7.45" height="37.90" fill="#405bac"/>
<rect x="1990.25" y="2133.50" width="7.45" height="37.90" fill="#8a8dc8"/>
<rect x="1997.40" y="2133.50" width="14.60" height="37.90" fill="#a0a1d3"/>
<rect x="2011.70" y="2133.50" width="14.60" height="37.90" fill="#8a8dc8"/>
<rect x="2026.00" y="2133.50" width="7.45" height="37.90" fill="#6875bb"/>
<rect x="2033.15" y="2133.50" width="7.45" height="37.90" fill="#8a8dc8"/>
<rect x="2040.30" y="2133.50" width="7.45" height="37.90" fill="#6875bb"/>
<rect x="224.50" y="2171.00" width="272.00" height="37.90" fill="#0047a5"/>
<rect x="496.20" y="2171.00" width="14.60" height="37.90" fill="#405bac"/>
<rect x="510.50" y="2171.00" width="50.35" height="37.90" fill="#0047a5"/>
<rect x="560.55" y="2171.00" width="14.60" height="37.90" fill="#405bac"/>
<rect x="574.85" y="2171.00" width="14.60" height="37.90" fill="#0047a5"/>
<rect x="589.15" y="2171.00" width="21.75" height="37.90" fill="#405bac"/>
<rect x="610.60" y="2171.00" width="14.60" height="37.90" fill="#0047a5"/>
<rect x="624.90" y="2171.00" width="7.45" height="37.90" fill="#405bac"/>
<rect x="632.05" y="2171.00" width="43.20" height="37.90" fill="#0047a5"/>
<rect x="674.95" y="2171.00" width="7.45" height="37.90" fill="#405bac"/>
<rect x="682.10" y="2171.00" width="71.80" height="37.90" fill="#0047a5"/>
<rect x="753.60" y="2171.00" width="7.45" height="37.90" fill="#405bac"/>
<rect x="760.75" y="2171.00" width="28.90" height="37.90" fill="#0047a5"/>
<rect x="789.35" y="2171.00" width="7.45" height="37.90" fill="#405bac"/>
<rect x="810.50" y="2171.00" width="7.45" height="37.90" fill="#8a8dc8"/>
<rect x="817.65" y="2171.00" width="14.60" height="37.90" fill="#6875bb"/>
<rect x="831.95" y="2171.00" width="7.45" height="37.90" fill="#8a8dc8"/>
<rect x="839.10" y="2171.00" width="7.45" height="37.90" fill="#6875bb"/>
<rect x="846.25" y="2171.00" width="21.75" height="37.90" fill="#a0a1d3"/>
<rect x="867.70" y="2171.00" width="14.60" height="37.90" fill="#8a8dc8"/>
<rect x="882.00" y="2171.00" width="7.45" height="37.90" fill="#a0a1d3"/>
<rect x="889.15" y="2171.00" width="14.60" height="37.90" fill="#8a8dc8"/>
<rect x="903.45" y="2171.00" width="7.45" height="37.90" fill="#405bac"/>
<rect x="910.60" y="2171.00" width="7.45" height="37.90" fill="#6875bb"/>
<rect x="917.75" y="2171.00" width="14.60" height="37.90" fill="#405bac"/>
<rect x="932.05" y="2171.00" width="14.60" height="37.90" fill="#8a8dc8"/>
<rect x="946.35" y="2171.00" width="21.75" height="37.90" fill="#6875bb"/>
<rect x="967.80" y="2171.00" width="14.60" height="37.90" fill="#405bac"/>
<rect x="982.10" y="2171.00" width="21.75" height="37.90" fill="#6875bb"/>
<rect x="1003.55" y="2171.00" width="14.60" height="37.90" fill="#405bac"/>
<rect x="1017.85" y="2171.00" width="7.45" height="37.90" fill="#6875bb"/>
<rect x="1025.00" y="2171.00" width="7.45" height="37.90" fill="#8a8dc8"/>
<rect x="1032.15" y="2171.00" width="21.75" height="37.90" fill="#6875bb"/>
<rect x="1053.60" y="2171.00" width="14.60" height="37.90" fill="#405bac"/>
<rect x="1067.90" y="2171.00" width="7.45" height="37.90" fill="#a0a1d3"/>
<rect x="1075.05" y="2171.00" width="7.45" height="37.90" fill="#8a8dc8"/>
<rect x="1082.20" y="2171.00" width="14.60" height="37.90" fill="#6875bb"/>
<rect x="1096.50" y="2171.00" width="14.60" height="37.90" fill="#405bac"/>
<rect x="1110.80" y="2171.00" width="7.45" height="37.90" fill="#0047a5"/>
<rect x="1117.95" y="2171.00" width="7.45" height="37.90" fill="#8a8dc8"/>
<rect x="1125.10" y="2171.00" width="7.45" height="37.90" fill="#405bac"/>
<rect x="1132.25" y="2171.00" width="7.45" height="37.90" fill="#6875bb"/>
<rect x="1139.40" y="2171.00" width="7.45" height="37.90" fill="#405bac"/>
<rect x="1146.55" y="2171.00" width="14.60" height="37.90" fill="#6875bb"/>
<rect x="1160.85" y="2171.00" width="7.45" height="37.90" fill="#a0a1d3"/>
<rect x="1168.00" y="2171.00" width="21.75" height="37.90" fill="#8a8dc8"/>
<rect x="1189.45" y="2171.00" width="100.40" height="37.90" fill="#6875bb"/>
<rect x="1289.55" y="2171.00" width="7.45" height="37.90" fill="#8a8dc8"/>
<rect x="1296.70" y="2171.00" width="7.45" height="37.90" fill="#6875bb"/>
<rect x="1303.85" y="2171.00" width="7.45" height="37.90" fill="#8a8dc8"/>
<rect x="1311.00" y="2171.00" width="14.60" height="37.90" fill="#6875bb"/>
<rect x="1325.30" y="2171.00" width="7.45" height="37.90" fill="#8a8dc8"/>
<rect x="1332.45" y="2171.00" width="28.90" height="37.90" fill="#6875bb"/>
<rect x="1361.05" y="2171.00" width="7.45" height="37.90" fill="#405bac"/>
<rect x="1368.20" y="2171.00" width="57.50" height="37.90" fill="#6875bb"/>
<rect x="1425.40" y="2171.00" width="14.60" height="37.90" fill="#405bac"/>
<rect x="1439.70" y="2171.00" width="7.45" height="37.90" fill="#6875bb"/>
<rect x="1446.85" y="2171.00" width="7.45" height="37.90" fill="#a0a1d3"/>
<rect x="1454.00" y="2171.00" width="7.45" height="37.90" fill="#8a8dc8"/>
<rect x="1461.15" y="2171.00" width="14.60" height="37.90" fill="#6875bb"/>
<rect x="1475.45" y="2171.00" width="14.60" height="37.90" fill="#8a8dc8"/>
<rect x="1489.75" y="2171.00" width="7.45" height="37.90" fill="#6875bb"/>
<rect x="1496.90" y="2171.00" width="28.90" height="37.90" fill="#8a8dc8"/>
<rect x="1525.50" y="2171.00" width="14.60" height="37.90" fill="#a0a1d3"/>
<rect x="1539.80" y="2171.00" width="7.45" height="37.90" fill="#8a8dc8"/>
<rect x="1546.95" y="2171.00" width="7.45" height="37.90" fill="#6875bb"/>
<rect x="1554.10" y="2171.00" width="28.90" height="37.90" fill="#8a8dc8"/>
<rect x="1582.70" y="2171.00" width="14.60" height="37.90" fill="#6875bb"/>
<rect x="1597.00" y="2171.00" width="7.45" height="37.90" fill="#405bac"/>
<rect x="1604.15" y="2171.00" width="21.75" height="37.90" fill="#8a8dc8"/>
<rect x="1625.60" y="2171.00" width="14.60" height="37.90" fill="#6875bb"/>
<rect x="1639.90" y="2171.00" width="7.45" height="37.90" fill="#8a8dc8"/>
<rect x="1647.05" y="2171.00" width="7.45" height="37.90" fill="#6875bb"/>
<rect x="1654.20" y="2171.00" width="7.45" height="37.90" fill="#a0a1d3"/>
<rect x="1661.35" y="2171.00" width="7.45" height="37.90" fill="#6875bb"/>
<rect x="1668.50" y="2171.00" width="14.60" height="37.90" fill="#8a8dc8"/>
<rect x="1682.80" y="2171.00" width="7.45" height="37.90" fill="#405bac"/>
<rect x="1689.95" y="2171.00" width="7.45" height="37.90" fill="#6875bb"/>
<rect x="1697.10" y="2171.00" width="7.45" height="37.90" fill="#a0a1d3"/>
<rect x="1704.25" y="2171.00" width="7.45" height="37.90" fill="#6875bb"/>
<rect x="1711.40" y="2171.00" width="7.45" height="37.90" fill="#405bac"/>
<rect x="1718.55" y="2171.00" width="21.75" height="37.90" fill="#8a8dc8"/>
<rect x="1740.00" y="2171.00" width="14.60" height="37.90" fill="#6875bb"/>
<rect x="1754.30" y="2171.00" width="14.60" height="37.90" fill="#8a8dc8"/>
<rect x="1768.60" y="2171.00" width="7.45" height="37.90" fill="#6875bb"/>
<rect x="1775.75" y="2171.00" width="14.60" height="37.90" fill="#8a8dc8"/>
<rect x="1790.05" y="2171.00" width="7.45" height="37.90" fill="#6875bb"/>
<rect x="1797.20" y="2171.00" width="7.45" height="37.90" fill="#8a8dc8"/>
<rect x="1804.35" y="2171.00" width="36.05" height="37.90" fill="#6875bb"/>
<rect x="1840.10" y="2171.00" width="7.45" height="37.90" fill="#405bac"/>
<rect x="1847.25" y="2171.00" width="7.45" height="37.90" fill="#6875bb"/>
<rect x="1854.40" y="2171.00" width="14.60" height="37.90" fill="#8a8dc8"/>
<rect x="1868.70" y="2171.00" width="7.45" height="37.90" fill="#a0a1d3"/>
<rect x="1875.85" y="2171.00" width="57.50" height="37.90" fill="#8a8dc8"/>
<rect x="1933.05" y="2171.00" width="7.45" height="37.90" fill="#a0a1d3"/>
<rect x="1940.20" y="2171.00" width="14.60" height="37.90" fill="#8a8dc8"/>
<rect x="1954.50" y="2171.00" width="21.75" height="37.90" fill="#6875bb"/>
<rect x="1975.95" y="2171.00" width="7.45" height="37.90" fill="#8a8dc8"/>
<rect x="1983.10" y="2171.00" width="7.45" height="37.90" fill="#405bac"/>
<rect x="1990.25" y="2171.00" width="7.45" height="37.90" fill="#8a8dc8"/>
<rect x="1997.40" y="2171.00" width="7.45" height="37.90" fill="#6875bb"/>
<rect x="2004.55" y="2171.00" width="21.75" height="37.90" fill="#8a8dc8"/>
<rect x="2026.00" y="2171.00" width="21.75" height="37.90" fill="#6875bb"/>
<rect x="224.50" y="2208.50" width="7.45" height="37.90" fill="#0047a5"/>
<rect x="231.65" y="2208.50" width="21.75" height="37.90" fill="#405bac"/>
<rect x="253.10" y="2208.50" width="14.60" height="37.90" fill="#0047a5"/>
<rect x="267.40" y="2208.50" width="14.60" height="37.90" fill="#405bac"/>
<rect x="281.70" y="2208.50" width="14.60" height="37.90" fill="#0047a5"/>
<rect x="296.00" y="2208.50" width="7.45" height="37.90" fill="#405bac"/>
<rect x="303.15" y="2208.50" width="21.75" height="37.90" fill="#0047a5"/>
<rect x="324.60" y="2208.50" width="43.20" height="37.90" fill="#405bac"/>
<rect x="367.50" y="2208.50" width="21.75" height="37.90" fill="#0047a5"/>
<rect x="388.95" y="2208.50" width="14.60" height="37.90" fill="#405bac"/>
<rect x="403.25" y="2208.50" width="14.60" height="37.90" fill="#0047a5"/>
<rect x="417.55" y="2208.50" width="14.60" height="37.90" fill="#405bac"/>
<rect x="431.85" y="2208.50" width="21.75" height="37.90" fill="#0047a5"/>
<rect x="453.30" y="2208.50" width="7.45" height="37.90" fill="#405bac"/>
<rect x="460.45" y="2208.50" width="7.45" height="37.90" fill="#0047a5"/>
<rect x="467.60" y="2208.50" width="7.45" height="37.90" fill="#405bac"/>
<rect x="474.75" y="2208.50" width="21.75" height="37.90" fill="#0047a5"/>
<rect x="496.20" y="2208.50" width="14.60" height="37.90" fill="#405bac"/>
<rect x="510.50" y="2208.50" width="14.60" height="37.90" fill="#0047a5"/>
<rect x="524.80" y="2208.50" width="7.45" height="37.90" fill="#405bac"/>
<rect x="531.95" y="2208.50" width="7.45" height="37.90" fill="#0047a5"/>
<rect x="539.10" y="2208.50" width="7.45" height="37.90" fill="#405bac"/>
<rect x="546.25" y="2208.50" width="14.60" height="37.90" fill="#0047a5"/>
<rect x="560.55" y="2208.50" width="14.60" height="37.90" fill="#405bac"/>
<rect x="574.85" y="2208.50" width="14.60" height="37.90" fill="#0047a5"/>
<rect x="589.15" y="2208.50" width="43.20" height="37.90" fill="#405bac"/>
<rect x="632.05" y="2208.50" width="21.75" height="37.90" fill="#0047a5"/>
<rect x="653.50" y="2208.50" width="7.45" height="37.90" fill="#405bac"/>
<rect x="660.65" y="2208.50" width="14.60" height="37.90" fill="#0047a5"/>
<rect x="674.95" y="2208.50" width="7.45" height="37.90" fill="#405bac"/>
<rect x="682.10" y="2208.50" width="43.20" height="37.90" fill="#0047a5"/>
<rect x="725.00" y="2208.50" width="7.45" height="37.90" fill="#405bac"/>
<rect x="732.15" y="2208.50" width="21.75" height="37.90" fill="#0047a5"/>
<rect x="753.60" y="2208.50" width="14.60" height="37.90" fill="#405bac"/>
<rect x="767.90" y="2208.50" width="14.60" height="37.90" fill="#0047a5"/>
<rect x="782.20" y="2208.50" width="14.60" height="37.90" fill="#405bac"/>
<rect x="810.50" y="2208.50" width="7.45" height="37.90" fill="#8a8dc8"/>
<rect x="817.65" y="2208.50" width="14.60" height="37.90" fill="#6875bb"/>
<rect x="831.95" y="2208.50" width="7.45" height="37.90" fill="#a0a1d3"/>
<rect x="839.10" y="2208.50" width="7.45" height="37.90" fill="#6875bb"/>
<rect x="846.25" y="2208.50" width="7.45" height="37.90" fill="#a0a1d3"/>
<rect x="853.40" y="2208.50" width="7.45" height="37.90" fill="#c7c6e5"/>
<rect x="860.55" y="2208.50" width="7.45" height="37.90" fill="#a0a1d3"/>
<rect x="867.70" y="2208.50" width="14.60" height="37.90" fill="#8a8dc8"/>
<rect x="882.00" y="2208.50" width="7.45" height="37.90" fill="#b5b5dd"/>
<rect x="889.15" y="2208.50" width="21.75" height="37.90" fill="#8a8dc8"/>
<rect x="910.60" y="2208.50" width="7.45" height="37.90" fill="#a0a1d3"/>
<rect x="917.75" y="2208.50" width="7.45" height="37.90" fill="#405bac"/>
<rect x="924.90" y="2208.50" width="21.75" height="37.90" fill="#c7c6e5"/>
<rect x="946.35" y="2208.50" width="7.45" height="37.90" fill="#8a8dc8"/>
<rect x="953.50" y="2208.50" width="14.60" height="37.90" fill="#6875bb"/>
<rect x="967.80" y="2208.50" width="14.60" height="37.90" fill="#8a8dc8"/>
<rect x="982.10" y="2208.50" width="14.60" height="37.90" fill="#c7c6e5"/>
<rect x="996.40" y="2208.50" width="7.45" height="37.90" fill="#8a8dc8"/>
<rect x="1003.55" y="2208.50" width="14.60" height="37.90" fill="#b5b5dd"/>
<rect x="1017.85" y="2208.50" width="21.75" height="37.90" fill="#8a8dc8"/>
<rect x="1039.30" y="2208.50" width="7.45" height="37.90" fill="#a0a1d3"/>
<rect x="1046.45" y="2208.50" width="14.60" height="37.90" fill="#8a8dc8"/>
<rect x="1060.75" y="2208.50" width="28.90" height="37.90" fill="#a0a1d3"/>
<rect x="1089.35" y="2208.50" width="7.45" height="37.90" fill="#6875bb"/>
<rect x="1096.50" y="2208.50" width="21.75" height="37.90" fill="#405bac"/>
<rect x="1117.95" y="2208.50" width="7.45" height="37.90" fill="#8a8dc8"/>
<rect x="1125.10" y="2208.50" width="7.45" height="37.90" fill="#a0a1d3"/>
<rect x="1132.25" y="2208.50" width="14.60" height="37.90" fill="#8a8dc8"/>
<rect x="1146.55" y="2208.50" width="7.45" height="37.90" fill="#b5b5dd"/>
<rect x="1153.70" y="2208.50" width="21.75" height="37.90" fill="#a0a1d3"/>
<rect x="1175.15" y="2208.50" width="7.45" height="37.90" fill="#b5b5dd"/>
<rect x="1182.30" y="2208.50" width="7.45" height="37.90" fill="#8a8dc8"/>
<rect x="1189.45" y="2208.50" width="28.90" height="37.90" fill="#6875bb"/>
<rect x="1218.05" y="2208.50" width="21.75" height="37.90" fill="#8a8dc8"/>
<rect x="1239.50" y="2208.50" width="7.45" height="37.90" fill="#6875bb"/>
<rect x="1246.65" y="2208.50" width="7.45" height="37.90" fill="#8a8dc8"/>
<rect x="1253.80" y="2208.50" width="36.05" height="37.90" fill="#6875bb"/>
<rect x="1289.55" y="2208.50" width="43.20" height="37.90" fill="#8a8dc8"/>
<rect x="1332.45" y="2208.50" width="7.45" height="37.90" fill="#6875bb"/>
<rect x="1339.60" y="2208.50" width="14.60" height="37.90" fill="#8a8dc8"/>
<rect x="1353.90" y="2208.50" width="7.45" height="37.90" fill="#6875bb"/>
<rect x="1361.05" y="2208.50" width="7.45" height="37.90" fill="#405bac"/>
<rect x="1368.20" y="2208.50" width="7.45" height="37.90" fill="#8a8dc8"/>
<rect x="1375.35" y="2208.50" width="50.35" height="37.90" fill="#6875bb"/>
<rect x="1425.40" y="2208.50" width="7.45" height="37.90" fill="#8a8dc8"/>
<rect x="1432.55" y="2208.50" width="7.45" height="37.90" fill="#405bac"/>
<rect x="1439.70" y="2208.50" width="7.45" height="37.90" fill="#6875bb"/>
<rect x="1446.85" y="2208.50" width="7.45" height="37.90" fill="#a0a1d3"/>
<rect x="1454.00" y="2208.50" width="7.45" height="37.90" fill="#8a8dc8"/>
<rect x="1461.15" y="2208.50" width="14.60" height="37.90" fill="#6875bb"/>
<rect x="1475.45" y="2208.50" width="7.45" height="37.90" fill="#d7d6ec"/>
<rect x="1482.60" y="2208.50" width="7.45" height="37.90" fill="#8a8dc8"/>
<rect x="1489.75" y="2208.50" width="7.45" height="37.90" fill="#6875bb"/>
<rect x="1496.90" y="2208.50" width="28.90" height="37.90" fill="#8a8dc8"/>
<rect x="1525.50" y="2208.50" width="14.60" height="37.90" fill="#a0a1d3"/>
<rect x="1539.80" y="2208.50" width="7.45" height="37.90" fill="#8a8dc8"/>
<rect x="1546.95" y="2208.50" width="7.45" height="37.90" fill="#6875bb"/>
<rect x="1554.10" y="2208.50" width="21.75" height="37.90" fill="#8a8dc8"/>
<rect x="1575.55" y="2208.50" width="7.45" height="37.90" fill="#a0a1d3"/>
<rect x="1582.70" y="2208.50" width="7.45" height="37.90" fill="#6875bb"/>
<rect x="1589.85" y="2208.50" width="7.45" height="37.90" fill="#8a8dc8"/>
<rect x="1597.00" y="2208.50" width="7.45" height="37.90" fill="#405bac"/>
<rect x="1604.15" y="2208.50" width="21.75" height="37.90" fill="#8a8dc8"/>
<rect x="1625.60" y="2208.50" width="14.60" height="37.90" fill="#6875bb"/>
<rect x="1639.90" y="2208.50" width="7.45" height="37.90" fill="#8a8dc8"/>
<rect x="1647.05" y="2208.50" width="7.45" height="37.90" fill="#6875bb"/>
<rect x="1654.20" y="2208.50" width="7.45" height="37.90" fill="#a0a1d3"/>
<rect x="1661.35" y="2208.50" width="7.45" height="37.90" fill="#6875bb"/>
<rect x="1668.50" y="2208.50" width="7.45" height="37.90" fill="#a0a1d3"/>
<rect x="1675.65" y="2208.50" width="7.45" height="37.90" fill="#8a8dc8"/>
<rect x="1682.80" y="2208.50" width="7.45" height="37.90" fill="#405bac"/>
<rect x="1689.95" y="2208.50" width="7.45" height="37.90" fill="#6875bb"/>
<rect x="1697.10" y="2208.50" width="7.45" height="37.90" fill="#a0a1d3"/>
<rect x="1704.25" y="2208.50" width="7.45" height="37.90" fill="#6875bb"/>
<rect x="1711.40" y="2208.50" width="7.45" height="37.90" fill="#405bac"/>
<rect x="1718.55" y="2208.50" width="14.60" height="37.90" fill="#8a8dc8"/>
<rect x="1732.85" y="2208.50" width="7.45" height="37.90" fill="#a0a1d3"/>
<rect x="1740.00" y="2208.50" width="14.60" height="37.90" fill="#d7d6ec"/>
<rect x="1754.30" y="2208.50" width="14.60" height="37.90" fill="#8a8dc8"/>
<rect x="1768.60" y="2208.50" width="7.45" height="37.90" fill="#6875bb"/>
<rect x="1775.75" y="2208.50" width="14.60" height="37.90" fill="#8a8dc8"/>
<rect x="1790.05" y="2208.50" width="7.45" height="37.90" fill="#6875bb"/>
<rect x="1797.20" y="2208.50" width="7.45" height="37.90" fill="#8a8dc8"/>
<rect x="1804.35" y="2208.50" width="14.60" height="37.90" fill="#6875bb"/>
<rect x="1818.65" y="2208.50" width="7.45" height="37.90" fill="#8a8dc8"/>
<rect x="1825.80" y="2208.50" width="14.60" height="37.90" fill="#6875bb"/>
<rect x="1840.10" y="2208.50" width="7.45" height="37.90" fill="#405bac"/>
<rect x="1847.25" y="2208.50" width="7.45" height="37.90" fill="#6875bb"/>
<rect x="1854.40" y="2208.50" width="21.75" height="37.90" fill="#a0a1d3"/>
<rect x="1875.85" y="2208.50" width="57.50" height="37.90" fill="#8a8dc8"/>
<rect x="1933.05" y="2208.50" width="7.45" height="37.90" fill="#a0a1d3"/>
<rect x="1940.20" y="2208.50" width="7.45" height="37.90" fill="#8a8dc8"/>
<rect x="1947.35" y="2208.50" width="7.45" height="37.90" fill="#a0a1d3"/>
<rect x="1954.50" y="2208.50" width="21.75" height="37.90" fill="#6875bb"/>
<rect x="1975.95" y="2208.50" width="7.45" height="37.90" fill="#a0a1d3"/>
<rect x="1983.10" y="2208.50" width="14.60" height="37.90" fill="#8a8dc8"/>
<rect x="1997.40" y="2208.50" width="7.45" height="37.90" fill="#6875bb"/>
<rect x="2004.55" y="2208.50" width="7.45" height="37.90" fill="#8a8dc8"/>
<rect x="2011.70" y="2208.50" width="7.45" height="37.90" fill="#b5b5dd"/>
<rect x="2018.85" y="2208.50" width="14.60" height="37.90" fill="#8a8dc8"/>
<rect x="2033.15" y="2208.50" width="7.45" height="37.90" fill="#6875bb"/>
<rect x="2040.30" y="2208.50" width="7.45" height="37.90" fill="#8a8dc8"/>
</g>
<g id="hm-annot">
<rect x="224.5" y="1426.5" width="571.8" height="18.2" fill="#00418d"/>
<rect x="810.5" y="1426.5" width="1236.8" height="18.2" fill="#ff0a0a"/>
<polygon points="2032.5,1433 2034.5,1433 2038,1444.5 2035,1444.5" fill="#fff"/>
<path d="M223,1450.8 V1425.2 H2048.6 V1451.2" fill="none" stroke="#000" stroke-width="3.2"/>
<line x1="796.3" y1="1448.8" x2="810.5" y2="1448.8" stroke="#000" stroke-width="3.6"/>
<rect x="224.4" y="1444.4" width="7.4" height="75.2" fill="#ff0000"/>
<text x="22.5" y="1455.6" font-family="'Liberation Serif', 'Noto Serif CJK SC', serif" font-size="34" fill="#111">SampleGroup</text>
</g>
<g id="rowdend" fill="none" stroke-linecap="butt">
<line x1="87.1" y1="1482.4" x2="210.4" y2="1482.4" stroke="#ff0000" stroke-width="6"/>
<line x1="118.2" y1="1519.5" x2="210.4" y2="1519.5" stroke="#ff0000" stroke-width="6"/>
<line x1="162.3" y1="1556.8" x2="210.4" y2="1556.8" stroke="#ff0000" stroke-width="6"/>
<line x1="162.3" y1="1594.4" x2="210.4" y2="1594.4" stroke="#ff0000" stroke-width="6"/>
<line x1="98.3" y1="1631.8" x2="210.4" y2="1631.8" stroke="#ff0000" stroke-width="6"/>
<line x1="98.3" y1="1669.6" x2="210.4" y2="1669.6" stroke="#ff0000" stroke-width="6"/>
<line x1="84.6" y1="1707.4" x2="210.4" y2="1707.4" stroke="#ff0000" stroke-width="6"/>
<line x1="106.5" y1="1744.7" x2="210.4" y2="1744.7" stroke="#ff0000" stroke-width="6"/>
<line x1="137.1" y1="1781.8" x2="210.4" y2="1781.8" stroke="#ff0000" stroke-width="6"/>
<line x1="137.1" y1="1819.6" x2="210.4" y2="1819.6" stroke="#ff0000" stroke-width="6"/>
<line x1="137.1" y1="1870.8" x2="210.4" y2="1870.8" stroke="#00b400" stroke-width="5.4"/>
<line x1="141.3" y1="1908.8" x2="210.4" y2="1908.8" stroke="#00b400" stroke-width="5.4"/>
<line x1="145.4" y1="1946.1" x2="210.4" y2="1946.1" stroke="#00b400" stroke-width="5.4"/>
<line x1="160.7" y1="1983.3" x2="210.4" y2="1983.3" stroke="#00b400" stroke-width="5.4"/>
<line x1="160.7" y1="2020.9" x2="210.4" y2="2020.9" stroke="#00b400" stroke-width="5.4"/>
<line x1="133.8" y1="2058.6" x2="210.4" y2="2058.6" stroke="#00b400" stroke-width="5.4"/>
<line x1="133.8" y1="2096.6" x2="210.4" y2="2096.6" stroke="#00b400" stroke-width="5.4"/>
<line x1="92.8" y1="2134" x2="210.4" y2="2134" stroke="#00b400" stroke-width="5.4"/>
<line x1="125.5" y1="2171.4" x2="210.4" y2="2171.4" stroke="#00b400" stroke-width="5.4"/>
<line x1="125.5" y1="2208.8" x2="210.4" y2="2208.8" stroke="#00b400" stroke-width="5.4"/>
<path d="M162.3,1553.8 L162.3,1597.4 M118.2,1516.5 L118.2,1575 L162.3,1575 M87.1,1479.4 L87.1,1546.9 L118.2,1546.9 M87.1,1514 L68.4,1514 L68.4,1694.5 L79.6,1694.5 M98.3,1628.8 L98.3,1672.6 M98.3,1651 L79.6,1651 L79.6,1740 L82,1740 M84.6,1704.4 L84.6,1771.6 L106.5,1771.6 M82,1700 L82,1745 M106.5,1741.7 L106.5,1801 L137.1,1801 M137.1,1778.8 L137.1,1822.6 M160.7,1980.6 L160.7,2023.6000000000001 M160.7,2002.4 L146,2002.4 L146,1943.3999999999999 M143.5,1975 L141.3,1906.1 M146,1975 L143,1935 M139.5,1940 L137.1,1868.1 M141.5,1940 L139,1905 M137.1,1905.4 L123.3,1905.4 L123.3,2076.6 L133.8,2076.6 M133.8,2055.9 L133.8,2099.2999999999997 M123.3,1991.3 L64,1991.3 L64,2161 L92.8,2161 M92.8,2131.3 L92.8,2189.4 L125.5,2189.4 M125.5,2168.7000000000003 L125.5,2211.5" stroke="#000" stroke-width="6" stroke-linejoin="round"/>
</g>
<g id="coldend" fill="none">
<path d="M228.1,1412.4V1354.5 M235.2,1412.4V1395.5 M242.4,1412.4V1392.9 M249.5,1412.4V1392.9 M256.7,1412.4V1389.5 M263.8,1412.4V1403.3 M271.0,1412.4V1401.0 M278.1,1412.4V1403.7 M285.3,1412.4V1399.0 M292.4,1412.4V1397.1 M299.6,1412.4V1386.0 M306.7,1412.4V1392.0 M313.9,1412.4V1402.3 M321.0,1412.4V1403.3 M328.2,1412.4V1400.9 M335.3,1412.4V1401.2 M342.5,1412.4V1400.4 M349.6,1412.4V1393.4 M356.8,1412.4V1394.4 M363.9,1412.4V1395.6 M371.1,1412.4V1388.5 M378.2,1412.4V1394.7 M385.4,1412.4V1395.9 M392.5,1412.4V1398.0 M399.7,1412.4V1397.1 M406.8,1412.4V1397.8 M414.0,1412.4V1397.9 M421.1,1412.4V1401.5 M428.3,1412.4V1397.7 M435.4,1412.4V1401.4 M442.6,1412.4V1398.1 M449.7,1412.4V1401.1 M456.9,1412.4V1399.5 M464.0,1412.4V1396.7 M471.2,1412.4V1396.8 M478.3,1412.4V1397.4 M485.5,1412.4V1401.3 M492.6,1412.4V1403.5 M499.8,1412.4V1404.2 M506.9,1412.4V1404.3 M514.1,1412.4V1405.9 M521.2,1412.4V1406.6 M528.4,1412.4V1407.6 M535.5,1412.4V1381.0 M542.7,1412.4V1405.0 M549.8,1412.4V1381.0 M557.0,1412.4V1401.8 M564.1,1412.4V1398.5 M571.3,1412.4V1402.2 M578.4,1412.4V1394.1 M585.6,1412.4V1400.6 M592.7,1412.4V1398.2 M599.9,1412.4V1400.6 M607.0,1412.4V1397.6 M614.2,1412.4V1397.6 M621.3,1412.4V1397.1 M628.5,1412.4V1396.7 M635.6,1412.4V1397.8 M642.8,1412.4V1399.0 M649.9,1412.4V1395.6 M657.1,1412.4V1398.9 M664.2,1412.4V1397.1 M671.4,1412.4V1399.9 M678.5,1412.4V1401.4 M685.7,1412.4V1402.3 M692.8,1412.4V1400.8 M700.0,1412.4V1399.2 M707.1,1412.4V1402.7 M714.3,1412.4V1406.0 M721.4,1412.4V1407.4 M728.6,1412.4V1409.0 M735.7,1412.4V1409.0 M742.9,1412.4V1409.0 M750.0,1412.4V1407.4 M757.2,1412.4V1408.7 M764.3,1412.4V1407.6 M771.5,1412.4V1408.2 M778.6,1412.4V1408.8 M785.8,1412.4V1409.0 M792.9,1412.4V1409.0" stroke="#00418d" stroke-width="5.4"/>
<path d="M235.2,1395.5V1391.0 M242.4,1392.9V1391.0 M249.5,1392.9V1391.0 M235.2,1391.0H249.5 M242.4,1391.0V1371.7 M263.8,1403.3V1398.9 M271.0,1401.0V1398.9 M278.1,1403.7V1398.9 M263.8,1398.9H278.1 M271.0,1398.9V1371.7 M285.3,1399.0V1395.3 M292.4,1397.1V1395.3 M285.3,1395.3H292.4 M288.9,1395.3V1371.7 M313.9,1402.3V1398.5 M313.9,1398.5V1383.0 M321.0,1403.3V1398.7 M328.2,1400.9V1398.7 M335.3,1401.2V1398.7 M342.5,1400.4V1398.7 M321.0,1398.7H342.5 M331.8,1398.7V1383.0 M349.6,1393.4V1392.2 M356.8,1394.4V1392.2 M363.9,1395.6V1392.2 M349.6,1392.2H363.9 M356.8,1392.2V1383.0 M378.2,1394.7V1391.0 M378.2,1391.0V1383.0 M385.4,1395.9V1393.7 M392.5,1398.0V1393.7 M385.4,1393.7H392.5 M388.9,1393.7V1386.5 M399.7,1397.1V1394.8 M406.8,1397.8V1394.8 M399.7,1394.8H406.8 M403.2,1394.8V1386.5 M414.0,1397.9V1396.6 M421.1,1401.5V1396.6 M428.3,1397.7V1396.6 M414.0,1396.6H428.3 M421.1,1396.6V1386.5 M435.4,1401.4V1397.0 M442.6,1398.1V1397.0 M449.7,1401.1V1397.0 M456.9,1399.5V1397.0 M435.4,1397.0H456.9 M446.1,1397.0V1390.5 M464.0,1396.7V1395.6 M471.2,1396.8V1395.6 M478.3,1397.4V1395.6 M464.0,1395.6H478.3 M471.2,1395.6V1390.5 M485.5,1401.3V1399.5 M492.6,1403.5V1399.5 M499.8,1404.2V1399.5 M506.9,1404.3V1399.5 M485.5,1399.5H506.9 M496.2,1399.5V1394.5 M514.1,1405.9V1403.5 M521.2,1406.6V1403.5 M528.4,1407.6V1403.5 M514.1,1403.5H528.4 M521.2,1403.5V1398.5 M542.7,1405.0V1401.0 M542.7,1401.0V1396.0 M557.0,1401.8V1397.4 M564.1,1398.5V1397.4 M571.3,1402.2V1397.4 M557.0,1397.4H571.3 M564.1,1397.4V1374.7 M578.4,1394.1V1391.7 M578.4,1391.7V1384.5 M585.6,1400.6V1395.9 M592.7,1398.2V1395.9 M599.9,1400.6V1395.9 M585.6,1395.9H599.9 M592.7,1395.9V1384.5 M607.0,1397.6V1395.4 M614.2,1397.6V1395.4 M621.3,1397.1V1395.4 M628.5,1396.7V1395.4 M607.0,1395.4H628.5 M617.8,1395.4V1384.5 M635.6,1397.8V1394.0 M642.8,1399.0V1394.0 M649.9,1395.6V1394.0 M635.6,1394.0H649.9 M642.8,1394.0V1389.0 M657.1,1398.9V1394.0 M664.2,1397.1V1394.0 M657.1,1394.0H664.2 M660.7,1394.0V1389.0 M671.4,1399.9V1398.0 M678.5,1401.4V1398.0 M685.7,1402.3V1398.0 M692.8,1400.8V1398.0 M671.4,1398.0H692.8 M682.1,1398.0V1393.0 M700.0,1399.2V1398.0 M707.1,1402.7V1398.0 M700.0,1398.0H707.1 M703.5,1398.0V1393.0 M714.3,1406.0V1403.0 M721.4,1407.4V1403.0 M714.3,1403.0H721.4 M717.9,1403.0V1398.0 M728.6,1409.0V1406.0 M735.7,1409.0V1406.0 M728.6,1406.0H735.7 M732.2,1406.0V1402.0 M742.9,1409.0V1406.0 M750.0,1407.4V1406.0 M757.2,1408.7V1406.0 M764.3,1407.6V1406.0 M742.9,1406.0H764.3 M753.6,1406.0V1402.0 M771.5,1408.2V1406.0 M778.6,1408.8V1406.0 M771.5,1406.0H778.6 M775.0,1406.0V1405.5 M785.8,1409.0V1406.0 M792.9,1409.0V1406.0 M785.8,1406.0H792.9 M789.4,1406.0V1405.5 M239.8,1371.7H344.0 M344.0,1377.0H385.7 M300.0,1383.0H424.0 M385.7,1386.5H481.0 M424.0,1390.5H505.0 M481.0,1394.5H527.0 M505.0,1398.5H531.0 M548.0,1374.7H622.5 M571.8,1384.5H671.6 M622.5,1389.0H705.8 M671.6,1393.0H728.0 M705.8,1398.0H761.0 M728.0,1402.0H790.7 M761.0,1405.5H796.0 M228.5,1352.3H418.5V1358.3 M272.5,1371.7V1358.3H561.4 M561.4,1358.3V1362.2H586.7V1374.7 M537.6,1358.3V1381 M344,1371.7V1377 M385.7,1377V1386.5 M424,1383V1390.5 M481,1386.5V1394.5 M505,1390.5V1398.5 M622.5,1374.7V1389 M671.6,1384.5V1393 M705.8,1389V1398 M728,1393V1402 M761,1398V1405.5 M239.8,1371.7V1392 M571.8,1384.5V1396 M548,1374.7V1386 M300,1383V1388" stroke="#000" stroke-width="4.5" stroke-linejoin="round" stroke-linecap="round"/>
<path d="M814.1,1412.4V1405.3 M821.2,1412.4V1405.1 M828.4,1412.4V1406.5 M835.5,1412.4V1403.5 M842.7,1412.4V1401.5 M849.8,1412.4V1390.0 M857.0,1412.4V1406.0 M864.1,1412.4V1401.1 M871.3,1412.4V1403.8 M878.4,1412.4V1401.6 M885.6,1412.4V1402.2 M892.7,1412.4V1409.0 M899.9,1412.4V1404.1 M907.0,1412.4V1406.7 M914.2,1412.4V1401.5 M921.3,1412.4V1398.4 M928.5,1412.4V1400.2 M935.6,1412.4V1388.0 M942.8,1412.4V1404.5 M949.9,1412.4V1405.5 M957.1,1412.4V1401.7 M964.2,1412.4V1403.1 M971.4,1412.4V1406.0 M978.5,1412.4V1403.1 M985.7,1412.4V1402.8 M992.8,1412.4V1406.0 M1000.0,1412.4V1403.7 M1007.1,1412.4V1401.0 M1014.3,1412.4V1398.4 M1021.4,1412.4V1400.7 M1028.6,1412.4V1402.0 M1035.7,1412.4V1401.3 M1042.9,1412.4V1400.6 M1050.0,1412.4V1397.7 M1057.2,1412.4V1401.4 M1064.3,1412.4V1397.3 M1071.5,1412.4V1401.4 M1078.6,1412.4V1404.9 M1085.8,1412.4V1402.8 M1092.9,1412.4V1405.5 M1100.1,1412.4V1403.8 M1107.2,1412.4V1402.7 M1114.4,1412.4V1405.5 M1121.5,1412.4V1405.3 M1128.7,1412.4V1404.6 M1135.8,1412.4V1406.2 M1143.0,1412.4V1403.5 M1150.1,1412.4V1407.2 M1157.3,1412.4V1398.6 M1164.4,1412.4V1403.7 M1171.6,1412.4V1399.3 M1178.7,1412.4V1403.5 M1185.9,1412.4V1406.7 M1193.0,1412.4V1403.5 M1200.2,1412.4V1398.1 M1207.3,1412.4V1399.1 M1214.5,1412.4V1406.1 M1221.6,1412.4V1402.7 M1228.8,1412.4V1401.6 M1235.9,1412.4V1401.2 M1243.1,1412.4V1402.6 M1250.2,1412.4V1403.3 M1257.4,1412.4V1402.0 M1264.5,1412.4V1403.4 M1271.7,1412.4V1404.0 M1278.8,1412.4V1406.7 M1286.0,1412.4V1402.8 M1293.1,1412.4V1405.8 M1300.3,1412.4V1406.1 M1307.4,1412.4V1405.4 M1314.6,1412.4V1403.2 M1321.7,1412.4V1402.4 M1328.9,1412.4V1400.5 M1336.0,1412.4V1403.0 M1343.2,1412.4V1400.0 M1350.3,1412.4V1404.7 M1357.5,1412.4V1403.6 M1364.6,1412.4V1406.0 M1371.8,1412.4V1406.6 M1378.9,1412.4V1405.6 M1386.1,1412.4V1406.2 M1393.2,1412.4V1408.7 M1400.4,1412.4V1406.4 M1407.5,1412.4V1403.7 M1414.7,1412.4V1409.0 M1421.8,1412.4V1408.4 M1429.0,1412.4V1406.4 M1436.1,1412.4V1377.0 M1443.3,1412.4V1405.3 M1450.4,1412.4V1400.6 M1457.6,1412.4V1404.0 M1464.7,1412.4V1402.7 M1471.9,1412.4V1405.0 M1479.0,1412.4V1402.1 M1486.2,1412.4V1405.4 M1493.3,1412.4V1404.0 M1500.5,1412.4V1403.4 M1507.6,1412.4V1400.2 M1514.8,1412.4V1403.2 M1521.9,1412.4V1402.0 M1529.1,1412.4V1403.9 M1536.2,1412.4V1407.2 M1543.4,1412.4V1406.7 M1550.5,1412.4V1405.7 M1557.7,1412.4V1401.1 M1564.8,1412.4V1404.2 M1572.0,1412.4V1404.5 M1579.1,1412.4V1399.7 M1586.3,1412.4V1400.4 M1593.4,1412.4V1402.7 M1600.6,1412.4V1398.1 M1607.7,1412.4V1401.6 M1614.9,1412.4V1401.9 M1622.0,1412.4V1399.1 M1629.2,1412.4V1403.2 M1636.3,1412.4V1403.1 M1643.5,1412.4V1401.8 M1650.6,1412.4V1399.8 M1657.8,1412.4V1401.9 M1664.9,1412.4V1402.0 M1672.1,1412.4V1402.9 M1679.2,1412.4V1404.2 M1686.4,1412.4V1403.6 M1693.5,1412.4V1406.6 M1700.7,1412.4V1399.1 M1707.8,1412.4V1398.5 M1715.0,1412.4V1402.5 M1722.1,1412.4V1405.4 M1729.3,1412.4V1407.4 M1736.4,1412.4V1405.9 M1743.6,1412.4V1402.2 M1750.7,1412.4V1403.6 M1757.9,1412.4V1401.5 M1765.0,1412.4V1401.6 M1772.2,1412.4V1401.2 M1779.3,1412.4V1402.5 M1786.5,1412.4V1403.2 M1793.6,1412.4V1401.9 M1800.8,1412.4V1397.8 M1807.9,1412.4V1402.9 M1815.1,1412.4V1401.6 M1822.2,1412.4V1399.5 M1829.4,1412.4V1403.0 M1836.5,1412.4V1403.2 M1843.7,1412.4V1405.9 M1850.8,1412.4V1407.7 M1858.0,1412.4V1408.3 M1865.1,1412.4V1408.4 M1872.3,1412.4V1407.7 M1879.4,1412.4V1403.8 M1886.6,1412.4V1405.0 M1893.7,1412.4V1404.8 M1900.9,1412.4V1404.2 M1908.0,1412.4V1406.1 M1915.2,1412.4V1403.7 M1922.3,1412.4V1402.6 M1929.5,1412.4V1403.0 M1936.6,1412.4V1404.0 M1943.8,1412.4V1404.6 M1950.9,1412.4V1402.5 M1958.1,1412.4V1403.7 M1965.2,1412.4V1403.3 M1972.4,1412.4V1402.4 M1979.5,1412.4V1404.5 M1986.7,1412.4V1409.0 M1993.8,1412.4V1409.0 M2001.0,1412.4V1409.0 M2008.1,1412.4V1409.0 M2015.3,1412.4V1409.0 M2022.4,1412.4V1409.0 M2029.6,1412.4V1409.0 M2036.7,1412.4V1409.0 M2043.9,1412.4V1409.0" stroke="#ff0000" stroke-width="4.2"/>
<path d="M814.1,1405.3V1400.4 M821.2,1405.1V1400.4 M828.4,1406.5V1400.4 M835.5,1403.5V1400.4 M814.1,1400.4H835.5 M824.8,1400.4V1392.0 M842.7,1401.5V1398.1 M842.7,1398.1V1392.0 M857.0,1406.0V1398.3 M864.1,1401.1V1398.3 M871.3,1403.8V1398.3 M857.0,1398.3H871.3 M864.1,1398.3V1388.0 M878.4,1401.6V1398.2 M885.6,1402.2V1398.2 M878.4,1398.2H885.6 M882.0,1398.2V1388.0 M892.7,1409.0V1401.0 M899.9,1404.1V1401.0 M892.7,1401.0H899.9 M896.3,1401.0V1388.0 M907.0,1406.7V1398.9 M907.0,1398.9V1388.5 M914.2,1401.5V1395.7 M921.3,1398.4V1395.7 M928.5,1400.2V1395.7 M914.2,1395.7H928.5 M921.3,1395.7V1388.5 M942.8,1404.5V1398.7 M949.9,1405.5V1398.7 M957.1,1401.7V1398.7 M964.2,1403.1V1398.7 M971.4,1406.0V1398.7 M942.8,1398.7H971.4 M957.1,1398.7V1388.5 M978.5,1403.1V1398.1 M985.7,1402.8V1398.1 M992.8,1406.0V1398.1 M1000.0,1403.7V1398.1 M978.5,1398.1H1000.0 M989.2,1398.1V1388.5 M1007.1,1401.0V1394.1 M1014.3,1398.4V1394.1 M1007.1,1394.1H1014.3 M1010.7,1394.1V1384.0 M1021.4,1400.7V1397.0 M1028.6,1402.0V1397.0 M1035.7,1401.3V1397.0 M1021.4,1397.0H1035.7 M1028.6,1397.0V1384.0 M1042.9,1400.6V1394.6 M1050.0,1397.7V1394.6 M1057.2,1401.4V1394.6 M1064.3,1397.3V1394.6 M1071.5,1401.4V1394.6 M1042.9,1394.6H1071.5 M1057.2,1394.6V1384.0 M1078.6,1404.9V1399.7 M1078.6,1399.7V1384.0 M1085.8,1402.8V1399.0 M1092.9,1405.5V1399.0 M1100.1,1403.8V1399.0 M1107.2,1402.7V1399.0 M1085.8,1399.0H1107.2 M1096.5,1399.0V1384.0 M1114.4,1405.5V1400.7 M1121.5,1405.3V1400.7 M1114.4,1400.7H1121.5 M1118.0,1400.7V1388.0 M1128.7,1404.6V1400.0 M1135.8,1406.2V1400.0 M1143.0,1403.5V1400.0 M1150.1,1407.2V1400.0 M1128.7,1400.0H1150.1 M1139.4,1400.0V1388.0 M1157.3,1398.6V1395.8 M1164.4,1403.7V1395.8 M1171.6,1399.3V1395.8 M1178.7,1403.5V1395.8 M1157.3,1395.8H1178.7 M1168.0,1395.8V1388.0 M1185.9,1406.7V1400.9 M1193.0,1403.5V1400.9 M1185.9,1400.9H1193.0 M1189.5,1400.9V1388.0 M1200.2,1398.1V1394.4 M1207.3,1399.1V1394.4 M1200.2,1394.4H1207.3 M1203.8,1394.4V1388.0 M1214.5,1406.1V1398.3 M1221.6,1402.7V1398.3 M1228.8,1401.6V1398.3 M1214.5,1398.3H1228.8 M1221.6,1398.3V1388.0 M1235.9,1401.2V1397.9 M1235.9,1397.9V1388.0 M1243.1,1402.6V1397.0 M1250.2,1403.3V1397.0 M1243.1,1397.0H1250.2 M1246.7,1397.0V1392.0 M1257.4,1402.0V1397.0 M1264.5,1403.4V1397.0 M1257.4,1397.0H1264.5 M1261.0,1397.0V1392.0 M1271.7,1404.0V1399.3 M1278.8,1406.7V1399.3 M1286.0,1402.8V1399.3 M1293.1,1405.8V1399.3 M1300.3,1406.1V1399.3 M1271.7,1399.3H1300.3 M1286.0,1399.3V1392.0 M1307.4,1405.4V1400.2 M1314.6,1403.2V1400.2 M1307.4,1400.2H1314.6 M1311.0,1400.2V1392.0 M1321.7,1402.4V1397.0 M1328.9,1400.5V1397.0 M1336.0,1403.0V1397.0 M1343.2,1400.0V1397.0 M1321.7,1397.0H1343.2 M1332.5,1397.0V1392.0 M1350.3,1404.7V1401.0 M1357.5,1403.6V1401.0 M1350.3,1401.0H1357.5 M1353.9,1401.0V1396.0 M1364.6,1406.0V1401.0 M1371.8,1406.6V1401.0 M1378.9,1405.6V1401.0 M1364.6,1401.0H1378.9 M1371.8,1401.0V1396.0 M1386.1,1406.2V1401.0 M1393.2,1408.7V1401.0 M1400.4,1406.4V1401.0 M1386.1,1401.0H1400.4 M1393.2,1401.0V1396.0 M1407.5,1403.7V1401.0 M1414.7,1409.0V1401.0 M1421.8,1408.4V1401.0 M1407.5,1401.0H1421.8 M1414.7,1401.0V1396.0 M1429.0,1406.4V1401.0 M1429.0,1401.0V1396.0 M1443.3,1405.3V1397.8 M1450.4,1400.6V1397.8 M1443.3,1397.8H1450.4 M1446.9,1397.8V1376.0 M1457.6,1404.0V1398.5 M1464.7,1402.7V1398.5 M1471.9,1405.0V1398.5 M1457.6,1398.5H1471.9 M1464.7,1398.5V1376.0 M1479.0,1402.1V1399.0 M1486.2,1405.4V1399.0 M1493.3,1404.0V1399.0 M1479.0,1399.0H1493.3 M1486.2,1399.0V1376.0 M1500.5,1403.4V1397.4 M1507.6,1400.2V1397.4 M1514.8,1403.2V1397.4 M1521.9,1402.0V1397.4 M1500.5,1397.4H1521.9 M1511.2,1397.4V1381.5 M1529.1,1403.9V1400.2 M1536.2,1407.2V1400.2 M1543.4,1406.7V1400.2 M1529.1,1400.2H1543.4 M1536.2,1400.2V1381.5 M1550.5,1405.7V1398.4 M1557.7,1401.1V1398.4 M1564.8,1404.2V1398.4 M1550.5,1398.4H1564.8 M1557.7,1398.4V1381.5 M1572.0,1404.5V1398.3 M1572.0,1398.3V1381.5 M1579.1,1399.7V1396.8 M1586.3,1400.4V1396.8 M1593.4,1402.7V1396.8 M1579.1,1396.8H1593.4 M1586.3,1396.8V1381.5 M1600.6,1398.1V1395.3 M1600.6,1395.3V1381.5 M1607.7,1401.6V1396.5 M1614.9,1401.9V1396.5 M1622.0,1399.1V1396.5 M1629.2,1403.2V1396.5 M1607.7,1396.5H1629.2 M1618.5,1396.5V1381.5 M1636.3,1403.1V1396.3 M1636.3,1396.3V1386.0 M1643.5,1401.8V1394.1 M1650.6,1399.8V1394.1 M1657.8,1401.9V1394.1 M1664.9,1402.0V1394.1 M1643.5,1394.1H1664.9 M1654.2,1394.1V1386.0 M1672.1,1402.9V1399.8 M1679.2,1404.2V1399.8 M1686.4,1403.6V1399.8 M1693.5,1406.6V1399.8 M1672.1,1399.8H1693.5 M1682.8,1399.8V1386.0 M1700.7,1399.1V1395.3 M1707.8,1398.5V1395.3 M1700.7,1395.3H1707.8 M1704.2,1395.3V1386.0 M1715.0,1402.5V1394.8 M1715.0,1394.8V1386.0 M1722.1,1405.4V1400.8 M1729.3,1407.4V1400.8 M1736.4,1405.9V1400.8 M1722.1,1400.8H1736.4 M1729.3,1400.8V1386.0 M1743.6,1402.2V1397.7 M1750.7,1403.6V1397.7 M1757.9,1401.5V1397.7 M1765.0,1401.6V1397.7 M1743.6,1397.7H1765.0 M1754.3,1397.7V1386.0 M1772.2,1401.2V1397.6 M1779.3,1402.5V1397.6 M1772.2,1397.6H1779.3 M1775.8,1397.6V1390.0 M1786.5,1403.2V1400.6 M1786.5,1400.6V1390.0 M1793.6,1401.9V1395.0 M1800.8,1397.8V1395.0 M1793.6,1395.0H1800.8 M1797.2,1395.0V1390.0 M1807.9,1402.9V1395.8 M1815.1,1401.6V1395.8 M1822.2,1399.5V1395.8 M1807.9,1395.8H1822.2 M1815.1,1395.8V1390.0 M1829.4,1403.0V1399.0 M1836.5,1403.2V1399.0 M1843.7,1405.9V1399.0 M1829.4,1399.0H1843.7 M1836.5,1399.0V1394.0 M1850.8,1407.7V1400.8 M1858.0,1408.3V1400.8 M1865.1,1408.4V1400.8 M1850.8,1400.8H1865.1 M1858.0,1400.8V1394.0 M1872.3,1407.7V1400.1 M1872.3,1400.1V1394.0 M1879.4,1403.8V1400.8 M1886.6,1405.0V1400.8 M1879.4,1400.8H1886.6 M1883.0,1400.8V1394.0 M1893.7,1404.8V1399.0 M1900.9,1404.2V1399.0 M1893.7,1399.0H1900.9 M1897.3,1399.0V1394.0 M1908.0,1406.1V1399.0 M1915.2,1403.7V1399.0 M1922.3,1402.6V1399.0 M1929.5,1403.0V1399.0 M1936.6,1404.0V1399.0 M1908.0,1399.0H1936.6 M1922.3,1399.0V1394.0 M1943.8,1404.6V1399.0 M1943.8,1399.0V1394.0 M1950.9,1402.5V1399.0 M1958.1,1403.7V1399.0 M1965.2,1403.3V1399.0 M1972.4,1402.4V1399.0 M1979.5,1404.5V1399.0 M1950.9,1399.0H1979.5 M1965.2,1399.0V1394.0 M1986.7,1409.0V1405.0 M1993.8,1409.0V1405.0 M1986.7,1405.0H1993.8 M1990.2,1405.0V1400.0 M2001.0,1409.0V1406.0 M2008.1,1409.0V1406.0 M2015.3,1409.0V1406.0 M2022.4,1409.0V1406.0 M2001.0,1406.0H2022.4 M2011.7,1406.0V1405.0 M2029.6,1409.0V1406.0 M2036.7,1409.0V1406.0 M2043.9,1409.0V1406.0 M2029.6,1406.0H2043.9 M2036.7,1406.0V1405.0 M825.0,1378.5H860.4 M812.0,1392.0H845.0 M845.0,1388.0H905.0 M937.0,1379.4H1116.8 M1000.0,1384.0H1240.0 M1116.8,1388.0H1353.0 M1240.0,1392.0H1378.0 M1353.0,1396.0H1432.0 M905.0,1388.5H990.0 M1435.0,1376.0H1634.5 M1505.0,1381.5H1762.5 M1634.5,1386.0H1815.7 M1762.5,1390.0H1975.0 M1815.7,1394.0H2008.6 M1975.0,1400.0H2036.0 M2008.6,1405.0H2047.0 M842.5,1378.5V1351.3H1281V1369 M1027,1379.4V1369H1534.7 M1534.7,1369V1376 M1634.5,1376V1381.5 M1762.5,1381.5V1386 M1815.7,1386V1390 M1975,1390V1394 M2008.6,1394V1400 M2036,1400V1405 M1116.8,1379.4V1384 M1240,1384V1388 M1353,1388V1392 M1378,1392V1396 M937,1379.4V1388.5 M825,1378.5V1392 M860.4,1378.5V1388 M1505,1376V1381.5" stroke="#000" stroke-width="4.5" stroke-linejoin="round" stroke-linecap="round"/>
</g>
<g id="hmlabels">
<text x="2061" y="1498.1" font-family="'Liberation Serif', 'Noto Serif CJK SC', serif" font-size="34" fill="#111">TAC1</text>
<text x="2061" y="1534.5" font-family="'Liberation Serif', 'Noto Serif CJK SC', serif" font-size="34" fill="#111">SLC25A46</text>
<text x="2061" y="1571.0" font-family="'Liberation Serif', 'Noto Serif CJK SC', serif" font-size="34" fill="#111">ANKIB1</text>
<text x="2061" y="1607.4" font-family="'Liberation Serif', 'Noto Serif CJK SC', serif" font-size="34" fill="#111">ZNF621</text>
<text x="2061" y="1643.8" font-family="'Liberation Serif', 'Noto Serif CJK SC', serif" font-size="34" fill="#111">XIST</text>
<text x="2061" y="1680.2" font-family="'Liberation Serif', 'Noto Serif CJK SC', serif" font-size="34" fill="#111">IRF7</text>
<text x="2061" y="1716.7" font-family="'Liberation Serif', 'Noto Serif CJK SC', serif" font-size="34" fill="#111">CXCR4</text>
<text x="2061" y="1753.1" font-family="'Liberation Serif', 'Noto Serif CJK SC', serif" font-size="34" fill="#111">SERPINI2</text>
<text x="2061" y="1789.5" font-family="'Liberation Serif', 'Noto Serif CJK SC', serif" font-size="34" fill="#111">PHYHD1</text>
<text x="2061" y="1826.0" font-family="'Liberation Serif', 'Noto Serif CJK SC', serif" font-size="34" fill="#111">VAC14-AS1</text>
<text x="2061" y="1897.9" font-family="'Liberation Serif', 'Noto Serif CJK SC', serif" font-size="34" fill="#111">VIP</text>
<text x="2061" y="1934.4" font-family="'Liberation Serif', 'Noto Serif CJK SC', serif" font-size="34" fill="#111">CLVS1</text>
<text x="2061" y="1970.8" font-family="'Liberation Serif', 'Noto Serif CJK SC', serif" font-size="34" fill="#111">LY86-AS1</text>
<text x="2061" y="2007.3" font-family="'Liberation Serif', 'Noto Serif CJK SC', serif" font-size="34" fill="#111">LRRC73</text>
<text x="2061" y="2043.8" font-family="'Liberation Serif', 'Noto Serif CJK SC', serif" font-size="34" fill="#111">SLC30A3</text>
<text x="2061" y="2080.2" font-family="'Liberation Serif', 'Noto Serif CJK SC', serif" font-size="34" fill="#111">LOC401442</text>
<text x="2061" y="2116.7" font-family="'Liberation Serif', 'Noto Serif CJK SC', serif" font-size="34" fill="#111">ATOH7</text>
<text x="2061" y="2153.2" font-family="'Liberation Serif', 'Noto Serif CJK SC', serif" font-size="34" fill="#111">RHCG</text>
<text x="2061" y="2189.7" font-family="'Liberation Serif', 'Noto Serif CJK SC', serif" font-size="34" fill="#111">RAE1</text>
<text x="2061" y="2226.1" font-family="'Liberation Serif', 'Noto Serif CJK SC', serif" font-size="34" fill="#111">LOC10192715</text>
<text x="2237" y="1430.6" font-family="'Liberation Sans', 'Noto Sans CJK SC', sans-serif" font-size="45.5">Expression</text>
<rect x="2300.6" y="1453.20" width="57.8" height="14.64" fill="#0047a5" shape-rendering="crispEdges"/>
<rect x="2300.6" y="1467.34" width="57.8" height="14.64" fill="#405bac" shape-rendering="crispEdges"/>
<rect x="2300.6" y="1481.48" width="57.8" height="14.64" fill="#6875bb" shape-rendering="crispEdges"/>
<rect x="2300.6" y="1495.62" width="57.8" height="14.64" fill="#8a8dc8" shape-rendering="crispEdges"/>
<rect x="2300.6" y="1509.76" width="57.8" height="14.64" fill="#a0a1d3" shape-rendering="crispEdges"/>
<rect x="2300.6" y="1523.90" width="57.8" height="14.64" fill="#b5b5dd" shape-rendering="crispEdges"/>
<rect x="2300.6" y="1538.04" width="57.8" height="14.64" fill="#c7c6e5" shape-rendering="crispEdges"/>
<rect x="2300.6" y="1552.18" width="57.8" height="14.64" fill="#d7d6ec" shape-rendering="crispEdges"/>
<rect x="2300.6" y="1566.32" width="57.8" height="14.64" fill="#e4e4f2" shape-rendering="crispEdges"/>
<rect x="2300.6" y="1580.46" width="57.8" height="14.64" fill="#f2f2f9" shape-rendering="crispEdges"/>
<rect x="2300.6" y="1594.60" width="57.8" height="14.64" fill="#ffffff" shape-rendering="crispEdges"/>
<rect x="2300.6" y="1608.74" width="57.8" height="14.64" fill="#fff0ef" shape-rendering="crispEdges"/>
<rect x="2300.6" y="1622.88" width="57.8" height="14.64" fill="#ffe0df" shape-rendering="crispEdges"/>
<rect x="2300.6" y="1637.02" width="57.8" height="14.64" fill="#ffd0cf" shape-rendering="crispEdges"/>
<rect x="2300.6" y="1651.16" width="57.8" height="14.64" fill="#ffc0c0" shape-rendering="crispEdges"/>
<rect x="2300.6" y="1665.30" width="57.8" height="14.64" fill="#ffb0b0" shape-rendering="crispEdges"/>
<rect x="2300.6" y="1679.44" width="57.8" height="14.64" fill="#ffa0a0" shape-rendering="crispEdges"/>
<rect x="2300.6" y="1693.58" width="57.8" height="14.64" fill="#ff8c8c" shape-rendering="crispEdges"/>
<rect x="2300.6" y="1707.72" width="57.8" height="14.64" fill="#ff7475" shape-rendering="crispEdges"/>
<rect x="2300.6" y="1721.86" width="57.8" height="14.64" fill="#ff5555" shape-rendering="crispEdges"/>
<line x1="2359.2" y1="1451" x2="2359.2" y2="1736" stroke="#2a2a2a" stroke-width="3"/>
<line x1="2358" y1="1458" x2="2373.8" y2="1458" stroke="#000" stroke-width="4.4"/>
<line x1="2358" y1="1489.1" x2="2373.8" y2="1489.1" stroke="#000" stroke-width="4.4"/>
<text x="2383.5" y="1499.8" font-family="'Liberation Serif', 'Noto Serif CJK SC', serif" font-size="34.5" fill="#111">0</text>
<line x1="2358" y1="1526.8" x2="2373.8" y2="1526.8" stroke="#000" stroke-width="4.4"/>
<text x="2383.5" y="1534.2" font-family="'Liberation Serif', 'Noto Serif CJK SC', serif" font-size="34.5" fill="#111">2</text>
<line x1="2358" y1="1568.5" x2="2373.8" y2="1568.5" stroke="#000" stroke-width="4.4"/>
<text x="2383.5" y="1575.2" font-family="'Liberation Serif', 'Noto Serif CJK SC', serif" font-size="34.5" fill="#111">4</text>
<line x1="2358" y1="1611.1" x2="2373.8" y2="1611.1" stroke="#000" stroke-width="4.4"/>
<text x="2383.5" y="1618.5" font-family="'Liberation Serif', 'Noto Serif CJK SC', serif" font-size="34.5" fill="#111">6</text>
<line x1="2358" y1="1652.4" x2="2373.8" y2="1652.4" stroke="#000" stroke-width="4.4"/>
<text x="2383.5" y="1660.6" font-family="'Liberation Serif', 'Noto Serif CJK SC', serif" font-size="34.5" fill="#111">8</text>
<line x1="2358" y1="1692.8" x2="2373.8" y2="1692.8" stroke="#000" stroke-width="4.4"/>
<text x="2383.5" y="1700" font-family="'Liberation Serif', 'Noto Serif CJK SC', serif" font-size="34.5" fill="#111">10</text>
<line x1="2358" y1="1733.2" x2="2373.8" y2="1733.2" stroke="#000" stroke-width="4.4"/>
<text x="2383.5" y="1746" font-family="'Liberation Serif', 'Noto Serif CJK SC', serif" font-size="34.5" fill="#111">12</text>
<text x="2284" y="1799" font-family="'Liberation Sans', 'Noto Sans CJK SC', sans-serif" font-size="45.5">Group</text>
<circle cx="2307.2" cy="1835" r="17.3" fill="#d01b1b"/>
<circle cx="2307.2" cy="1883" r="17.3" fill="#00408a"/>
<text x="2341.5" y="1845.2" font-family="'Liberation Serif', 'Noto Serif CJK SC', serif" font-size="34" fill="#111">ND</text>
<text x="2341.5" y="1893.6" font-family="'Liberation Serif', 'Noto Serif CJK SC', serif" font-size="34" fill="#111">AD</text>
</g>
</svg>
</body>
</html>
